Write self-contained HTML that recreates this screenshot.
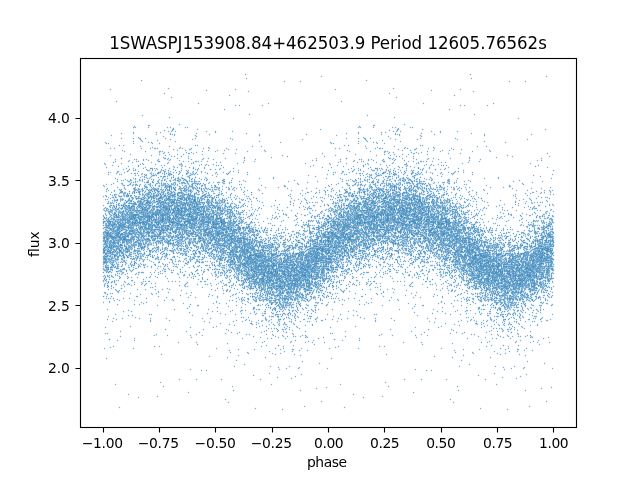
<!DOCTYPE html>
<html lang="en"><head><meta charset="utf-8"><title>1SWASPJ153908.84+462503.9 phase-folded light curve</title>
<style>
html,body{margin:0;padding:0;background:#fff;overflow:hidden}
svg{display:block}
text{font-family:"DejaVu Sans","Liberation Sans",sans-serif;font-size:13.889px;fill:#000}
.t{font-size:16.667px}
</style></head>
<body>
<svg width="640" height="480" viewBox="0 0 640 480">
<rect width="640" height="480" fill="#fff"/>
<defs>
<path id="L1" d="M328 185h.01m0 11h-.01m0 9h.01m0 4h-.01m0 6h.01m0 1h-.01m0 3h.01m0 2h-.01m0 1h.01m0 1h-.01m0 2h.01m0 3h-.01m0 4h.01m0 1h-.01m0 1h.01m0 2h-.01m0 1h.01m0 1h-.01m0 2h.01m0 1h-.01m0 3h.01m0 2h-.01m0 2h.01m0 1h-.01m0 1h.01m0 1h-.01m0 1h.01m0 1h-.01m0 3h.01m0 1h-.01m0 1h.01m0 1h-.01m0 2h.01m0 1h-.01m0 1h.01m0 1h-.01m0 2h.01m0 2h-.01m0 1h.01m0 3h-.01m0 4h.01m0 4h-.01m0 1h.01m0 15h-.01m0 6h.01M329 163h.01m0 23h-.01m0 22h.01m0 2h-.01m0 7h.01m0 1h-.01m0 3h.01m0 6h-.01m0 4h.01m0 1h-.01m0 2h.01m0 1h-.01m0 1h.01m0 1h-.01m0 1h.01m0 1h-.01m0 1h.01m0 1h-.01m0 2h.01m0 1h-.01m0 3h.01m0 1h-.01m0 2h.01m0 1h-.01m0 1h.01m0 3h-.01m0 1h.01m0 1h-.01m0 1h.01m0 1h-.01m0 2h.01m0 1h-.01m0 1h.01m0 6h-.01m0 1h.01m0 5h-.01m0 3h.01m0 1h-.01m0 5h.01m0 1h-.01m0 1h.01m0 6h-.01m0 56h.01M330 142h.01m0 22h-.01m0 31h.01m0 4h-.01m0 8h.01m0 4h-.01m0 2h.01m0 1h-.01m0 4h.01m0 3h-.01m0 2h.01m0 1h-.01m0 1h.01m0 2h-.01m0 2h.01m0 2h-.01m0 1h.01m0 1h-.01m0 2h.01m0 1h-.01m0 1h.01m0 3h-.01m0 1h.01m0 1h-.01m0 1h.01m0 1h-.01m0 2h.01m0 1h-.01m0 2h.01m0 1h-.01m0 3h.01m0 1h-.01m0 2h.01m0 2h-.01m0 1h.01m0 1h-.01m0 1h.01m0 1h-.01m0 3h.01m0 1h-.01m0 1h.01m0 3h-.01m0 6h.01m0 1h-.01m0 3h.01m0 3h-.01m0 9h.01m0 1h-.01m0 34h.01m0 6h-.01M331 143h.01m0 24h-.01m0 17h.01m0 5h-.01m0 2h.01m0 5h-.01m0 12h.01m0 1h-.01m0 1h.01m0 5h-.01m0 2h.01m0 1h-.01m0 2h.01m0 3h-.01m0 1h.01m0 1h-.01m0 1h.01m0 1h-.01m0 2h.01m0 1h-.01m0 2h.01m0 1h-.01m0 1h.01m0 1h-.01m0 1h.01m0 1h-.01m0 1h.01m0 1h-.01m0 1h.01m0 1h-.01m0 2h.01m0 1h-.01m0 1h.01m0 1h-.01m0 1h.01m0 2h-.01m0 3h.01m0 1h-.01m0 1h.01m0 2h-.01m0 1h.01m0 2h-.01m0 1h.01m0 2h-.01m0 1h.01m0 1h-.01m0 2h.01m0 1h-.01m0 1h.01m0 1h-.01m0 2h.01m0 1h-.01m0 7h.01m0 2h-.01m0 15h.01m0 2h-.01m0 60h.01M332 188h.01m0 11h-.01m0 4h.01m0 5h-.01m0 2h.01m0 9h-.01m0 2h.01m0 1h-.01m0 3h.01m0 2h-.01m0 3h.01m0 2h-.01m0 1h.01m0 1h-.01m0 1h.01m0 1h-.01m0 2h.01m0 1h-.01m0 1h.01m0 1h-.01m0 1h.01m0 1h-.01m0 2h.01m0 1h-.01m0 2h.01m0 2h-.01m0 1h.01m0 2h-.01m0 2h.01m0 1h-.01m0 2h.01m0 3h-.01m0 1h.01m0 3h-.01m0 2h.01m0 1h-.01m0 1h.01m0 1h-.01m0 1h.01m0 4h-.01m0 1h.01m0 7h-.01m0 2h.01m0 2h-.01m0 7h.01m0 15h-.01m0 10h.01m0 14h-.01M333 143h.01m0 29h-.01m0 2h.01m0 16h-.01m0 7h.01m0 4h-.01m0 1h.01m0 1h-.01m0 6h.01m0 2h-.01m0 1h.01m0 6h-.01m0 1h.01m0 1h-.01m0 1h.01m0 1h-.01m0 1h.01m0 1h-.01m0 1h.01m0 1h-.01m0 2h.01m0 3h-.01m0 1h.01m0 1h-.01m0 1h.01m0 1h-.01m0 1h.01m0 1h-.01m0 1h.01m0 1h-.01m0 1h.01m0 3h-.01m0 4h.01m0 2h-.01m0 2h.01m0 2h-.01m0 2h.01m0 3h-.01m0 1h.01m0 2h-.01m0 4h.01m0 2h-.01m0 1h.01m0 1h-.01m0 3h.01m0 4h-.01m0 5h.01m0 1h-.01m0 4h.01m0 3h-.01m0 9h.01m0 18h-.01M334 206h.01m0 5h-.01m0 1h.01m0 1h-.01m0 1h.01m0 3h-.01m0 3h.01m0 1h-.01m0 1h.01m0 1h-.01m0 1h.01m0 1h-.01m0 2h.01m0 1h-.01m0 2h.01m0 3h-.01m0 1h.01m0 1h-.01m0 1h.01m0 2h-.01m0 3h.01m0 1h-.01m0 2h.01m0 1h-.01m0 1h.01m0 1h-.01m0 3h.01m0 1h-.01m0 1h.01m0 1h-.01m0 3h.01m0 2h-.01m0 1h.01m0 1h-.01m0 2h.01m0 9h-.01m0 4h.01m0 2h-.01m0 2h.01m0 22h-.01m0 1h.01m0 37h-.01M335 89h.01m0 59h-.01m0 7h.01m0 17h-.01m0 22h.01m0 4h-.01m0 4h.01m0 1h-.01m0 2h.01m0 2h-.01m0 2h.01m0 1h-.01m0 1h.01m0 3h-.01m0 2h.01m0 3h-.01m0 2h.01m0 1h-.01m0 1h.01m0 1h-.01m0 2h.01m0 2h-.01m0 1h.01m0 3h-.01m0 1h.01m0 1h-.01m0 1h.01m0 1h-.01m0 1h.01m0 3h-.01m0 1h.01m0 1h-.01m0 1h.01m0 1h-.01m0 1h.01m0 1h-.01m0 1h.01m0 1h-.01m0 1h.01m0 1h-.01m0 1h.01m0 1h-.01m0 1h.01m0 2h-.01m0 1h.01m0 3h-.01m0 2h.01m0 2h-.01m0 4h.01m0 2h-.01m0 2h.01m0 22h-.01m0 5h.01m0 49h-.01M336 135h.01m0 49h-.01m0 8h.01m0 11h-.01m0 2h.01m0 5h-.01m0 2h.01m0 3h-.01m0 2h.01m0 1h-.01m0 1h.01m0 2h-.01m0 3h.01m0 1h-.01m0 3h.01m0 1h-.01m0 1h.01m0 2h-.01m0 2h.01m0 1h-.01m0 1h.01m0 1h-.01m0 1h.01m0 2h-.01m0 1h.01m0 1h-.01m0 2h.01m0 1h-.01m0 1h.01m0 1h-.01m0 1h.01m0 1h-.01m0 1h.01m0 2h-.01m0 2h.01m0 3h-.01m0 1h.01m0 1h-.01m0 1h.01m0 2h-.01m0 2h.01m0 2h-.01m0 1h.01m0 2h-.01m0 3h.01m0 3h-.01m0 1h.01m0 6h-.01m0 3h.01m0 1h-.01m0 2h.01m0 8h-.01M337 165h.01m0 30h-.01m0 2h.01m0 3h-.01m0 2h.01m0 5h-.01m0 1h.01m0 2h-.01m0 1h.01m0 2h-.01m0 5h.01m0 3h-.01m0 1h.01m0 1h-.01m0 1h.01m0 1h-.01m0 1h.01m0 1h-.01m0 2h.01m0 2h-.01m0 2h.01m0 2h-.01m0 1h.01m0 1h-.01m0 1h.01m0 1h-.01m0 3h.01m0 1h-.01m0 2h.01m0 2h-.01m0 1h.01m0 3h-.01m0 1h.01m0 1h-.01m0 1h.01m0 2h-.01m0 1h.01m0 1h-.01m0 2h.01m0 2h-.01m0 1h.01m0 1h-.01m0 1h.01m0 2h-.01m0 2h.01m0 1h-.01m0 6h.01m0 5h-.01m0 12h.01m0 28h-.01M338 162h.01m0 21h-.01m0 14h.01m0 6h-.01m0 2h.01m0 1h-.01m0 3h.01m0 5h-.01m0 1h.01m0 1h-.01m0 2h.01m0 1h-.01m0 1h.01m0 2h-.01m0 1h.01m0 1h-.01m0 1h.01m0 1h-.01m0 2h.01m0 1h-.01m0 1h.01m0 1h-.01m0 1h.01m0 1h-.01m0 3h.01m0 1h-.01m0 1h.01m0 1h-.01m0 1h.01m0 1h-.01m0 1h.01m0 1h-.01m0 1h.01m0 1h-.01m0 1h.01m0 1h-.01m0 2h.01m0 2h-.01m0 1h.01m0 2h-.01m0 4h.01m0 2h-.01m0 1h.01m0 1h-.01m0 3h.01m0 1h-.01m0 11h.01m0 10h-.01m0 11h.01m0 20h-.01m0 28h.01M339 148h.01m0 42h-.01m0 1h.01m0 3h-.01m0 1h.01m0 4h-.01m0 1h.01m0 1h-.01m0 5h.01m0 1h-.01m0 2h.01m0 3h-.01m0 1h.01m0 1h-.01m0 2h.01m0 1h-.01m0 2h.01m0 3h-.01m0 1h.01m0 1h-.01m0 1h.01m0 2h-.01m0 1h.01m0 2h-.01m0 1h.01m0 1h-.01m0 2h.01m0 2h-.01m0 1h.01m0 1h-.01m0 2h.01m0 1h-.01m0 1h.01m0 1h-.01m0 2h.01m0 1h-.01m0 3h.01m0 1h-.01m0 2h.01m0 2h-.01m0 1h.01m0 1h-.01m0 1h.01m0 3h-.01m0 4h.01m0 3h-.01m0 13h.01m0 1h-.01m0 1h.01m0 18h-.01M340 159h.01m0 2h-.01m0 17h.01m0 16h-.01m0 2h.01m0 1h-.01m0 3h.01m0 8h-.01m0 2h.01m0 2h-.01m0 1h.01m0 2h-.01m0 2h.01m0 3h-.01m0 1h.01m0 2h-.01m0 1h.01m0 1h-.01m0 1h.01m0 1h-.01m0 3h.01m0 1h-.01m0 2h.01m0 2h-.01m0 2h.01m0 1h-.01m0 1h.01m0 1h-.01m0 2h.01m0 1h-.01m0 1h.01m0 2h-.01m0 1h.01m0 3h-.01m0 1h.01m0 3h-.01m0 1h.01m0 1h-.01m0 2h.01m0 1h-.01m0 2h.01m0 5h-.01m0 1h.01m0 7h-.01m0 1h.01m0 9h-.01m0 5h.01m0 25h-.01m0 70h.01M341 101h.01m0 72h-.01m0 21h.01m0 3h-.01m0 3h.01m0 2h-.01m0 2h.01m0 1h-.01m0 1h.01m0 1h-.01m0 2h.01m0 2h-.01m0 3h.01m0 1h-.01m0 1h.01m0 1h-.01m0 2h.01m0 2h-.01m0 3h.01m0 1h-.01m0 1h.01m0 3h-.01m0 1h.01m0 1h-.01m0 1h.01m0 1h-.01m0 1h.01m0 1h-.01m0 1h.01m0 1h-.01m0 1h.01m0 2h-.01m0 2h.01m0 3h-.01m0 1h.01m0 2h-.01m0 1h.01m0 1h-.01m0 2h.01m0 1h-.01m0 2h.01m0 4h-.01m0 3h.01m0 1h-.01m0 5h.01m0 3h-.01m0 9h.01m0 4h-.01m0 6h.01m0 29h-.01M342 171h.01m0 1h-.01m0 7h.01m0 2h-.01m0 6h.01m0 12h-.01m0 1h.01m0 9h-.01m0 7h.01m0 1h-.01m0 2h.01m0 2h-.01m0 1h.01m0 1h-.01m0 3h.01m0 1h-.01m0 1h.01m0 1h-.01m0 1h.01m0 1h-.01m0 1h.01m0 2h-.01m0 1h.01m0 1h-.01m0 1h.01m0 2h-.01m0 1h.01m0 1h-.01m0 1h.01m0 1h-.01m0 3h.01m0 1h-.01m0 1h.01m0 3h-.01m0 1h.01m0 1h-.01m0 1h.01m0 2h-.01m0 1h.01m0 1h-.01m0 1h.01m0 1h-.01m0 4h.01m0 1h-.01m0 1h.01m0 1h-.01m0 1h.01m0 3h-.01m0 2h.01m0 2h-.01m0 16h.01m0 8h-.01m0 5h.01m0 36h-.01M343 166h.01m0 5h-.01m0 24h.01m0 8h-.01m0 1h.01m0 1h-.01m0 3h.01m0 1h-.01m0 2h.01m0 1h-.01m0 1h.01m0 1h-.01m0 1h.01m0 1h-.01m0 1h.01m0 2h-.01m0 1h.01m0 2h-.01m0 1h.01m0 1h-.01m0 1h.01m0 1h-.01m0 1h.01m0 1h-.01m0 1h.01m0 1h-.01m0 2h.01m0 1h-.01m0 1h.01m0 1h-.01m0 1h.01m0 1h-.01m0 2h.01m0 1h-.01m0 1h.01m0 1h-.01m0 1h.01m0 1h-.01m0 1h.01m0 1h-.01m0 1h.01m0 1h-.01m0 1h.01m0 3h-.01m0 4h.01m0 1h-.01m0 2h.01m0 3h-.01m0 2h.01m0 2h-.01m0 2h.01m0 3h-.01m0 9h.01m0 11h-.01m0 1h.01M344 145h.01m0 29h-.01m0 15h.01m0 4h-.01m0 3h.01m0 7h-.01m0 2h.01m0 2h-.01m0 3h.01m0 2h-.01m0 3h.01m0 2h-.01m0 2h.01m0 2h-.01m0 1h.01m0 2h-.01m0 1h.01m0 1h-.01m0 1h.01m0 1h-.01m0 1h.01m0 1h-.01m0 1h.01m0 1h-.01m0 1h.01m0 3h-.01m0 1h.01m0 1h-.01m0 1h.01m0 1h-.01m0 1h.01m0 4h-.01m0 1h.01m0 2h-.01m0 1h.01m0 1h-.01m0 1h.01m0 1h-.01m0 1h.01m0 1h-.01m0 1h.01m0 15h-.01m0 3h.01m0 3h-.01m0 2h.01m0 12h-.01m0 10h.01m0 107h-.01M345 190h.01m0 2h-.01m0 4h.01m0 2h-.01m0 1h.01m0 1h-.01m0 1h.01m0 7h-.01m0 3h.01m0 1h-.01m0 1h.01m0 3h-.01m0 2h.01m0 1h-.01m0 1h.01m0 1h-.01m0 1h.01m0 1h-.01m0 1h.01m0 1h-.01m0 1h.01m0 1h-.01m0 2h.01m0 2h-.01m0 3h.01m0 1h-.01m0 1h.01m0 1h-.01m0 1h.01m0 1h-.01m0 1h.01m0 2h-.01m0 2h.01m0 1h-.01m0 1h.01m0 1h-.01m0 3h.01m0 1h-.01m0 4h.01m0 7h-.01m0 7h.01m0 2h-.01m0 6h.01m0 54h-.01m0 5h.01M346 133h.01m0 5h-.01m0 20h.01m0 5h-.01m0 11h.01m0 6h-.01m0 3h.01m0 6h-.01m0 2h.01m0 1h-.01m0 4h.01m0 3h-.01m0 6h.01m0 3h-.01m0 1h.01m0 3h-.01m0 2h.01m0 1h-.01m0 1h.01m0 3h-.01m0 1h.01m0 3h-.01m0 1h.01m0 1h-.01m0 1h.01m0 1h-.01m0 1h.01m0 2h-.01m0 3h.01m0 1h-.01m0 3h.01m0 1h-.01m0 1h.01m0 5h-.01m0 1h.01m0 2h-.01m0 1h.01m0 1h-.01m0 1h.01m0 1h-.01m0 1h.01m0 1h-.01m0 3h.01m0 2h-.01m0 1h.01m0 2h-.01m0 5h.01m0 4h-.01m0 1h.01m0 3h-.01m0 11h.01m0 3h-.01M347 150h.01m0 33h-.01m0 1h.01m0 7h-.01m0 1h.01m0 6h-.01m0 1h.01m0 1h-.01m0 5h.01m0 2h-.01m0 1h.01m0 3h-.01m0 1h.01m0 1h-.01m0 1h.01m0 1h-.01m0 1h.01m0 1h-.01m0 1h.01m0 2h-.01m0 1h.01m0 1h-.01m0 2h.01m0 1h-.01m0 1h.01m0 1h-.01m0 1h.01m0 1h-.01m0 1h.01m0 3h-.01m0 1h.01m0 1h-.01m0 1h.01m0 1h-.01m0 2h.01m0 1h-.01m0 1h.01m0 1h-.01m0 1h.01m0 2h-.01m0 2h.01m0 1h-.01m0 4h.01m0 1h-.01m0 2h.01m0 3h-.01m0 1h.01m0 3h-.01m0 2h.01m0 1h-.01m0 4h.01m0 3h-.01m0 1h.01m0 45h-.01M348 145h.01m0 24h-.01m0 11h.01m0 5h-.01m0 8h.01m0 1h-.01m0 1h.01m0 4h-.01m0 5h.01m0 1h-.01m0 1h.01m0 4h-.01m0 1h.01m0 1h-.01m0 1h.01m0 2h-.01m0 1h.01m0 1h-.01m0 1h.01m0 1h-.01m0 1h.01m0 2h-.01m0 1h.01m0 1h-.01m0 1h.01m0 1h-.01m0 2h.01m0 1h-.01m0 3h.01m0 2h-.01m0 2h.01m0 1h-.01m0 1h.01m0 1h-.01m0 1h.01m0 1h-.01m0 1h.01m0 7h-.01m0 1h.01m0 1h-.01m0 2h.01m0 1h-.01m0 1h.01m0 1h-.01m0 1h.01m0 3h-.01m0 1h.01m0 7h-.01m0 1h.01m0 3h-.01m0 12h.01m0 14h-.01m0 13h.01M349 151h.01m0 21h-.01m0 13h.01m0 2h-.01m0 1h.01m0 4h-.01m0 1h.01m0 2h-.01m0 1h.01m0 6h-.01m0 1h.01m0 1h-.01m0 2h.01m0 1h-.01m0 1h.01m0 5h-.01m0 1h.01m0 2h-.01m0 1h.01m0 2h-.01m0 1h.01m0 3h-.01m0 1h.01m0 1h-.01m0 1h.01m0 1h-.01m0 2h.01m0 3h-.01m0 2h.01m0 2h-.01m0 1h.01m0 1h-.01m0 1h.01m0 2h-.01m0 1h.01m0 2h-.01m0 1h.01m0 1h-.01m0 4h.01m0 6h-.01m0 1h.01m0 1h-.01m0 2h.01m0 1h-.01m0 7h.01m0 1h-.01m0 12h.01m0 5h-.01m0 5h.01M350 179h.01m0 10h-.01m0 3h.01m0 1h-.01m0 7h.01m0 3h-.01m0 2h.01m0 2h-.01m0 1h.01m0 1h-.01m0 1h.01m0 1h-.01m0 3h.01m0 1h-.01m0 1h.01m0 1h-.01m0 1h.01m0 1h-.01m0 1h.01m0 1h-.01m0 1h.01m0 1h-.01m0 1h.01m0 2h-.01m0 1h.01m0 2h-.01m0 2h.01m0 1h-.01m0 1h.01m0 2h-.01m0 1h.01m0 1h-.01m0 1h.01m0 1h-.01m0 1h.01m0 6h-.01m0 2h.01m0 1h-.01m0 1h.01m0 1h-.01m0 1h.01m0 2h-.01m0 8h.01m0 2h-.01m0 10h.01m0 8h-.01M351 168h.01m0 27h-.01m0 1h.01m0 5h-.01m0 1h.01m0 3h-.01m0 1h.01m0 2h-.01m0 1h.01m0 2h-.01m0 1h.01m0 1h-.01m0 2h.01m0 2h-.01m0 2h.01m0 3h-.01m0 3h.01m0 2h-.01m0 2h.01m0 1h-.01m0 1h.01m0 1h-.01m0 1h.01m0 1h-.01m0 2h.01m0 3h-.01m0 1h.01m0 1h-.01m0 1h.01m0 1h-.01m0 1h.01m0 2h-.01m0 1h.01m0 1h-.01m0 1h.01m0 2h-.01m0 1h.01m0 3h-.01m0 5h.01m0 3h-.01m0 7h.01m0 1h-.01M352 171h.01m0 9h-.01m0 5h.01m0 8h-.01m0 1h.01m0 2h-.01m0 5h.01m0 5h-.01m0 1h.01m0 2h-.01m0 3h.01m0 1h-.01m0 1h.01m0 2h-.01m0 2h.01m0 1h-.01m0 1h.01m0 1h-.01m0 1h.01m0 1h-.01m0 3h.01m0 1h-.01m0 3h.01m0 3h-.01m0 1h.01m0 1h-.01m0 1h.01m0 3h-.01m0 1h.01m0 1h-.01m0 1h.01m0 1h-.01m0 1h.01m0 4h-.01m0 1h.01m0 1h-.01m0 1h.01m0 1h-.01m0 4h.01m0 1h-.01m0 16h.01m0 3h-.01m0 2h.01m0 6h-.01M353 161h.01m0 5h-.01m0 4h.01m0 11h-.01m0 4h.01m0 10h-.01m0 1h.01m0 3h-.01m0 1h.01m0 3h-.01m0 2h.01m0 1h-.01m0 1h.01m0 1h-.01m0 2h.01m0 1h-.01m0 3h.01m0 1h-.01m0 2h.01m0 2h-.01m0 1h.01m0 1h-.01m0 1h.01m0 1h-.01m0 2h.01m0 1h-.01m0 1h.01m0 1h-.01m0 1h.01m0 3h-.01m0 1h.01m0 1h-.01m0 1h.01m0 1h-.01m0 1h.01m0 2h-.01m0 1h.01m0 1h-.01m0 2h.01m0 2h-.01m0 1h.01m0 1h-.01m0 1h.01m0 1h-.01m0 1h.01m0 1h-.01m0 4h.01m0 2h-.01m0 8h.01m0 2h-.01m0 10h.01m0 6h-.01m0 27h.01m0 5h-.01m0 79h.01M354 160h.01m0 9h-.01m0 12h.01m0 3h-.01m0 7h.01m0 2h-.01m0 5h.01m0 1h-.01m0 1h.01m0 2h-.01m0 1h.01m0 2h-.01m0 1h.01m0 1h-.01m0 1h.01m0 1h-.01m0 1h.01m0 2h-.01m0 1h.01m0 1h-.01m0 1h.01m0 1h-.01m0 1h.01m0 1h-.01m0 1h.01m0 1h-.01m0 1h.01m0 1h-.01m0 2h.01m0 1h-.01m0 2h.01m0 3h-.01m0 1h.01m0 1h-.01m0 1h.01m0 1h-.01m0 5h.01m0 1h-.01m0 2h.01m0 3h-.01m0 1h.01m0 1h-.01m0 2h.01m0 1h-.01m0 1h.01m0 2h-.01m0 1h.01m0 1h-.01m0 12h.01m0 2h-.01m0 15h.01m0 14h-.01M355 154h.01m0 25h-.01m0 1h.01m0 3h-.01m0 1h.01m0 11h-.01m0 1h.01m0 4h-.01m0 1h.01m0 2h-.01m0 4h.01m0 1h-.01m0 1h.01m0 1h-.01m0 2h.01m0 1h-.01m0 1h.01m0 1h-.01m0 1h.01m0 1h-.01m0 1h.01m0 1h-.01m0 2h.01m0 2h-.01m0 1h.01m0 1h-.01m0 1h.01m0 1h-.01m0 1h.01m0 2h-.01m0 1h.01m0 2h-.01m0 1h.01m0 3h-.01m0 1h.01m0 1h-.01m0 1h.01m0 1h-.01m0 2h.01m0 3h-.01m0 2h.01m0 4h-.01m0 2h.01m0 2h-.01m0 2h.01m0 5h-.01m0 1h.01m0 6h-.01m0 23h.01m0 33h-.01M356 173h.01m0 7h-.01m0 2h.01m0 13h-.01m0 2h.01m0 3h-.01m0 1h.01m0 2h-.01m0 3h.01m0 1h-.01m0 1h.01m0 3h-.01m0 1h.01m0 1h-.01m0 1h.01m0 1h-.01m0 1h.01m0 1h-.01m0 1h.01m0 1h-.01m0 3h.01m0 1h-.01m0 2h.01m0 1h-.01m0 1h.01m0 1h-.01m0 1h.01m0 1h-.01m0 1h.01m0 2h-.01m0 1h.01m0 2h-.01m0 1h.01m0 1h-.01m0 1h.01m0 1h-.01m0 1h.01m0 1h-.01m0 2h.01m0 1h-.01m0 2h.01m0 2h-.01m0 3h.01m0 2h-.01m0 2h.01m0 2h-.01m0 3h.01m0 1h-.01m0 3h.01m0 1h-.01m0 5h.01m0 6h-.01m0 3h.01m0 5h-.01m0 26h.01M357 162h.01m0 23h-.01m0 7h.01m0 1h-.01m0 4h.01m0 1h-.01m0 1h.01m0 4h-.01m0 2h.01m0 1h-.01m0 1h.01m0 2h-.01m0 1h.01m0 2h-.01m0 1h.01m0 1h-.01m0 1h.01m0 1h-.01m0 1h.01m0 1h-.01m0 1h.01m0 2h-.01m0 1h.01m0 1h-.01m0 1h.01m0 1h-.01m0 2h.01m0 1h-.01m0 1h.01m0 1h-.01m0 1h.01m0 1h-.01m0 1h.01m0 2h-.01m0 1h.01m0 1h-.01m0 1h.01m0 1h-.01m0 6h.01m0 1h-.01m0 2h.01m0 11h-.01m0 5h.01m0 6h-.01m0 10h.01m0 35h-.01M358 127h.01m0 5h-.01m0 1h.01m0 5h-.01m0 3h.01m0 2h-.01m0 25h.01m0 2h-.01m0 8h.01m0 4h-.01m0 2h.01m0 4h-.01m0 3h.01m0 7h-.01m0 3h.01m0 2h-.01m0 1h.01m0 1h-.01m0 1h.01m0 2h-.01m0 1h.01m0 1h-.01m0 2h.01m0 2h-.01m0 1h.01m0 1h-.01m0 1h.01m0 1h-.01m0 2h.01m0 2h-.01m0 2h.01m0 1h-.01m0 1h.01m0 1h-.01m0 1h.01m0 2h-.01m0 1h.01m0 1h-.01m0 1h.01m0 3h-.01m0 1h.01m0 2h-.01m0 1h.01m0 1h-.01m0 2h.01m0 1h-.01m0 1h.01m0 6h-.01m0 2h.01m0 3h-.01m0 2h.01m0 7h-.01m0 2h.01m0 2h-.01m0 79h.01M359 126h.01m0 33h-.01m0 14h.01m0 15h-.01m0 1h.01m0 1h-.01m0 1h.01m0 1h-.01m0 1h.01m0 2h-.01m0 7h.01m0 1h-.01m0 1h.01m0 2h-.01m0 1h.01m0 1h-.01m0 1h.01m0 2h-.01m0 3h.01m0 1h-.01m0 2h.01m0 1h-.01m0 1h.01m0 1h-.01m0 2h.01m0 1h-.01m0 1h.01m0 1h-.01m0 4h.01m0 2h-.01m0 1h.01m0 1h-.01m0 1h.01m0 2h-.01m0 2h.01m0 1h-.01m0 3h.01m0 1h-.01m0 1h.01m0 1h-.01m0 1h.01m0 1h-.01m0 2h.01m0 1h-.01m0 1h.01m0 2h-.01m0 5h.01m0 1h-.01m0 2h.01m0 1h-.01m0 1h.01m0 1h-.01m0 1h.01m0 17h-.01m0 2h.01m0 16h-.01m0 4h.01m0 34h-.01m0 2h.01M360 127h.01m0 42h-.01m0 1h.01m0 3h-.01m0 2h.01m0 3h-.01m0 1h.01m0 2h-.01m0 1h.01m0 2h-.01m0 1h.01m0 2h-.01m0 2h.01m0 1h-.01m0 6h.01m0 1h-.01m0 5h.01m0 1h-.01m0 1h.01m0 6h-.01m0 1h.01m0 3h-.01m0 1h.01m0 1h-.01m0 1h.01m0 1h-.01m0 2h.01m0 1h-.01m0 1h.01m0 1h-.01m0 1h.01m0 1h-.01m0 4h.01m0 1h-.01m0 2h.01m0 2h-.01m0 1h.01m0 1h-.01m0 5h.01m0 1h-.01m0 2h.01m0 1h-.01m0 5h.01m0 1h-.01m0 2h.01m0 2h-.01m0 2h.01m0 5h-.01m0 6h.01m0 6h-.01m0 43h.01M361 159h.01m0 2h-.01m0 23h.01m0 5h-.01m0 3h.01m0 4h-.01m0 2h.01m0 1h-.01m0 5h.01m0 3h-.01m0 1h.01m0 2h-.01m0 1h.01m0 1h-.01m0 2h.01m0 1h-.01m0 2h.01m0 2h-.01m0 1h.01m0 1h-.01m0 2h.01m0 2h-.01m0 1h.01m0 2h-.01m0 2h.01m0 2h-.01m0 1h.01m0 3h-.01m0 1h.01m0 2h-.01m0 2h.01m0 1h-.01m0 2h.01m0 1h-.01m0 5h.01m0 5h-.01m0 3h.01m0 1h-.01m0 1h.01m0 3h-.01m0 5h.01m0 5h-.01m0 23h.01M362 173h.01m0 8h-.01m0 4h.01m0 5h-.01m0 8h.01m0 3h-.01m0 1h.01m0 4h-.01m0 2h.01m0 1h-.01m0 1h.01m0 2h-.01m0 1h.01m0 1h-.01m0 1h.01m0 2h-.01m0 3h.01m0 1h-.01m0 1h.01m0 1h-.01m0 1h.01m0 1h-.01m0 4h.01m0 1h-.01m0 1h.01m0 1h-.01m0 2h.01m0 3h-.01m0 3h.01m0 1h-.01m0 1h.01m0 6h-.01m0 2h.01m0 1h-.01m0 1h.01m0 1h-.01m0 3h.01m0 1h-.01m0 1h.01m0 19h-.01m0 12h.01m0 7h-.01M363 137h.01m0 24h-.01m0 4h.01m0 1h-.01m0 5h.01m0 4h-.01m0 13h.01m0 1h-.01m0 2h.01m0 1h-.01m0 4h.01m0 1h-.01m0 1h.01m0 2h-.01m0 1h.01m0 1h-.01m0 2h.01m0 1h-.01m0 2h.01m0 3h-.01m0 1h.01m0 3h-.01m0 1h.01m0 1h-.01m0 1h.01m0 1h-.01m0 4h.01m0 2h-.01m0 1h.01m0 2h-.01m0 4h.01m0 1h-.01m0 2h.01m0 1h-.01m0 1h.01m0 1h-.01m0 1h.01m0 1h-.01m0 1h.01m0 2h-.01m0 1h.01m0 1h-.01m0 1h.01m0 1h-.01m0 2h.01m0 2h-.01m0 1h.01m0 3h-.01m0 2h.01m0 8h-.01m0 2h.01m0 1h-.01m0 5h.01m0 2h-.01m0 123h.01M364 138h.01m0 41h-.01m0 1h.01m0 5h-.01m0 1h.01m0 3h-.01m0 2h.01m0 1h-.01m0 1h.01m0 1h-.01m0 2h.01m0 2h-.01m0 3h.01m0 2h-.01m0 1h.01m0 1h-.01m0 1h.01m0 1h-.01m0 3h.01m0 2h-.01m0 1h.01m0 2h-.01m0 1h.01m0 2h-.01m0 1h.01m0 1h-.01m0 1h.01m0 1h-.01m0 1h.01m0 3h-.01m0 2h.01m0 1h-.01m0 3h.01m0 1h-.01m0 2h.01m0 1h-.01m0 3h.01m0 1h-.01m0 3h.01m0 1h-.01m0 1h.01m0 3h-.01m0 2h.01m0 1h-.01m0 2h.01m0 5h-.01m0 2h.01m0 5h-.01m0 7h.01m0 32h-.01m0 14h.01M365 138h.01m0 1h-.01m0 7h.01m0 18h-.01m0 13h.01m0 3h-.01m0 4h.01m0 7h-.01m0 3h.01m0 4h-.01m0 2h.01m0 1h-.01m0 1h.01m0 1h-.01m0 1h.01m0 1h-.01m0 1h.01m0 2h-.01m0 2h.01m0 2h-.01m0 1h.01m0 3h-.01m0 1h.01m0 1h-.01m0 1h.01m0 1h-.01m0 2h.01m0 1h-.01m0 1h.01m0 1h-.01m0 1h.01m0 1h-.01m0 1h.01m0 1h-.01m0 1h.01m0 1h-.01m0 1h.01m0 1h-.01m0 1h.01m0 3h-.01m0 2h.01m0 2h-.01m0 1h.01m0 1h-.01m0 1h.01m0 1h-.01m0 1h.01m0 1h-.01m0 4h.01m0 2h-.01m0 2h.01m0 1h-.01m0 1h.01m0 1h-.01m0 5h.01m0 3h-.01m0 28h.01M366 80h.01m0 60h-.01m0 8h.01m0 26h-.01m0 15h.01m0 9h-.01m0 1h.01m0 2h-.01m0 1h.01m0 1h-.01m0 1h.01m0 2h-.01m0 1h.01m0 1h-.01m0 2h.01m0 1h-.01m0 1h.01m0 1h-.01m0 1h.01m0 2h-.01m0 1h.01m0 1h-.01m0 1h.01m0 1h-.01m0 2h.01m0 4h-.01m0 1h.01m0 2h-.01m0 1h.01m0 2h-.01m0 1h.01m0 1h-.01m0 1h.01m0 1h-.01m0 1h.01m0 1h-.01m0 2h.01m0 3h-.01m0 1h.01m0 1h-.01m0 2h.01m0 1h-.01m0 1h.01m0 4h-.01m0 3h.01m0 2h-.01m0 6h.01m0 8h-.01m0 10h.01m0 2h-.01m0 18h.01M367 115h.01m0 26h-.01m0 22h.01m0 10h-.01m0 3h.01m0 3h-.01m0 1h.01m0 1h-.01m0 7h.01m0 1h-.01m0 1h.01m0 1h-.01m0 2h.01m0 1h-.01m0 1h.01m0 2h-.01m0 2h.01m0 3h-.01m0 1h.01m0 1h-.01m0 1h.01m0 2h-.01m0 1h.01m0 1h-.01m0 1h.01m0 1h-.01m0 1h.01m0 2h-.01m0 2h.01m0 1h-.01m0 2h.01m0 2h-.01m0 1h.01m0 1h-.01m0 1h.01m0 2h-.01m0 1h.01m0 1h-.01m0 5h.01m0 1h-.01m0 1h.01m0 1h-.01m0 3h.01m0 1h-.01m0 1h.01m0 5h-.01m0 1h.01m0 1h-.01m0 6h.01m0 1h-.01m0 4h.01m0 13h-.01m0 11h.01M368 159h.01m0 1h-.01m0 4h.01m0 4h-.01m0 22h.01m0 4h-.01m0 3h.01m0 2h-.01m0 2h.01m0 1h-.01m0 2h.01m0 2h-.01m0 2h.01m0 1h-.01m0 2h.01m0 1h-.01m0 1h.01m0 1h-.01m0 1h.01m0 1h-.01m0 1h.01m0 1h-.01m0 1h.01m0 1h-.01m0 1h.01m0 1h-.01m0 1h.01m0 1h-.01m0 1h.01m0 1h-.01m0 3h.01m0 1h-.01m0 1h.01m0 1h-.01m0 1h.01m0 2h-.01m0 1h.01m0 1h-.01m0 1h.01m0 2h-.01m0 2h.01m0 1h-.01m0 1h.01m0 3h-.01m0 1h.01m0 2h-.01m0 4h.01m0 2h-.01m0 4h.01m0 1h-.01m0 3h.01m0 1h-.01m0 7h.01m0 7h-.01m0 2h.01m0 22h-.01M369 174h.01m0 2h-.01m0 1h.01m0 2h-.01m0 3h.01m0 3h-.01m0 1h.01m0 2h-.01m0 4h.01m0 3h-.01m0 1h.01m0 2h-.01m0 2h.01m0 1h-.01m0 3h.01m0 3h-.01m0 1h.01m0 1h-.01m0 1h.01m0 1h-.01m0 1h.01m0 2h-.01m0 1h.01m0 1h-.01m0 2h.01m0 1h-.01m0 2h.01m0 2h-.01m0 1h.01m0 2h-.01m0 1h.01m0 1h-.01m0 2h.01m0 1h-.01m0 2h.01m0 3h-.01m0 2h.01m0 1h-.01m0 5h.01m0 2h-.01m0 1h.01m0 2h-.01m0 3h.01m0 1h-.01m0 1h.01m0 5h-.01m0 6h.01m0 2h-.01m0 18h.01M370 138h.01m0 13h-.01m0 16h.01m0 8h-.01m0 9h.01m0 2h-.01m0 1h.01m0 4h-.01m0 3h.01m0 3h-.01m0 3h.01m0 3h-.01m0 1h.01m0 1h-.01m0 2h.01m0 1h-.01m0 1h.01m0 1h-.01m0 2h.01m0 1h-.01m0 1h.01m0 1h-.01m0 1h.01m0 1h-.01m0 2h.01m0 2h-.01m0 1h.01m0 2h-.01m0 1h.01m0 1h-.01m0 1h.01m0 1h-.01m0 1h.01m0 3h-.01m0 3h.01m0 4h-.01m0 1h.01m0 2h-.01m0 1h.01m0 2h-.01m0 1h.01m0 11h-.01m0 7h.01m0 17h-.01m0 3h.01m0 5h-.01M371 159h.01m0 10h-.01m0 5h.01m0 1h-.01m0 2h.01m0 5h-.01m0 4h.01m0 1h-.01m0 2h.01m0 4h-.01m0 2h.01m0 3h-.01m0 2h.01m0 2h-.01m0 1h.01m0 2h-.01m0 1h.01m0 1h-.01m0 2h.01m0 1h-.01m0 1h.01m0 1h-.01m0 1h.01m0 2h-.01m0 1h.01m0 1h-.01m0 3h.01m0 1h-.01m0 1h.01m0 1h-.01m0 1h.01m0 1h-.01m0 2h.01m0 1h-.01m0 1h.01m0 1h-.01m0 2h.01m0 2h-.01m0 2h.01m0 2h-.01m0 1h.01m0 1h-.01m0 1h.01m0 1h-.01m0 1h.01m0 8h-.01m0 4h.01m0 22h-.01m0 6h.01m0 15h-.01m0 4h.01M372 170h.01m0 8h-.01m0 3h.01m0 1h-.01m0 5h.01m0 2h-.01m0 4h.01m0 1h-.01m0 1h.01m0 1h-.01m0 3h.01m0 1h-.01m0 1h.01m0 1h-.01m0 1h.01m0 2h-.01m0 3h.01m0 1h-.01m0 1h.01m0 1h-.01m0 2h.01m0 1h-.01m0 1h.01m0 1h-.01m0 1h.01m0 1h-.01m0 1h.01m0 1h-.01m0 1h.01m0 1h-.01m0 1h.01m0 5h-.01m0 1h.01m0 2h-.01m0 1h.01m0 1h-.01m0 5h.01m0 1h-.01m0 2h.01m0 3h-.01m0 1h.01m0 1h-.01m0 1h.01m0 2h-.01m0 6h.01m0 2h-.01m0 2h.01m0 7h-.01M373 125h.01m0 2h-.01m0 15h.01m0 18h-.01m0 10h.01m0 10h-.01m0 1h.01m0 1h-.01m0 2h.01m0 6h-.01m0 2h.01m0 1h-.01m0 1h.01m0 2h-.01m0 1h.01m0 1h-.01m0 2h.01m0 1h-.01m0 1h.01m0 2h-.01m0 1h.01m0 2h-.01m0 1h.01m0 1h-.01m0 3h.01m0 1h-.01m0 2h.01m0 1h-.01m0 1h.01m0 1h-.01m0 1h.01m0 2h-.01m0 2h.01m0 1h-.01m0 1h.01m0 1h-.01m0 1h.01m0 1h-.01m0 1h.01m0 2h-.01m0 1h.01m0 1h-.01m0 1h.01m0 1h-.01m0 1h.01m0 2h-.01m0 1h.01m0 1h-.01m0 3h.01m0 1h-.01m0 1h.01m0 3h-.01m0 7h.01m0 26h-.01M374 125h.01m0 45h-.01m0 8h.01m0 6h-.01m0 5h.01m0 2h-.01m0 1h.01m0 2h-.01m0 3h.01m0 4h-.01m0 1h.01m0 1h-.01m0 2h.01m0 1h-.01m0 1h.01m0 1h-.01m0 3h.01m0 1h-.01m0 2h.01m0 1h-.01m0 1h.01m0 1h-.01m0 1h.01m0 1h-.01m0 1h.01m0 1h-.01m0 2h.01m0 1h-.01m0 1h.01m0 1h-.01m0 2h.01m0 1h-.01m0 3h.01m0 1h-.01m0 2h.01m0 1h-.01m0 3h.01m0 1h-.01m0 1h.01m0 1h-.01m0 2h.01m0 6h-.01m0 1h.01m0 2h-.01m0 1h.01m0 6h-.01m0 17h.01m0 4h-.01m0 33h.01M375 148h.01m0 20h-.01m0 5h.01m0 4h-.01m0 6h.01m0 1h-.01m0 1h.01m0 1h-.01m0 4h.01m0 2h-.01m0 3h.01m0 1h-.01m0 4h.01m0 1h-.01m0 1h.01m0 1h-.01m0 2h.01m0 2h-.01m0 3h.01m0 1h-.01m0 1h.01m0 1h-.01m0 3h.01m0 1h-.01m0 1h.01m0 3h-.01m0 3h.01m0 1h-.01m0 1h.01m0 1h-.01m0 2h.01m0 1h-.01m0 1h.01m0 5h-.01m0 4h.01m0 2h-.01m0 2h.01m0 6h-.01m0 1h.01m0 1h-.01m0 2h.01m0 2h-.01m0 16h.01m0 4h-.01m0 11h.01m0 31h-.01m0 2h.01m0 1h-.01M376 142h.01m0 13h-.01m0 7h.01m0 6h-.01m0 4h.01m0 2h-.01m0 2h.01m0 3h-.01m0 8h.01m0 2h-.01m0 1h.01m0 3h-.01m0 1h.01m0 2h-.01m0 1h.01m0 1h-.01m0 1h.01m0 3h-.01m0 3h.01m0 4h-.01m0 1h.01m0 2h-.01m0 2h.01m0 1h-.01m0 1h.01m0 1h-.01m0 1h.01m0 1h-.01m0 1h.01m0 2h-.01m0 1h.01m0 1h-.01m0 1h.01m0 1h-.01m0 1h.01m0 1h-.01m0 1h.01m0 1h-.01m0 2h.01m0 1h-.01m0 2h.01m0 1h-.01m0 1h.01m0 1h-.01m0 5h.01m0 1h-.01m0 6h.01m0 11h-.01m0 5h.01m0 1h-.01m0 7h.01m0 9h-.01m0 10h.01m0 21h-.01M377 143h.01m0 4h-.01m0 21h.01m0 1h-.01m0 1h.01m0 5h-.01m0 6h.01m0 1h-.01m0 3h.01m0 3h-.01m0 3h.01m0 5h-.01m0 1h.01m0 4h-.01m0 2h.01m0 1h-.01m0 2h.01m0 1h-.01m0 1h.01m0 2h-.01m0 1h.01m0 1h-.01m0 1h.01m0 1h-.01m0 1h.01m0 1h-.01m0 1h.01m0 3h-.01m0 1h.01m0 1h-.01m0 1h.01m0 2h-.01m0 1h.01m0 1h-.01m0 1h.01m0 1h-.01m0 1h.01m0 1h-.01m0 1h.01m0 1h-.01m0 2h.01m0 1h-.01m0 1h.01m0 2h-.01m0 1h.01m0 8h-.01m0 1h.01m0 2h-.01m0 1h.01m0 3h-.01m0 1h.01m0 1h-.01m0 30h.01m0 7h-.01M378 173h.01m0 2h-.01m0 4h.01m0 1h-.01m0 2h.01m0 5h-.01m0 2h.01m0 4h-.01m0 1h.01m0 1h-.01m0 1h.01m0 1h-.01m0 1h.01m0 2h-.01m0 2h.01m0 4h-.01m0 1h.01m0 1h-.01m0 1h.01m0 1h-.01m0 2h.01m0 1h-.01m0 1h.01m0 2h-.01m0 1h.01m0 2h-.01m0 1h.01m0 4h-.01m0 1h.01m0 4h-.01m0 1h.01m0 2h-.01m0 1h.01m0 2h-.01m0 1h.01m0 2h-.01m0 1h.01m0 1h-.01m0 2h.01m0 1h-.01m0 2h.01m0 3h-.01m0 3h.01m0 6h-.01m0 5h.01M379 148h.01m0 20h-.01m0 7h.01m0 13h-.01m0 1h.01m0 1h-.01m0 1h.01m0 2h-.01m0 2h.01m0 1h-.01m0 2h.01m0 2h-.01m0 1h.01m0 1h-.01m0 3h.01m0 1h-.01m0 2h.01m0 1h-.01m0 3h.01m0 1h-.01m0 1h.01m0 3h-.01m0 1h.01m0 1h-.01m0 2h.01m0 1h-.01m0 2h.01m0 1h-.01m0 1h.01m0 3h-.01m0 1h.01m0 1h-.01m0 2h.01m0 1h-.01m0 1h.01m0 1h-.01m0 2h.01m0 1h-.01m0 1h.01m0 7h-.01m0 3h.01m0 5h-.01m0 9h.01m0 8h-.01m0 63h.01m0 11h-.01M380 148h.01m0 16h-.01m0 6h.01m0 4h-.01m0 10h.01m0 1h-.01m0 3h.01m0 1h-.01m0 3h.01m0 3h-.01m0 2h.01m0 5h-.01m0 4h.01m0 5h-.01m0 1h.01m0 1h-.01m0 1h.01m0 1h-.01m0 4h.01m0 1h-.01m0 1h.01m0 1h-.01m0 3h.01m0 1h-.01m0 1h.01m0 2h-.01m0 2h.01m0 3h-.01m0 1h.01m0 1h-.01m0 2h.01m0 1h-.01m0 3h.01m0 6h-.01m0 3h.01m0 7h-.01m0 1h.01m0 5h-.01m0 1h.01m0 5h-.01m0 6h.01m0 7h-.01m0 3h.01m0 3h-.01M381 132h.01m0 2h-.01m0 34h.01m0 7h-.01m0 8h.01m0 6h-.01m0 1h.01m0 4h-.01m0 1h.01m0 1h-.01m0 2h.01m0 1h-.01m0 2h.01m0 3h-.01m0 2h.01m0 1h-.01m0 2h.01m0 1h-.01m0 1h.01m0 1h-.01m0 1h.01m0 1h-.01m0 1h.01m0 1h-.01m0 1h.01m0 1h-.01m0 1h.01m0 1h-.01m0 2h.01m0 1h-.01m0 1h.01m0 2h-.01m0 1h.01m0 2h-.01m0 3h.01m0 3h-.01m0 1h.01m0 5h-.01m0 2h.01m0 1h-.01m0 1h.01m0 2h-.01m0 3h.01m0 2h-.01m0 6h.01m0 35h-.01m0 41h.01M382 140h.01m0 8h-.01m0 12h.01m0 9h-.01m0 4h.01m0 8h-.01m0 2h.01m0 5h-.01m0 2h.01m0 1h-.01m0 2h.01m0 2h-.01m0 1h.01m0 3h-.01m0 2h.01m0 2h-.01m0 1h.01m0 2h-.01m0 1h.01m0 2h-.01m0 1h.01m0 1h-.01m0 1h.01m0 1h-.01m0 1h.01m0 5h-.01m0 2h.01m0 1h-.01m0 2h.01m0 1h-.01m0 1h.01m0 1h-.01m0 2h.01m0 4h-.01m0 1h.01m0 2h-.01m0 1h.01m0 1h-.01m0 2h.01m0 1h-.01m0 6h.01m0 2h-.01m0 5h.01m0 2h-.01m0 1h.01m0 1h-.01m0 10h.01m0 9h-.01m0 28h.01m0 91h-.01M383 159h.01m0 2h-.01m0 11h.01m0 1h-.01m0 4h.01m0 3h-.01m0 1h.01m0 1h-.01m0 4h.01m0 2h-.01m0 1h.01m0 2h-.01m0 1h.01m0 2h-.01m0 1h.01m0 3h-.01m0 1h.01m0 1h-.01m0 2h.01m0 1h-.01m0 1h.01m0 2h-.01m0 3h.01m0 1h-.01m0 2h.01m0 1h-.01m0 1h.01m0 1h-.01m0 2h.01m0 1h-.01m0 1h.01m0 1h-.01m0 1h.01m0 1h-.01m0 1h.01m0 1h-.01m0 1h.01m0 2h-.01m0 2h.01m0 2h-.01m0 3h.01m0 1h-.01m0 1h.01m0 4h-.01m0 1h.01m0 1h-.01m0 1h.01m0 3h-.01m0 1h.01m0 1h-.01m0 1h.01m0 2h-.01m0 6h.01m0 2h-.01m0 3h.01m0 4h-.01m0 6h.01m0 2h-.01m0 17h.01m0 1h-.01m0 4h.01M384 143h.01m0 8h-.01m0 1h.01m0 2h-.01m0 7h.01m0 11h-.01m0 7h.01m0 4h-.01m0 2h.01m0 1h-.01m0 5h.01m0 2h-.01m0 4h.01m0 1h-.01m0 2h.01m0 1h-.01m0 1h.01m0 3h-.01m0 2h.01m0 3h-.01m0 1h.01m0 1h-.01m0 1h.01m0 3h-.01m0 2h.01m0 2h-.01m0 1h.01m0 1h-.01m0 1h.01m0 3h-.01m0 1h.01m0 1h-.01m0 1h.01m0 1h-.01m0 2h.01m0 1h-.01m0 1h.01m0 1h-.01m0 1h.01m0 2h-.01m0 3h.01m0 20h-.01m0 1h.01m0 84h-.01M385 132h.01m0 19h-.01m0 20h.01m0 1h-.01m0 4h.01m0 13h-.01m0 4h.01m0 1h-.01m0 2h.01m0 1h-.01m0 1h.01m0 2h-.01m0 2h.01m0 1h-.01m0 1h.01m0 1h-.01m0 1h.01m0 1h-.01m0 1h.01m0 1h-.01m0 1h.01m0 1h-.01m0 1h.01m0 1h-.01m0 1h.01m0 1h-.01m0 2h.01m0 1h-.01m0 1h.01m0 1h-.01m0 1h.01m0 2h-.01m0 1h.01m0 3h-.01m0 3h.01m0 1h-.01m0 1h.01m0 1h-.01m0 1h.01m0 2h-.01m0 1h.01m0 1h-.01m0 2h.01m0 2h-.01m0 1h.01m0 6h-.01m0 1h.01m0 3h-.01m0 6h.01m0 7h-.01m0 5h.01m0 2h-.01m0 109h.01M386 165h.01m0 4h-.01m0 1h.01m0 6h-.01m0 4h.01m0 2h-.01m0 1h.01m0 1h-.01m0 1h.01m0 2h-.01m0 2h.01m0 2h-.01m0 1h.01m0 3h-.01m0 1h.01m0 1h-.01m0 1h.01m0 3h-.01m0 1h.01m0 2h-.01m0 1h.01m0 1h-.01m0 2h.01m0 1h-.01m0 2h.01m0 1h-.01m0 2h.01m0 1h-.01m0 1h.01m0 2h-.01m0 1h.01m0 1h-.01m0 1h.01m0 1h-.01m0 3h.01m0 1h-.01m0 1h.01m0 1h-.01m0 1h.01m0 1h-.01m0 1h.01m0 2h-.01m0 3h.01m0 2h-.01m0 2h.01m0 1h-.01m0 11h.01m0 5h-.01m0 1h.01m0 96h-.01M387 151h.01m0 16h-.01m0 6h.01m0 5h-.01m0 2h.01m0 5h-.01m0 5h.01m0 2h-.01m0 2h.01m0 3h-.01m0 1h.01m0 1h-.01m0 2h.01m0 1h-.01m0 2h.01m0 3h-.01m0 2h.01m0 2h-.01m0 1h.01m0 1h-.01m0 1h.01m0 1h-.01m0 1h.01m0 1h-.01m0 1h.01m0 1h-.01m0 1h.01m0 1h-.01m0 1h.01m0 3h-.01m0 1h.01m0 1h-.01m0 1h.01m0 1h-.01m0 1h.01m0 2h-.01m0 4h.01m0 1h-.01m0 1h.01m0 1h-.01m0 1h.01m0 2h-.01m0 1h.01m0 2h-.01m0 2h.01m0 1h-.01m0 1h.01m0 2h-.01m0 3h.01m0 2h-.01m0 7h.01m0 7h-.01m0 3h.01m0 16h-.01M388 136h.01m0 17h-.01m0 4h.01m0 13h-.01m0 6h.01m0 1h-.01m0 6h.01m0 1h-.01m0 1h.01m0 4h-.01m0 2h.01m0 1h-.01m0 1h.01m0 1h-.01m0 2h.01m0 1h-.01m0 4h.01m0 1h-.01m0 1h.01m0 1h-.01m0 1h.01m0 1h-.01m0 1h.01m0 1h-.01m0 1h.01m0 1h-.01m0 3h.01m0 1h-.01m0 1h.01m0 1h-.01m0 1h.01m0 1h-.01m0 1h.01m0 1h-.01m0 1h.01m0 2h-.01m0 1h.01m0 1h-.01m0 1h.01m0 2h-.01m0 1h.01m0 1h-.01m0 1h.01m0 1h-.01m0 1h.01m0 2h-.01m0 2h.01m0 1h-.01m0 1h.01m0 5h-.01m0 7h.01m0 2h-.01m0 11h.01m0 4h-.01m0 118h.01M389 93h.01m0 37h-.01m0 22h.01m0 6h-.01m0 7h.01m0 6h-.01m0 1h.01m0 1h-.01m0 1h.01m0 2h-.01m0 3h.01m0 1h-.01m0 3h.01m0 1h-.01m0 3h.01m0 4h-.01m0 4h.01m0 1h-.01m0 3h.01m0 1h-.01m0 2h.01m0 1h-.01m0 2h.01m0 1h-.01m0 1h.01m0 1h-.01m0 2h.01m0 1h-.01m0 1h.01m0 1h-.01m0 1h.01m0 1h-.01m0 3h.01m0 2h-.01m0 1h.01m0 1h-.01m0 1h.01m0 2h-.01m0 2h.01m0 2h-.01m0 1h.01m0 2h-.01m0 4h.01m0 2h-.01m0 1h.01m0 2h-.01m0 7h.01m0 2h-.01m0 3h.01m0 3h-.01m0 3h.01m0 7h-.01m0 3h.01m0 2h-.01m0 29h.01M390 138h.01m0 17h-.01m0 3h.01m0 11h-.01m0 2h.01m0 5h-.01m0 3h.01m0 4h-.01m0 1h.01m0 1h-.01m0 1h.01m0 1h-.01m0 2h.01m0 1h-.01m0 3h.01m0 1h-.01m0 1h.01m0 1h-.01m0 2h.01m0 2h-.01m0 1h.01m0 1h-.01m0 1h.01m0 2h-.01m0 1h.01m0 1h-.01m0 1h.01m0 1h-.01m0 1h.01m0 1h-.01m0 1h.01m0 2h-.01m0 1h.01m0 1h-.01m0 1h.01m0 1h-.01m0 1h.01m0 1h-.01m0 1h.01m0 1h-.01m0 1h.01m0 2h-.01m0 1h.01m0 1h-.01m0 1h.01m0 2h-.01m0 2h.01m0 4h-.01m0 4h.01m0 2h-.01m0 5h.01m0 1h-.01m0 1h.01m0 6h-.01m0 2h.01m0 7h-.01m0 1h.01m0 4h-.01m0 2h.01m0 5h-.01m0 53h.01M391 173h.01m0 8h-.01m0 4h.01m0 1h-.01m0 2h.01m0 8h-.01m0 1h.01m0 1h-.01m0 1h.01m0 1h-.01m0 3h.01m0 2h-.01m0 1h.01m0 1h-.01m0 1h.01m0 1h-.01m0 1h.01m0 2h-.01m0 1h.01m0 1h-.01m0 1h.01m0 2h-.01m0 1h.01m0 1h-.01m0 1h.01m0 2h-.01m0 1h.01m0 2h-.01m0 1h.01m0 2h-.01m0 1h.01m0 1h-.01m0 3h.01m0 1h-.01m0 1h.01m0 3h-.01m0 1h.01m0 2h-.01m0 1h.01m0 5h-.01m0 2h.01m0 4h-.01m0 1h.01m0 1h-.01m0 1h.01m0 41h-.01m0 21h.01M392 127h.01m0 32h-.01m0 4h.01m0 13h-.01m0 2h.01m0 5h-.01m0 2h.01m0 1h-.01m0 1h.01m0 2h-.01m0 1h.01m0 2h-.01m0 1h.01m0 2h-.01m0 3h.01m0 1h-.01m0 3h.01m0 2h-.01m0 2h.01m0 1h-.01m0 1h.01m0 1h-.01m0 1h.01m0 1h-.01m0 1h.01m0 1h-.01m0 1h.01m0 1h-.01m0 1h.01m0 1h-.01m0 1h.01m0 1h-.01m0 1h.01m0 1h-.01m0 4h.01m0 1h-.01m0 1h.01m0 1h-.01m0 1h.01m0 1h-.01m0 1h.01m0 3h-.01m0 2h.01m0 3h-.01m0 1h.01m0 2h-.01m0 1h.01m0 5h-.01m0 2h.01m0 4h-.01m0 4h.01m0 6h-.01m0 2h.01m0 12h-.01m0 10h.01m0 47h-.01M393 88h.01m0 43h-.01m0 21h.01m0 6h-.01m0 4h.01m0 8h-.01m0 2h.01m0 2h-.01m0 10h.01m0 2h-.01m0 4h.01m0 2h-.01m0 2h.01m0 2h-.01m0 1h.01m0 1h-.01m0 1h.01m0 1h-.01m0 2h.01m0 1h-.01m0 1h.01m0 1h-.01m0 1h.01m0 1h-.01m0 1h.01m0 1h-.01m0 1h.01m0 1h-.01m0 1h.01m0 1h-.01m0 1h.01m0 2h-.01m0 1h.01m0 2h-.01m0 1h.01m0 1h-.01m0 1h.01m0 3h-.01m0 1h.01m0 2h-.01m0 1h.01m0 3h-.01m0 3h.01m0 1h-.01m0 1h.01m0 3h-.01m0 1h.01m0 1h-.01m0 1h.01m0 1h-.01m0 1h.01m0 1h-.01m0 22h.01m0 13h-.01m0 11h.01M394 117h.01m0 29h-.01m0 8h.01m0 6h-.01m0 8h.01m0 5h-.01m0 1h.01m0 1h-.01m0 5h.01m0 5h-.01m0 1h.01m0 1h-.01m0 1h.01m0 1h-.01m0 1h.01m0 3h-.01m0 1h.01m0 2h-.01m0 1h.01m0 1h-.01m0 1h.01m0 1h-.01m0 1h.01m0 2h-.01m0 2h.01m0 1h-.01m0 1h.01m0 1h-.01m0 1h.01m0 1h-.01m0 2h.01m0 1h-.01m0 1h.01m0 1h-.01m0 1h.01m0 1h-.01m0 1h.01m0 1h-.01m0 1h.01m0 1h-.01m0 1h.01m0 1h-.01m0 1h.01m0 2h-.01m0 3h.01m0 3h-.01m0 1h.01m0 1h-.01m0 1h.01m0 2h-.01m0 3h.01m0 1h-.01m0 2h.01m0 7h-.01m0 4h.01m0 8h-.01m0 7h.01m0 20h-.01m0 31h.01M395 127h.01m0 6h-.01m0 1h.01m0 5h-.01m0 20h.01m0 12h-.01m0 2h.01m0 1h-.01m0 6h.01m0 1h-.01m0 4h.01m0 1h-.01m0 5h.01m0 2h-.01m0 1h.01m0 1h-.01m0 1h.01m0 1h-.01m0 2h.01m0 1h-.01m0 1h.01m0 1h-.01m0 3h.01m0 1h-.01m0 4h.01m0 1h-.01m0 1h.01m0 3h-.01m0 2h.01m0 1h-.01m0 2h.01m0 1h-.01m0 1h.01m0 2h-.01m0 3h.01m0 1h-.01m0 1h.01m0 1h-.01m0 2h.01m0 1h-.01m0 2h.01m0 1h-.01m0 3h.01m0 1h-.01m0 2h.01m0 1h-.01m0 1h.01m0 6h-.01m0 9h.01M396 97h.01m0 34h-.01m0 25h.01m0 18h-.01m0 3h.01m0 1h-.01m0 5h.01m0 1h-.01m0 2h.01m0 1h-.01m0 1h.01m0 1h-.01m0 2h.01m0 1h-.01m0 1h.01m0 2h-.01m0 4h.01m0 2h-.01m0 1h.01m0 1h-.01m0 2h.01m0 1h-.01m0 1h.01m0 1h-.01m0 1h.01m0 4h-.01m0 1h.01m0 5h-.01m0 1h.01m0 1h-.01m0 1h.01m0 3h-.01m0 1h.01m0 1h-.01m0 1h.01m0 1h-.01m0 4h.01m0 3h-.01m0 1h.01m0 1h-.01m0 5h.01m0 7h-.01m0 1h.01m0 8h-.01m0 11h.01m0 2h-.01M397 129h.01m0 1h-.01m0 4h.01m0 50h-.01m0 8h.01m0 2h-.01m0 1h.01m0 1h-.01m0 1h.01m0 2h-.01m0 1h.01m0 1h-.01m0 1h.01m0 2h-.01m0 1h.01m0 4h-.01m0 1h.01m0 2h-.01m0 1h.01m0 2h-.01m0 3h.01m0 1h-.01m0 2h.01m0 1h-.01m0 1h.01m0 1h-.01m0 1h.01m0 2h-.01m0 1h.01m0 1h-.01m0 1h.01m0 1h-.01m0 5h.01m0 1h-.01m0 1h.01m0 2h-.01m0 3h.01m0 1h-.01m0 1h.01m0 3h-.01m0 2h.01m0 1h-.01m0 6h.01m0 3h-.01m0 1h.01m0 1h-.01m0 10h.01m0 9h-.01m0 18h.01M398 128h.01m0 1h-.01m0 20h.01m0 17h-.01m0 3h.01m0 3h-.01m0 3h.01m0 1h-.01m0 1h.01m0 3h-.01m0 3h.01m0 1h-.01m0 3h.01m0 1h-.01m0 3h.01m0 3h-.01m0 1h.01m0 1h-.01m0 3h.01m0 2h-.01m0 1h.01m0 1h-.01m0 1h.01m0 4h-.01m0 1h.01m0 1h-.01m0 1h.01m0 1h-.01m0 3h.01m0 1h-.01m0 1h.01m0 1h-.01m0 1h.01m0 1h-.01m0 1h.01m0 1h-.01m0 1h.01m0 1h-.01m0 2h.01m0 1h-.01m0 4h.01m0 1h-.01m0 3h.01m0 1h-.01m0 4h.01m0 2h-.01m0 1h.01m0 1h-.01m0 2h.01m0 1h-.01m0 3h.01m0 1h-.01m0 1h.01m0 1h-.01m0 3h.01m0 7h-.01m0 3h.01m0 4h-.01m0 30h.01M399 134h.01m0 1h-.01m0 21h.01m0 11h-.01m0 12h.01m0 3h-.01m0 3h.01m0 3h-.01m0 1h.01m0 3h-.01m0 2h.01m0 1h-.01m0 1h.01m0 1h-.01m0 1h.01m0 1h-.01m0 1h.01m0 1h-.01m0 1h.01m0 1h-.01m0 2h.01m0 1h-.01m0 1h.01m0 1h-.01m0 2h.01m0 1h-.01m0 1h.01m0 1h-.01m0 1h.01m0 3h-.01m0 1h.01m0 3h-.01m0 1h.01m0 1h-.01m0 2h.01m0 2h-.01m0 4h.01m0 1h-.01m0 5h.01m0 2h-.01m0 5h.01m0 1h-.01m0 4h.01m0 7h-.01m0 1h.01m0 7h-.01m0 45h.01M400 131h.01m0 10h-.01m0 29h.01m0 8h-.01m0 1h.01m0 1h-.01m0 2h.01m0 1h-.01m0 1h.01m0 3h-.01m0 2h.01m0 1h-.01m0 3h.01m0 1h-.01m0 2h.01m0 3h-.01m0 4h.01m0 2h-.01m0 2h.01m0 1h-.01m0 1h.01m0 1h-.01m0 2h.01m0 1h-.01m0 1h.01m0 1h-.01m0 1h.01m0 2h-.01m0 1h.01m0 1h-.01m0 2h.01m0 2h-.01m0 1h.01m0 1h-.01m0 3h.01m0 1h-.01m0 1h.01m0 1h-.01m0 1h.01m0 2h-.01m0 1h.01m0 1h-.01m0 2h.01m0 3h-.01m0 3h.01m0 5h-.01m0 9h.01m0 2h-.01m0 5h.01m0 15h-.01M401 172h.01m0 28h-.01m0 1h.01m0 1h-.01m0 1h.01m0 1h-.01m0 1h.01m0 1h-.01m0 1h.01m0 3h-.01m0 1h.01m0 1h-.01m0 1h.01m0 1h-.01m0 1h.01m0 1h-.01m0 1h.01m0 1h-.01m0 2h.01m0 2h-.01m0 1h.01m0 1h-.01m0 1h.01m0 2h-.01m0 1h.01m0 1h-.01m0 1h.01m0 1h-.01m0 1h.01m0 3h-.01m0 1h.01m0 3h-.01m0 2h.01m0 3h-.01m0 4h.01m0 4h-.01m0 12h.01m0 2h-.01M402 150h.01m0 4h-.01m0 4h.01m0 9h-.01m0 11h.01m0 2h-.01m0 4h.01m0 1h-.01m0 8h.01m0 1h-.01m0 1h.01m0 2h-.01m0 1h.01m0 1h-.01m0 1h.01m0 2h-.01m0 1h.01m0 1h-.01m0 1h.01m0 1h-.01m0 1h.01m0 1h-.01m0 1h.01m0 1h-.01m0 2h.01m0 1h-.01m0 1h.01m0 2h-.01m0 1h.01m0 2h-.01m0 2h.01m0 2h-.01m0 1h.01m0 1h-.01m0 1h.01m0 1h-.01m0 1h.01m0 1h-.01m0 5h.01m0 2h-.01m0 1h.01m0 1h-.01m0 2h.01m0 1h-.01m0 1h.01m0 1h-.01m0 2h.01m0 2h-.01m0 1h.01m0 1h-.01m0 4h.01m0 3h-.01m0 11h.01m0 6h-.01M403 174h.01m0 3h-.01m0 1h.01m0 2h-.01m0 1h.01m0 8h-.01m0 3h.01m0 1h-.01m0 2h.01m0 2h-.01m0 1h.01m0 2h-.01m0 2h.01m0 3h-.01m0 1h.01m0 2h-.01m0 1h.01m0 1h-.01m0 1h.01m0 1h-.01m0 1h.01m0 1h-.01m0 1h.01m0 1h-.01m0 2h.01m0 1h-.01m0 1h.01m0 1h-.01m0 1h.01m0 1h-.01m0 1h.01m0 1h-.01m0 2h.01m0 1h-.01m0 1h.01m0 2h-.01m0 1h.01m0 3h-.01m0 2h.01m0 1h-.01m0 2h.01m0 2h-.01m0 1h.01m0 1h-.01m0 2h.01m0 4h-.01m0 2h.01m0 9h-.01m0 3h.01m0 10h-.01m0 68h.01M404 124h.01m0 24h-.01m0 12h.01m0 4h-.01m0 7h.01m0 2h-.01m0 6h.01m0 2h-.01m0 2h.01m0 3h-.01m0 2h.01m0 4h-.01m0 1h.01m0 3h-.01m0 2h.01m0 2h-.01m0 2h.01m0 1h-.01m0 2h.01m0 1h-.01m0 3h.01m0 1h-.01m0 1h.01m0 1h-.01m0 1h.01m0 1h-.01m0 3h.01m0 1h-.01m0 1h.01m0 1h-.01m0 1h.01m0 1h-.01m0 1h.01m0 1h-.01m0 3h.01m0 1h-.01m0 1h.01m0 1h-.01m0 1h.01m0 2h-.01m0 1h.01m0 3h-.01m0 2h.01m0 1h-.01m0 1h.01m0 2h-.01m0 2h.01m0 3h-.01m0 4h.01m0 5h-.01m0 3h.01m0 17h-.01m0 4h.01m0 4h-.01m0 94h.01M405 147h.01m0 17h-.01m0 8h.01m0 7h-.01m0 1h.01m0 7h-.01m0 1h.01m0 1h-.01m0 1h.01m0 2h-.01m0 3h.01m0 1h-.01m0 2h.01m0 1h-.01m0 2h.01m0 1h-.01m0 1h.01m0 1h-.01m0 1h.01m0 1h-.01m0 1h.01m0 1h-.01m0 2h.01m0 2h-.01m0 1h.01m0 1h-.01m0 1h.01m0 2h-.01m0 1h.01m0 3h-.01m0 1h.01m0 2h-.01m0 1h.01m0 1h-.01m0 1h.01m0 1h-.01m0 4h.01m0 1h-.01m0 1h.01m0 2h-.01m0 1h.01m0 2h-.01m0 2h.01m0 2h-.01m0 2h.01m0 3h-.01m0 1h.01m0 1h-.01m0 3h.01m0 1h-.01m0 7h.01m0 8h-.01m0 2h.01m0 1h-.01m0 23h.01M406 156h.01m0 7h-.01m0 1h.01m0 2h-.01m0 2h.01m0 2h-.01m0 7h.01m0 5h-.01m0 1h.01m0 5h-.01m0 2h.01m0 1h-.01m0 1h.01m0 1h-.01m0 2h.01m0 2h-.01m0 1h.01m0 1h-.01m0 2h.01m0 1h-.01m0 1h.01m0 1h-.01m0 3h.01m0 1h-.01m0 1h.01m0 1h-.01m0 1h.01m0 1h-.01m0 1h.01m0 1h-.01m0 1h.01m0 1h-.01m0 1h.01m0 1h-.01m0 2h.01m0 1h-.01m0 3h.01m0 1h-.01m0 1h.01m0 1h-.01m0 1h.01m0 1h-.01m0 1h.01m0 4h-.01m0 1h.01m0 1h-.01m0 1h.01m0 2h-.01m0 1h.01m0 2h-.01m0 1h.01m0 1h-.01m0 2h.01m0 2h-.01m0 1h.01m0 1h-.01m0 3h.01m0 37h-.01M407 148h.01m0 17h-.01m0 10h.01m0 3h-.01m0 4h.01m0 1h-.01m0 2h.01m0 3h-.01m0 4h.01m0 2h-.01m0 1h.01m0 1h-.01m0 1h.01m0 1h-.01m0 1h.01m0 3h-.01m0 2h.01m0 1h-.01m0 1h.01m0 1h-.01m0 1h.01m0 2h-.01m0 1h.01m0 1h-.01m0 2h.01m0 1h-.01m0 1h.01m0 1h-.01m0 1h.01m0 1h-.01m0 4h.01m0 1h-.01m0 1h.01m0 1h-.01m0 2h.01m0 1h-.01m0 2h.01m0 1h-.01m0 1h.01m0 1h-.01m0 1h.01m0 1h-.01m0 1h.01m0 1h-.01m0 1h.01m0 1h-.01m0 1h.01m0 4h-.01m0 8h.01m0 2h-.01m0 12h.01m0 5h-.01M408 154h.01m0 7h-.01m0 17h.01m0 2h-.01m0 2h.01m0 5h-.01m0 3h.01m0 3h-.01m0 2h.01m0 1h-.01m0 1h.01m0 3h-.01m0 2h.01m0 1h-.01m0 1h.01m0 1h-.01m0 2h.01m0 1h-.01m0 3h.01m0 2h-.01m0 2h.01m0 2h-.01m0 1h.01m0 1h-.01m0 2h.01m0 3h-.01m0 1h.01m0 2h-.01m0 1h.01m0 1h-.01m0 1h.01m0 4h-.01m0 3h.01m0 4h-.01m0 2h.01m0 3h-.01m0 2h.01m0 2h-.01m0 1h.01m0 3h-.01m0 7h.01m0 14h-.01m0 28h.01M409 179h.01m0 3h-.01m0 1h.01m0 3h-.01m0 2h.01m0 1h-.01m0 1h.01m0 1h-.01m0 3h.01m0 1h-.01m0 2h.01m0 1h-.01m0 1h.01m0 1h-.01m0 2h.01m0 1h-.01m0 1h.01m0 1h-.01m0 2h.01m0 1h-.01m0 1h.01m0 1h-.01m0 1h.01m0 1h-.01m0 1h.01m0 1h-.01m0 1h.01m0 3h-.01m0 1h.01m0 2h-.01m0 1h.01m0 1h-.01m0 2h.01m0 1h-.01m0 1h.01m0 1h-.01m0 1h.01m0 1h-.01m0 1h.01m0 1h-.01m0 1h.01m0 3h-.01m0 1h.01m0 3h-.01m0 9h.01m0 2h-.01m0 2h.01m0 6h-.01m0 6h.01m0 9h-.01m0 1h.01m0 10h-.01M410 127h.01m0 23h-.01m0 16h.01m0 13h-.01m0 1h.01m0 3h-.01m0 2h.01m0 3h-.01m0 2h.01m0 1h-.01m0 3h.01m0 4h-.01m0 1h.01m0 4h-.01m0 1h.01m0 1h-.01m0 1h.01m0 1h-.01m0 1h.01m0 1h-.01m0 1h.01m0 1h-.01m0 1h.01m0 2h-.01m0 2h.01m0 2h-.01m0 1h.01m0 1h-.01m0 1h.01m0 1h-.01m0 2h.01m0 1h-.01m0 2h.01m0 2h-.01m0 1h.01m0 1h-.01m0 1h.01m0 6h-.01m0 1h.01m0 2h-.01m0 1h.01m0 1h-.01m0 2h.01m0 1h-.01m0 3h.01m0 2h-.01m0 1h.01m0 2h-.01m0 1h.01m0 3h-.01m0 5h.01m0 8h-.01m0 13h.01m0 2h-.01M411 152h.01m0 18h-.01m0 3h.01m0 1h-.01m0 6h.01m0 1h-.01m0 4h.01m0 1h-.01m0 1h.01m0 2h-.01m0 1h.01m0 2h-.01m0 2h.01m0 3h-.01m0 1h.01m0 1h-.01m0 1h.01m0 1h-.01m0 1h.01m0 1h-.01m0 4h.01m0 1h-.01m0 1h.01m0 2h-.01m0 3h.01m0 1h-.01m0 3h.01m0 2h-.01m0 1h.01m0 3h-.01m0 1h.01m0 1h-.01m0 1h.01m0 1h-.01m0 2h.01m0 1h-.01m0 1h.01m0 1h-.01m0 1h.01m0 3h-.01m0 2h.01m0 5h-.01m0 1h.01m0 2h-.01m0 1h.01m0 3h-.01m0 2h.01m0 1h-.01m0 1h.01m0 3h-.01m0 2h.01m0 3h-.01m0 20h.01m0 10h-.01m0 38h.01M412 127h.01m0 44h-.01m0 1h.01m0 1h-.01m0 3h.01m0 5h-.01m0 1h.01m0 1h-.01m0 6h.01m0 5h-.01m0 2h.01m0 1h-.01m0 3h.01m0 2h-.01m0 1h.01m0 1h-.01m0 1h.01m0 4h-.01m0 1h.01m0 3h-.01m0 1h.01m0 1h-.01m0 1h.01m0 2h-.01m0 1h.01m0 1h-.01m0 1h.01m0 2h-.01m0 1h.01m0 2h-.01m0 2h.01m0 2h-.01m0 2h.01m0 2h-.01m0 1h.01m0 2h-.01m0 1h.01m0 7h-.01m0 1h.01m0 2h-.01m0 2h.01m0 12h-.01m0 2h.01m0 13h-.01m0 5h.01m0 4h-.01m0 22h.01M413 153h.01m0 3h-.01m0 2h.01m0 3h-.01m0 9h.01m0 2h-.01m0 4h.01m0 7h-.01m0 1h.01m0 3h-.01m0 1h.01m0 2h-.01m0 1h.01m0 2h-.01m0 1h.01m0 1h-.01m0 1h.01m0 1h-.01m0 1h.01m0 1h-.01m0 3h.01m0 1h-.01m0 1h.01m0 2h-.01m0 2h.01m0 1h-.01m0 1h.01m0 1h-.01m0 2h.01m0 1h-.01m0 2h.01m0 1h-.01m0 1h.01m0 1h-.01m0 1h.01m0 1h-.01m0 1h.01m0 1h-.01m0 3h.01m0 4h-.01m0 2h.01m0 1h-.01m0 2h.01m0 1h-.01m0 2h.01m0 3h-.01m0 1h.01m0 1h-.01m0 4h.01m0 4h-.01m0 1h.01m0 4h-.01m0 5h.01m0 1h-.01m0 35h.01m0 95h-.01M414 149h.01m0 4h-.01m0 14h.01m0 8h-.01m0 2h.01m0 1h-.01m0 2h.01m0 1h-.01m0 4h.01m0 1h-.01m0 4h.01m0 5h-.01m0 1h.01m0 1h-.01m0 1h.01m0 1h-.01m0 1h.01m0 1h-.01m0 1h.01m0 2h-.01m0 1h.01m0 1h-.01m0 1h.01m0 1h-.01m0 2h.01m0 2h-.01m0 1h.01m0 1h-.01m0 1h.01m0 1h-.01m0 1h.01m0 2h-.01m0 1h.01m0 1h-.01m0 1h.01m0 1h-.01m0 1h.01m0 1h-.01m0 1h.01m0 1h-.01m0 4h.01m0 2h-.01m0 2h.01m0 1h-.01m0 3h.01m0 1h-.01m0 1h.01m0 1h-.01m0 1h.01m0 1h-.01m0 1h.01m0 4h-.01m0 10h.01m0 8h-.01m0 7h.01m0 1h-.01m0 31h.01m0 6h-.01M415 149h.01m0 24h-.01m0 2h.01m0 11h-.01m0 3h.01m0 1h-.01m0 1h.01m0 2h-.01m0 1h.01m0 1h-.01m0 1h.01m0 2h-.01m0 2h.01m0 1h-.01m0 1h.01m0 1h-.01m0 1h.01m0 3h-.01m0 1h.01m0 1h-.01m0 1h.01m0 1h-.01m0 1h.01m0 1h-.01m0 1h.01m0 2h-.01m0 1h.01m0 2h-.01m0 1h.01m0 1h-.01m0 1h.01m0 1h-.01m0 2h.01m0 2h-.01m0 1h.01m0 2h-.01m0 1h.01m0 2h-.01m0 1h.01m0 4h-.01m0 2h.01m0 2h-.01m0 1h.01m0 4h-.01m0 3h.01m0 6h-.01m0 1h.01m0 1h-.01m0 2h.01m0 1h-.01m0 34h.01m0 9h-.01m0 23h.01m0 8h-.01m0 34h.01M416 148h.01m0 4h-.01m0 7h.01m0 4h-.01m0 11h.01m0 5h-.01m0 2h.01m0 3h-.01m0 2h.01m0 4h-.01m0 2h.01m0 3h-.01m0 1h.01m0 3h-.01m0 2h.01m0 1h-.01m0 2h.01m0 1h-.01m0 1h.01m0 2h-.01m0 1h.01m0 3h-.01m0 2h.01m0 1h-.01m0 1h.01m0 1h-.01m0 1h.01m0 1h-.01m0 1h.01m0 3h-.01m0 1h.01m0 1h-.01m0 1h.01m0 1h-.01m0 1h.01m0 4h-.01m0 1h.01m0 1h-.01m0 1h.01m0 3h-.01m0 1h.01m0 2h-.01m0 6h.01m0 1h-.01m0 6h.01m0 5h-.01m0 13h.01m0 5h-.01m0 15h.01m0 45h-.01M417 139h.01m0 33h-.01m0 2h.01m0 4h-.01m0 3h.01m0 2h-.01m0 1h.01m0 1h-.01m0 1h.01m0 1h-.01m0 1h.01m0 3h-.01m0 4h.01m0 1h-.01m0 1h.01m0 1h-.01m0 1h.01m0 3h-.01m0 1h.01m0 1h-.01m0 1h.01m0 2h-.01m0 2h.01m0 2h-.01m0 2h.01m0 2h-.01m0 1h.01m0 1h-.01m0 2h.01m0 1h-.01m0 2h.01m0 1h-.01m0 1h.01m0 1h-.01m0 1h.01m0 1h-.01m0 1h.01m0 1h-.01m0 1h.01m0 2h-.01m0 1h.01m0 1h-.01m0 2h.01m0 5h-.01m0 1h.01m0 1h-.01m0 8h.01m0 6h-.01m0 2h.01m0 14h-.01m0 1h.01m0 41h-.01M418 153h.01m0 9h-.01m0 1h.01m0 4h-.01m0 1h.01m0 3h-.01m0 2h.01m0 10h-.01m0 4h.01m0 1h-.01m0 1h.01m0 7h-.01m0 3h.01m0 1h-.01m0 1h.01m0 1h-.01m0 1h.01m0 3h-.01m0 1h.01m0 1h-.01m0 1h.01m0 1h-.01m0 2h.01m0 1h-.01m0 1h.01m0 2h-.01m0 1h.01m0 1h-.01m0 1h.01m0 1h-.01m0 1h.01m0 2h-.01m0 1h.01m0 2h-.01m0 1h.01m0 1h-.01m0 2h.01m0 1h-.01m0 1h.01m0 1h-.01m0 3h.01m0 2h-.01m0 1h.01m0 1h-.01m0 2h.01m0 2h-.01m0 1h.01m0 5h-.01m0 3h.01m0 1h-.01m0 3h.01m0 1h-.01m0 7h.01m0 1h-.01m0 10h.01m0 2h-.01M419 174h.01m0 5h-.01m0 1h.01m0 1h-.01m0 1h.01m0 1h-.01m0 4h.01m0 6h-.01m0 1h.01m0 1h-.01m0 1h.01m0 1h-.01m0 1h.01m0 1h-.01m0 1h.01m0 1h-.01m0 2h.01m0 1h-.01m0 1h.01m0 1h-.01m0 1h.01m0 1h-.01m0 2h.01m0 1h-.01m0 1h.01m0 1h-.01m0 3h.01m0 2h-.01m0 1h.01m0 1h-.01m0 1h.01m0 1h-.01m0 1h.01m0 1h-.01m0 1h.01m0 1h-.01m0 1h.01m0 1h-.01m0 3h.01m0 3h-.01m0 4h.01m0 1h-.01m0 1h.01m0 1h-.01m0 4h.01m0 1h-.01m0 4h.01m0 4h-.01m0 1h.01m0 1h-.01m0 2h.01m0 9h-.01m0 7h.01M420 135h.01m0 3h-.01m0 7h.01m0 16h-.01m0 8h.01m0 4h-.01m0 4h.01m0 4h-.01m0 2h.01m0 2h-.01m0 3h.01m0 5h-.01m0 3h.01m0 1h-.01m0 1h.01m0 1h-.01m0 1h.01m0 1h-.01m0 1h.01m0 1h-.01m0 3h.01m0 1h-.01m0 2h.01m0 1h-.01m0 1h.01m0 1h-.01m0 1h.01m0 1h-.01m0 2h.01m0 1h-.01m0 1h.01m0 1h-.01m0 1h.01m0 2h-.01m0 1h.01m0 2h-.01m0 3h.01m0 1h-.01m0 3h.01m0 1h-.01m0 1h.01m0 2h-.01m0 2h.01m0 1h-.01m0 2h.01m0 1h-.01m0 3h.01m0 6h-.01m0 1h.01m0 1h-.01m0 3h.01m0 6h-.01m0 1h.01m0 8h-.01m0 5h.01m0 21h-.01M421 133h.01m0 3h-.01m0 16h.01m0 9h-.01m0 11h.01m0 9h-.01m0 2h.01m0 3h-.01m0 3h.01m0 3h-.01m0 1h.01m0 9h-.01m0 1h.01m0 1h-.01m0 1h.01m0 1h-.01m0 2h.01m0 2h-.01m0 1h.01m0 1h-.01m0 1h.01m0 1h-.01m0 1h.01m0 2h-.01m0 1h.01m0 1h-.01m0 2h.01m0 1h-.01m0 1h.01m0 2h-.01m0 2h.01m0 3h-.01m0 2h.01m0 2h-.01m0 1h.01m0 1h-.01m0 7h.01m0 3h-.01m0 1h.01m0 3h-.01m0 3h.01m0 6h-.01m0 2h.01m0 9h-.01m0 64h.01m0 8h-.01m0 37h.01M422 129h.01m0 16h-.01m0 24h.01m0 1h-.01m0 4h.01m0 9h-.01m0 1h.01m0 3h-.01m0 1h.01m0 2h-.01m0 4h.01m0 3h-.01m0 1h.01m0 1h-.01m0 1h.01m0 1h-.01m0 2h.01m0 1h-.01m0 1h.01m0 1h-.01m0 1h.01m0 1h-.01m0 1h.01m0 3h-.01m0 1h.01m0 1h-.01m0 1h.01m0 1h-.01m0 1h.01m0 3h-.01m0 4h.01m0 2h-.01m0 3h.01m0 1h-.01m0 2h.01m0 2h-.01m0 1h.01m0 6h-.01m0 1h.01m0 1h-.01m0 3h.01m0 3h-.01m0 7h.01m0 3h-.01m0 1h.01m0 1h-.01m0 5h.01m0 3h-.01m0 1h.01m0 3h-.01m0 11h.01m0 21h-.01m0 39h.01M423 103h.01m0 58h-.01m0 7h.01m0 13h-.01m0 2h.01m0 7h-.01m0 1h.01m0 1h-.01m0 2h.01m0 3h-.01m0 1h.01m0 3h-.01m0 1h.01m0 2h-.01m0 2h.01m0 1h-.01m0 1h.01m0 2h-.01m0 2h.01m0 2h-.01m0 1h.01m0 4h-.01m0 1h.01m0 2h-.01m0 1h.01m0 3h-.01m0 1h.01m0 2h-.01m0 1h.01m0 1h-.01m0 2h.01m0 2h-.01m0 1h.01m0 1h-.01m0 1h.01m0 2h-.01m0 1h.01m0 5h-.01m0 1h.01m0 1h-.01m0 3h.01m0 5h-.01m0 1h.01m0 4h-.01m0 5h.01m0 7h-.01m0 6h.01m0 26h-.01M424 165h.01m0 13h-.01m0 3h.01m0 3h-.01m0 3h.01m0 1h-.01m0 3h.01m0 3h-.01m0 5h.01m0 1h-.01m0 1h.01m0 1h-.01m0 1h.01m0 1h-.01m0 2h.01m0 1h-.01m0 1h.01m0 1h-.01m0 1h.01m0 2h-.01m0 2h.01m0 1h-.01m0 2h.01m0 1h-.01m0 1h.01m0 2h-.01m0 1h.01m0 2h-.01m0 1h.01m0 1h-.01m0 1h.01m0 1h-.01m0 1h.01m0 3h-.01m0 1h.01m0 3h-.01m0 1h.01m0 1h-.01m0 1h.01m0 2h-.01m0 1h.01m0 9h-.01m0 1h.01m0 1h-.01m0 3h.01m0 3h-.01m0 2h.01m0 1h-.01m0 3h.01m0 10h-.01m0 57h.01M425 183h.01m0 14h-.01m0 1h.01m0 4h-.01m0 2h.01m0 2h-.01m0 1h.01m0 3h-.01m0 1h.01m0 2h-.01m0 1h.01m0 2h-.01m0 1h.01m0 3h-.01m0 1h.01m0 2h-.01m0 1h.01m0 1h-.01m0 1h.01m0 1h-.01m0 2h.01m0 1h-.01m0 1h.01m0 1h-.01m0 1h.01m0 1h-.01m0 1h.01m0 2h-.01m0 1h.01m0 2h-.01m0 1h.01m0 6h-.01m0 1h.01m0 4h-.01m0 1h.01m0 1h-.01m0 27h.01M426 161h.01m0 3h-.01m0 7h.01m0 1h-.01m0 7h.01m0 6h-.01m0 1h.01m0 2h-.01m0 1h.01m0 1h-.01m0 6h.01m0 1h-.01m0 1h.01m0 1h-.01m0 1h.01m0 2h-.01m0 4h.01m0 1h-.01m0 1h.01m0 1h-.01m0 2h.01m0 2h-.01m0 1h.01m0 1h-.01m0 2h.01m0 1h-.01m0 1h.01m0 1h-.01m0 1h.01m0 2h-.01m0 1h.01m0 1h-.01m0 2h.01m0 2h-.01m0 2h.01m0 2h-.01m0 1h.01m0 1h-.01m0 1h.01m0 2h-.01m0 2h.01m0 3h-.01m0 1h.01m0 1h-.01m0 1h.01m0 4h-.01m0 9h.01m0 3h-.01m0 5h.01m0 3h-.01m0 11h.01m0 89h-.01M427 151h.01m0 3h-.01m0 5h.01m0 26h-.01m0 6h.01m0 2h-.01m0 2h.01m0 1h-.01m0 2h.01m0 1h-.01m0 3h.01m0 1h-.01m0 3h.01m0 1h-.01m0 3h.01m0 3h-.01m0 1h.01m0 2h-.01m0 1h.01m0 2h-.01m0 2h.01m0 1h-.01m0 1h.01m0 1h-.01m0 2h.01m0 3h-.01m0 8h.01m0 1h-.01m0 1h.01m0 1h-.01m0 4h.01m0 1h-.01m0 1h.01m0 1h-.01m0 1h.01m0 3h-.01m0 3h.01m0 3h-.01m0 2h.01m0 2h-.01m0 1h.01m0 12h-.01m0 3h.01m0 1h-.01m0 1h.01m0 8h-.01m0 31h.01m0 17h-.01M428 148h.01m0 10h-.01m0 25h.01m0 5h-.01m0 4h.01m0 3h-.01m0 3h.01m0 4h-.01m0 2h.01m0 1h-.01m0 1h.01m0 2h-.01m0 1h.01m0 1h-.01m0 1h.01m0 1h-.01m0 1h.01m0 1h-.01m0 1h.01m0 1h-.01m0 1h.01m0 1h-.01m0 1h.01m0 1h-.01m0 1h.01m0 1h-.01m0 1h.01m0 1h-.01m0 1h.01m0 1h-.01m0 1h.01m0 1h-.01m0 1h.01m0 1h-.01m0 1h.01m0 2h-.01m0 1h.01m0 1h-.01m0 3h.01m0 1h-.01m0 1h.01m0 1h-.01m0 1h.01m0 4h-.01m0 1h.01m0 1h-.01m0 1h.01m0 1h-.01m0 8h.01m0 4h-.01m0 9h.01m0 1h-.01m0 57h.01M429 167h.01m0 1h-.01m0 11h.01m0 5h-.01m0 1h.01m0 4h-.01m0 1h.01m0 4h-.01m0 1h.01m0 2h-.01m0 2h.01m0 3h-.01m0 1h.01m0 3h-.01m0 1h.01m0 1h-.01m0 1h.01m0 1h-.01m0 1h.01m0 5h-.01m0 1h.01m0 1h-.01m0 1h.01m0 1h-.01m0 2h.01m0 1h-.01m0 1h.01m0 3h-.01m0 1h.01m0 1h-.01m0 1h.01m0 1h-.01m0 1h.01m0 1h-.01m0 2h.01m0 1h-.01m0 3h.01m0 1h-.01m0 1h.01m0 1h-.01m0 1h.01m0 1h-.01m0 1h.01m0 5h-.01m0 5h.01m0 1h-.01m0 1h.01m0 12h-.01m0 2h.01m0 10h-.01m0 40h.01M430 165h.01m0 7h-.01m0 5h.01m0 7h-.01m0 2h.01m0 1h-.01m0 1h.01m0 3h-.01m0 3h.01m0 2h-.01m0 1h.01m0 8h-.01m0 1h.01m0 5h-.01m0 1h.01m0 1h-.01m0 1h.01m0 1h-.01m0 2h.01m0 1h-.01m0 3h.01m0 1h-.01m0 2h.01m0 2h-.01m0 3h.01m0 1h-.01m0 1h.01m0 1h-.01m0 2h.01m0 1h-.01m0 2h.01m0 2h-.01m0 1h.01m0 2h-.01m0 3h.01m0 2h-.01m0 1h.01m0 1h-.01m0 1h.01m0 1h-.01m0 2h.01m0 8h-.01m0 4h.01m0 16h-.01m0 3h.01M431 90h.01m0 41h-.01m0 33h.01m0 14h-.01m0 2h.01m0 8h-.01m0 3h.01m0 2h-.01m0 3h.01m0 5h-.01m0 1h.01m0 4h-.01m0 1h.01m0 1h-.01m0 1h.01m0 1h-.01m0 3h.01m0 1h-.01m0 1h.01m0 1h-.01m0 1h.01m0 2h-.01m0 2h.01m0 1h-.01m0 2h.01m0 2h-.01m0 2h.01m0 1h-.01m0 1h.01m0 2h-.01m0 2h.01m0 4h-.01m0 1h.01m0 4h-.01m0 1h.01m0 2h-.01m0 2h.01m0 2h-.01m0 1h.01m0 6h-.01m0 8h.01m0 105h-.01M432 161h.01m0 12h-.01m0 6h.01m0 10h-.01m0 6h.01m0 2h-.01m0 2h.01m0 1h-.01m0 1h.01m0 2h-.01m0 2h.01m0 2h-.01m0 1h.01m0 1h-.01m0 1h.01m0 1h-.01m0 2h.01m0 1h-.01m0 2h.01m0 1h-.01m0 1h.01m0 2h-.01m0 1h.01m0 1h-.01m0 2h.01m0 1h-.01m0 1h.01m0 1h-.01m0 1h.01m0 1h-.01m0 3h.01m0 1h-.01m0 1h.01m0 1h-.01m0 1h.01m0 4h-.01m0 1h.01m0 1h-.01m0 2h.01m0 1h-.01m0 2h.01m0 1h-.01m0 4h.01m0 1h-.01m0 8h.01m0 4h-.01m0 4h.01m0 10h-.01m0 5h.01m0 29h-.01M433 147h.01m0 3h-.01m0 8h.01m0 7h-.01m0 18h.01m0 5h-.01m0 4h.01m0 1h-.01m0 2h.01m0 4h-.01m0 2h.01m0 1h-.01m0 1h.01m0 1h-.01m0 1h.01m0 1h-.01m0 2h.01m0 1h-.01m0 2h.01m0 3h-.01m0 1h.01m0 1h-.01m0 1h.01m0 1h-.01m0 1h.01m0 1h-.01m0 1h.01m0 1h-.01m0 1h.01m0 1h-.01m0 1h.01m0 2h-.01m0 1h.01m0 1h-.01m0 2h.01m0 1h-.01m0 1h.01m0 1h-.01m0 1h.01m0 1h-.01m0 2h.01m0 2h-.01m0 1h.01m0 2h-.01m0 2h.01m0 1h-.01m0 3h.01m0 1h-.01m0 2h.01m0 3h-.01m0 14h.01m0 1h-.01m0 26h.01m0 13h-.01M434 134h.01m0 14h-.01m0 34h.01m0 7h-.01m0 5h.01m0 1h-.01m0 2h.01m0 3h-.01m0 1h.01m0 2h-.01m0 2h.01m0 1h-.01m0 1h.01m0 2h-.01m0 3h.01m0 1h-.01m0 1h.01m0 1h-.01m0 2h.01m0 1h-.01m0 1h.01m0 2h-.01m0 1h.01m0 4h-.01m0 2h.01m0 1h-.01m0 1h.01m0 1h-.01m0 1h.01m0 1h-.01m0 2h.01m0 1h-.01m0 1h.01m0 2h-.01m0 3h.01m0 1h-.01m0 5h.01m0 1h-.01m0 4h.01m0 1h-.01m0 2h.01m0 9h-.01m0 2h.01m0 27h-.01m0 28h.01m0 34h-.01M435 169h.01m0 20h-.01m0 7h.01m0 6h-.01m0 3h.01m0 2h-.01m0 4h.01m0 2h-.01m0 3h.01m0 1h-.01m0 1h.01m0 1h-.01m0 1h.01m0 1h-.01m0 1h.01m0 1h-.01m0 5h.01m0 2h-.01m0 1h.01m0 1h-.01m0 1h.01m0 1h-.01m0 1h.01m0 2h-.01m0 1h.01m0 1h-.01m0 1h.01m0 2h-.01m0 1h.01m0 5h-.01m0 4h.01m0 3h-.01m0 3h.01m0 3h-.01m0 6h.01m0 16h-.01m0 35h.01M436 185h.01m0 2h-.01m0 4h.01m0 4h-.01m0 2h.01m0 2h-.01m0 1h.01m0 1h-.01m0 1h.01m0 1h-.01m0 1h.01m0 1h-.01m0 3h.01m0 1h-.01m0 1h.01m0 3h-.01m0 1h.01m0 1h-.01m0 1h.01m0 1h-.01m0 2h.01m0 1h-.01m0 4h.01m0 2h-.01m0 1h.01m0 1h-.01m0 3h.01m0 1h-.01m0 1h.01m0 1h-.01m0 2h.01m0 3h-.01m0 1h.01m0 1h-.01m0 4h.01m0 2h-.01m0 1h.01m0 3h-.01m0 1h.01m0 1h-.01m0 1h.01m0 2h-.01m0 7h.01m0 10h-.01m0 12h.01m0 4h-.01M437 175h.01m0 12h-.01m0 2h.01m0 1h-.01m0 7h.01m0 1h-.01m0 1h.01m0 1h-.01m0 1h.01m0 3h-.01m0 1h.01m0 2h-.01m0 3h.01m0 1h-.01m0 1h.01m0 1h-.01m0 3h.01m0 1h-.01m0 1h.01m0 1h-.01m0 2h.01m0 1h-.01m0 1h.01m0 1h-.01m0 1h.01m0 1h-.01m0 1h.01m0 2h-.01m0 1h.01m0 1h-.01m0 1h.01m0 2h-.01m0 1h.01m0 1h-.01m0 2h.01m0 1h-.01m0 1h.01m0 3h-.01m0 1h.01m0 1h-.01m0 5h.01m0 1h-.01m0 2h.01m0 4h-.01m0 5h.01m0 2h-.01m0 1h.01m0 4h-.01m0 6h.01m0 20h-.01m0 16h.01M438 159h.01m0 5h-.01m0 18h.01m0 9h-.01m0 2h.01m0 5h-.01m0 4h.01m0 3h-.01m0 1h.01m0 2h-.01m0 2h.01m0 1h-.01m0 1h.01m0 1h-.01m0 2h.01m0 1h-.01m0 1h.01m0 1h-.01m0 1h.01m0 1h-.01m0 1h.01m0 1h-.01m0 1h.01m0 1h-.01m0 1h.01m0 1h-.01m0 1h.01m0 4h-.01m0 2h.01m0 1h-.01m0 1h.01m0 1h-.01m0 1h.01m0 1h-.01m0 1h.01m0 5h-.01m0 1h.01m0 1h-.01m0 1h.01m0 2h-.01m0 5h.01m0 1h-.01m0 1h.01m0 2h-.01m0 45h.01m0 24h-.01M439 185h.01m0 2h-.01m0 2h.01m0 4h-.01m0 3h.01m0 1h-.01m0 8h.01m0 1h-.01m0 1h.01m0 5h-.01m0 2h.01m0 6h-.01m0 1h.01m0 1h-.01m0 1h.01m0 1h-.01m0 2h.01m0 1h-.01m0 1h.01m0 2h-.01m0 3h.01m0 3h-.01m0 1h.01m0 1h-.01m0 1h.01m0 3h-.01m0 2h.01m0 2h-.01m0 3h.01m0 1h-.01m0 4h.01m0 2h-.01m0 2h.01m0 1h-.01m0 3h.01m0 2h-.01m0 1h.01m0 4h-.01m0 3h.01M440 131h.01m0 1h-.01m0 19h.01m0 18h-.01m0 4h.01m0 12h-.01m0 1h.01m0 3h-.01m0 10h.01m0 1h-.01m0 2h.01m0 1h-.01m0 3h.01m0 1h-.01m0 1h.01m0 2h-.01m0 1h.01m0 3h-.01m0 4h.01m0 1h-.01m0 1h.01m0 1h-.01m0 1h.01m0 1h-.01m0 1h.01m0 1h-.01m0 1h.01m0 1h-.01m0 1h.01m0 2h-.01m0 1h.01m0 1h-.01m0 1h.01m0 1h-.01m0 1h.01m0 1h-.01m0 1h.01m0 2h-.01m0 1h.01m0 1h-.01m0 1h.01m0 2h-.01m0 3h.01m0 1h-.01m0 1h.01m0 1h-.01m0 7h.01m0 1h-.01m0 8h.01m0 2h-.01m0 3h.01m0 1h-.01m0 2h.01m0 2h-.01m0 3h.01m0 11h-.01M441 162h.01m0 3h-.01m0 7h.01m0 4h-.01m0 11h.01m0 2h-.01m0 6h.01m0 2h-.01m0 4h.01m0 1h-.01m0 1h.01m0 2h-.01m0 1h.01m0 5h-.01m0 2h.01m0 1h-.01m0 1h.01m0 1h-.01m0 1h.01m0 1h-.01m0 1h.01m0 1h-.01m0 1h.01m0 1h-.01m0 1h.01m0 1h-.01m0 1h.01m0 1h-.01m0 1h.01m0 1h-.01m0 1h.01m0 1h-.01m0 1h.01m0 1h-.01m0 1h.01m0 1h-.01m0 1h.01m0 2h-.01m0 1h.01m0 1h-.01m0 1h.01m0 1h-.01m0 2h.01m0 1h-.01m0 1h.01m0 2h-.01m0 3h.01m0 1h-.01m0 1h.01m0 2h-.01m0 1h.01m0 1h-.01m0 4h.01m0 1h-.01m0 8h.01m0 5h-.01m0 1h.01m0 9h-.01m0 17h.01m0 1h-.01m0 24h.01m0 22h-.01M442 150h.01m0 24h-.01m0 8h.01m0 5h-.01m0 8h.01m0 7h-.01m0 1h.01m0 1h-.01m0 1h.01m0 1h-.01m0 1h.01m0 1h-.01m0 1h.01m0 1h-.01m0 2h.01m0 1h-.01m0 2h.01m0 1h-.01m0 1h.01m0 1h-.01m0 1h.01m0 2h-.01m0 1h.01m0 1h-.01m0 1h.01m0 3h-.01m0 1h.01m0 1h-.01m0 2h.01m0 1h-.01m0 1h.01m0 1h-.01m0 1h.01m0 1h-.01m0 2h.01m0 3h-.01m0 1h.01m0 2h-.01m0 2h.01m0 2h-.01m0 1h.01m0 1h-.01m0 4h.01m0 2h-.01m0 3h.01m0 2h-.01m0 4h.01m0 4h-.01m0 8h.01m0 11h-.01m0 8h.01m0 1h-.01m0 10h.01m0 4h-.01M443 165h.01m0 17h-.01m0 2h.01m0 4h-.01m0 1h.01m0 5h-.01m0 1h.01m0 2h-.01m0 3h.01m0 3h-.01m0 3h.01m0 1h-.01m0 1h.01m0 1h-.01m0 3h.01m0 1h-.01m0 1h.01m0 4h-.01m0 1h.01m0 2h-.01m0 2h.01m0 1h-.01m0 2h.01m0 1h-.01m0 1h.01m0 2h-.01m0 1h.01m0 1h-.01m0 1h.01m0 1h-.01m0 1h.01m0 3h-.01m0 1h.01m0 1h-.01m0 1h.01m0 1h-.01m0 1h.01m0 2h-.01m0 2h.01m0 4h-.01m0 1h.01m0 1h-.01m0 3h.01m0 1h-.01m0 1h.01m0 7h-.01m0 6h.01m0 1h-.01m0 1h.01m0 3h-.01m0 7h.01M444 169h.01m0 13h-.01m0 5h.01m0 1h-.01m0 2h.01m0 2h-.01m0 2h.01m0 5h-.01m0 2h.01m0 1h-.01m0 1h.01m0 2h-.01m0 2h.01m0 1h-.01m0 1h.01m0 1h-.01m0 3h.01m0 2h-.01m0 1h.01m0 1h-.01m0 1h.01m0 3h-.01m0 2h.01m0 2h-.01m0 1h.01m0 1h-.01m0 1h.01m0 2h-.01m0 1h.01m0 1h-.01m0 1h.01m0 1h-.01m0 2h.01m0 1h-.01m0 1h.01m0 1h-.01m0 1h.01m0 1h-.01m0 2h.01m0 1h-.01m0 1h.01m0 3h-.01m0 3h.01m0 4h-.01m0 3h.01m0 1h-.01m0 2h.01m0 1h-.01m0 1h.01m0 1h-.01m0 2h.01m0 3h-.01m0 34h.01M445 162h.01m0 6h-.01m0 32h.01m0 3h-.01m0 3h.01m0 1h-.01m0 1h.01m0 1h-.01m0 1h.01m0 1h-.01m0 1h.01m0 2h-.01m0 3h.01m0 1h-.01m0 1h.01m0 1h-.01m0 1h.01m0 1h-.01m0 4h.01m0 1h-.01m0 1h.01m0 2h-.01m0 2h.01m0 1h-.01m0 1h.01m0 4h-.01m0 1h.01m0 1h-.01m0 3h.01m0 1h-.01m0 1h.01m0 1h-.01m0 1h.01m0 2h-.01m0 1h.01m0 1h-.01m0 1h.01m0 4h-.01m0 1h.01m0 1h-.01m0 1h.01m0 1h-.01m0 3h.01m0 2h-.01m0 7h.01m0 1h-.01m0 2h.01m0 6h-.01m0 32h.01m0 10h-.01M446 165h.01m0 26h-.01m0 2h.01m0 1h-.01m0 6h.01m0 1h-.01m0 1h.01m0 3h-.01m0 5h.01m0 1h-.01m0 2h.01m0 1h-.01m0 3h.01m0 1h-.01m0 1h.01m0 1h-.01m0 1h.01m0 1h-.01m0 1h.01m0 1h-.01m0 1h.01m0 1h-.01m0 2h.01m0 1h-.01m0 2h.01m0 1h-.01m0 1h.01m0 1h-.01m0 1h.01m0 1h-.01m0 1h.01m0 1h-.01m0 2h.01m0 3h-.01m0 2h.01m0 2h-.01m0 2h.01m0 1h-.01m0 2h.01m0 2h-.01m0 1h.01m0 1h-.01m0 2h.01m0 1h-.01m0 1h.01m0 3h-.01m0 4h.01m0 5h-.01m0 3h.01m0 7h-.01m0 97h.01M447 180h.01m0 2h-.01m0 4h.01m0 3h-.01m0 4h.01m0 5h-.01m0 1h.01m0 1h-.01m0 1h.01m0 1h-.01m0 2h.01m0 3h-.01m0 1h.01m0 2h-.01m0 1h.01m0 2h-.01m0 1h.01m0 2h-.01m0 3h.01m0 1h-.01m0 1h.01m0 1h-.01m0 1h.01m0 1h-.01m0 3h.01m0 1h-.01m0 1h.01m0 1h-.01m0 2h.01m0 1h-.01m0 2h.01m0 1h-.01m0 2h.01m0 1h-.01m0 1h.01m0 1h-.01m0 3h.01m0 1h-.01m0 3h.01m0 1h-.01m0 2h.01m0 2h-.01m0 1h.01m0 3h-.01m0 1h.01m0 2h-.01m0 5h.01m0 2h-.01m0 2h.01m0 3h-.01m0 1h.01m0 7h-.01m0 6h.01m0 2h-.01M448 153h.01m0 14h-.01m0 5h.01m0 7h-.01m0 1h.01m0 1h-.01m0 2h.01m0 12h-.01m0 4h.01m0 3h-.01m0 7h.01m0 4h-.01m0 6h.01m0 1h-.01m0 1h.01m0 1h-.01m0 1h.01m0 1h-.01m0 1h.01m0 1h-.01m0 2h.01m0 1h-.01m0 1h.01m0 2h-.01m0 1h.01m0 1h-.01m0 1h.01m0 3h-.01m0 2h.01m0 3h-.01m0 1h.01m0 1h-.01m0 1h.01m0 2h-.01m0 1h.01m0 1h-.01m0 1h.01m0 1h-.01m0 1h.01m0 2h-.01m0 2h.01m0 8h-.01m0 2h.01m0 3h-.01m0 13h.01m0 7h-.01m0 3h.01M449 109h.01m0 41h-.01m0 29h.01m0 2h-.01m0 2h.01m0 16h-.01m0 1h.01m0 1h-.01m0 1h.01m0 3h-.01m0 2h.01m0 1h-.01m0 2h.01m0 2h-.01m0 6h.01m0 1h-.01m0 1h.01m0 1h-.01m0 1h.01m0 1h-.01m0 1h.01m0 1h-.01m0 1h.01m0 2h-.01m0 1h.01m0 1h-.01m0 4h.01m0 1h-.01m0 2h.01m0 1h-.01m0 1h.01m0 1h-.01m0 1h.01m0 1h-.01m0 1h.01m0 2h-.01m0 1h.01m0 2h-.01m0 2h.01m0 1h-.01m0 1h.01m0 3h-.01m0 4h.01m0 1h-.01m0 2h.01m0 3h-.01m0 2h.01m0 1h-.01m0 3h.01m0 1h-.01m0 2h.01m0 1h-.01m0 10h.01M450 158h.01m0 42h-.01m0 3h.01m0 1h-.01m0 1h.01m0 1h-.01m0 2h.01m0 2h-.01m0 1h.01m0 3h-.01m0 1h.01m0 7h-.01m0 1h.01m0 2h-.01m0 1h.01m0 2h-.01m0 1h.01m0 2h-.01m0 1h.01m0 2h-.01m0 1h.01m0 1h-.01m0 1h.01m0 3h-.01m0 1h.01m0 1h-.01m0 1h.01m0 1h-.01m0 2h.01m0 4h-.01m0 1h.01m0 1h-.01m0 1h.01m0 4h-.01m0 1h.01m0 1h-.01m0 14h.01m0 4h-.01m0 7h.01m0 30h-.01m0 19h.01m0 66h-.01M451 148h.01m0 25h-.01m0 14h.01m0 5h-.01m0 6h.01m0 8h-.01m0 4h.01m0 4h-.01m0 4h.01m0 4h-.01m0 4h.01m0 1h-.01m0 1h.01m0 1h-.01m0 1h.01m0 1h-.01m0 1h.01m0 1h-.01m0 1h.01m0 1h-.01m0 1h.01m0 1h-.01m0 2h.01m0 2h-.01m0 1h.01m0 3h-.01m0 1h.01m0 1h-.01m0 3h.01m0 4h-.01m0 3h.01m0 4h-.01m0 3h.01m0 2h-.01m0 2h.01m0 2h-.01m0 2h.01m0 3h-.01m0 3h.01m0 6h-.01m0 1h.01m0 5h-.01m0 1h.01m0 12h-.01m0 26h.01M452 174h.01m0 26h-.01m0 2h.01m0 1h-.01m0 4h.01m0 2h-.01m0 2h.01m0 1h-.01m0 1h.01m0 1h-.01m0 2h.01m0 2h-.01m0 4h.01m0 1h-.01m0 1h.01m0 1h-.01m0 2h.01m0 1h-.01m0 3h.01m0 1h-.01m0 2h.01m0 1h-.01m0 1h.01m0 1h-.01m0 1h.01m0 2h-.01m0 1h.01m0 1h-.01m0 1h.01m0 1h-.01m0 1h.01m0 3h-.01m0 4h.01m0 2h-.01m0 6h.01m0 1h-.01m0 1h.01m0 8h-.01m0 1h.01m0 4h-.01m0 1h.01m0 1h-.01m0 12h.01m0 1h-.01m0 53h.01m0 14h-.01M453 149h.01m0 24h-.01m0 14h.01m0 2h-.01m0 8h.01m0 6h-.01m0 3h.01m0 3h-.01m0 2h.01m0 2h-.01m0 4h.01m0 3h-.01m0 1h.01m0 1h-.01m0 1h.01m0 2h-.01m0 1h.01m0 1h-.01m0 1h.01m0 1h-.01m0 4h.01m0 1h-.01m0 1h.01m0 1h-.01m0 3h.01m0 1h-.01m0 3h.01m0 1h-.01m0 2h.01m0 1h-.01m0 2h.01m0 3h-.01m0 3h.01m0 1h-.01m0 1h.01m0 2h-.01m0 1h.01m0 1h-.01m0 3h.01m0 1h-.01m0 4h.01m0 13h-.01m0 24h.01m0 24h-.01m0 72h.01M454 95h.01m0 77h-.01m0 10h.01m0 1h-.01m0 5h.01m0 1h-.01m0 17h.01m0 1h-.01m0 2h.01m0 3h-.01m0 1h.01m0 2h-.01m0 1h.01m0 1h-.01m0 1h.01m0 3h-.01m0 1h.01m0 1h-.01m0 1h.01m0 2h-.01m0 1h.01m0 2h-.01m0 1h.01m0 1h-.01m0 2h.01m0 1h-.01m0 1h.01m0 1h-.01m0 1h.01m0 1h-.01m0 1h.01m0 1h-.01m0 1h.01m0 2h-.01m0 1h.01m0 1h-.01m0 1h.01m0 1h-.01m0 1h.01m0 1h-.01m0 3h.01m0 1h-.01m0 1h.01m0 2h-.01m0 1h.01m0 2h-.01m0 3h.01m0 2h-.01m0 2h.01m0 1h-.01m0 3h.01m0 2h-.01m0 4h.01m0 3h-.01m0 3h.01m0 4h-.01m0 5h.01m0 9h-.01m0 24h.01m0 26h-.01M455 138h.01m0 33h-.01m0 23h.01m0 1h-.01m0 2h.01m0 7h-.01m0 1h.01m0 1h-.01m0 3h.01m0 1h-.01m0 1h.01m0 1h-.01m0 1h.01m0 1h-.01m0 1h.01m0 1h-.01m0 2h.01m0 1h-.01m0 1h.01m0 1h-.01m0 1h.01m0 1h-.01m0 1h.01m0 1h-.01m0 1h.01m0 2h-.01m0 1h.01m0 1h-.01m0 1h.01m0 2h-.01m0 3h.01m0 1h-.01m0 1h.01m0 1h-.01m0 2h.01m0 1h-.01m0 1h.01m0 2h-.01m0 5h.01m0 1h-.01m0 1h.01m0 1h-.01m0 1h.01m0 1h-.01m0 2h.01m0 1h-.01m0 1h.01m0 2h-.01m0 1h.01m0 1h-.01m0 1h.01m0 1h-.01m0 2h.01m0 2h-.01m0 3h.01m0 3h-.01m0 5h.01m0 1h-.01m0 9h.01m0 6h-.01m0 15h.01m0 41h-.01M456 180h.01m0 2h-.01m0 4h.01m0 7h-.01m0 6h.01m0 4h-.01m0 3h.01m0 1h-.01m0 2h.01m0 1h-.01m0 2h.01m0 4h-.01m0 1h.01m0 3h-.01m0 2h.01m0 1h-.01m0 2h.01m0 2h-.01m0 2h.01m0 1h-.01m0 3h.01m0 2h-.01m0 1h.01m0 1h-.01m0 1h.01m0 1h-.01m0 1h.01m0 1h-.01m0 1h.01m0 1h-.01m0 1h.01m0 1h-.01m0 1h.01m0 2h-.01m0 2h.01m0 1h-.01m0 1h.01m0 2h-.01m0 2h.01m0 1h-.01m0 1h.01m0 2h-.01m0 1h.01m0 1h-.01m0 2h.01m0 3h-.01m0 3h.01m0 1h-.01m0 7h.01m0 7h-.01m0 2h.01m0 45h-.01M457 131h.01m0 8h-.01m0 39h.01m0 11h-.01m0 12h.01m0 2h-.01m0 5h.01m0 3h-.01m0 1h.01m0 1h-.01m0 1h.01m0 1h-.01m0 7h.01m0 1h-.01m0 1h.01m0 1h-.01m0 2h.01m0 3h-.01m0 1h.01m0 1h-.01m0 1h.01m0 1h-.01m0 1h.01m0 1h-.01m0 2h.01m0 1h-.01m0 2h.01m0 1h-.01m0 5h.01m0 2h-.01m0 1h.01m0 1h-.01m0 1h.01m0 1h-.01m0 1h.01m0 1h-.01m0 1h.01m0 4h-.01m0 1h.01m0 1h-.01m0 1h.01m0 1h-.01m0 2h.01m0 1h-.01m0 1h.01m0 17h-.01m0 10h.01m0 5h-.01m0 10h.01m0 76h-.01M458 168h.01m0 3h-.01m0 17h.01m0 19h-.01m0 6h.01m0 3h-.01m0 3h.01m0 1h-.01m0 1h.01m0 2h-.01m0 1h.01m0 1h-.01m0 1h.01m0 2h-.01m0 1h.01m0 1h-.01m0 1h.01m0 1h-.01m0 1h.01m0 2h-.01m0 3h.01m0 1h-.01m0 1h.01m0 1h-.01m0 1h.01m0 1h-.01m0 3h.01m0 1h-.01m0 1h.01m0 2h-.01m0 1h.01m0 1h-.01m0 1h.01m0 1h-.01m0 1h.01m0 1h-.01m0 1h.01m0 1h-.01m0 1h.01m0 1h-.01m0 1h.01m0 1h-.01m0 2h.01m0 4h-.01m0 1h.01m0 6h-.01m0 8h.01m0 1h-.01m0 10h.01m0 27h-.01m0 69h.01M459 187h.01m0 3h-.01m0 7h.01m0 6h-.01m0 3h.01m0 2h-.01m0 2h.01m0 4h-.01m0 1h.01m0 1h-.01m0 2h.01m0 3h-.01m0 1h.01m0 1h-.01m0 3h.01m0 3h-.01m0 1h.01m0 1h-.01m0 1h.01m0 1h-.01m0 1h.01m0 1h-.01m0 1h.01m0 1h-.01m0 1h.01m0 1h-.01m0 1h.01m0 1h-.01m0 1h.01m0 1h-.01m0 2h.01m0 1h-.01m0 1h.01m0 1h-.01m0 1h.01m0 1h-.01m0 1h.01m0 2h-.01m0 1h.01m0 2h-.01m0 2h.01m0 1h-.01m0 1h.01m0 2h-.01m0 1h.01m0 1h-.01m0 2h.01m0 3h-.01m0 1h.01m0 1h-.01m0 3h.01m0 2h-.01m0 1h.01m0 11h-.01m0 37h.01m0 41h-.01M460 89h.01m0 16h-.01m0 48h.01m0 42h-.01m0 4h.01m0 5h-.01m0 2h.01m0 10h-.01m0 2h.01m0 3h-.01m0 1h.01m0 3h-.01m0 2h.01m0 2h-.01m0 1h.01m0 1h-.01m0 1h.01m0 4h-.01m0 2h.01m0 1h-.01m0 2h.01m0 2h-.01m0 1h.01m0 1h-.01m0 1h.01m0 1h-.01m0 1h.01m0 2h-.01m0 1h.01m0 1h-.01m0 2h.01m0 1h-.01m0 1h.01m0 5h-.01m0 1h.01m0 2h-.01m0 1h.01m0 1h-.01m0 2h.01m0 4h-.01m0 4h.01m0 9h-.01m0 9h.01m0 20h-.01M461 149h.01m0 39h-.01m0 10h.01m0 7h-.01m0 2h.01m0 3h-.01m0 1h.01m0 2h-.01m0 4h.01m0 3h-.01m0 1h.01m0 3h-.01m0 1h.01m0 4h-.01m0 1h.01m0 2h-.01m0 1h.01m0 2h-.01m0 2h.01m0 3h-.01m0 1h.01m0 3h-.01m0 1h.01m0 1h-.01m0 1h.01m0 1h-.01m0 1h.01m0 1h-.01m0 1h.01m0 1h-.01m0 2h.01m0 1h-.01m0 1h.01m0 1h-.01m0 1h.01m0 6h-.01m0 3h.01m0 2h-.01m0 2h.01m0 2h-.01m0 1h.01m0 3h-.01m0 1h.01m0 3h-.01m0 1h.01m0 11h-.01m0 5h.01m0 3h-.01m0 4h.01m0 15h-.01m0 40h.01M462 163h.01m0 33h-.01m0 12h.01m0 6h-.01m0 5h.01m0 5h-.01m0 1h.01m0 2h-.01m0 1h.01m0 1h-.01m0 3h.01m0 1h-.01m0 3h.01m0 2h-.01m0 1h.01m0 1h-.01m0 1h.01m0 1h-.01m0 2h.01m0 2h-.01m0 1h.01m0 1h-.01m0 1h.01m0 2h-.01m0 1h.01m0 3h-.01m0 1h.01m0 1h-.01m0 1h.01m0 1h-.01m0 1h.01m0 2h-.01m0 3h.01m0 2h-.01m0 1h.01m0 1h-.01m0 1h.01m0 5h-.01m0 2h.01m0 2h-.01m0 10h.01m0 44h-.01M463 170h.01m0 2h-.01m0 33h.01m0 2h-.01m0 4h.01m0 1h-.01m0 1h.01m0 4h-.01m0 4h.01m0 2h-.01m0 2h.01m0 1h-.01m0 1h.01m0 1h-.01m0 1h.01m0 1h-.01m0 1h.01m0 4h-.01m0 1h.01m0 1h-.01m0 1h.01m0 1h-.01m0 1h.01m0 2h-.01m0 1h.01m0 3h-.01m0 1h.01m0 5h-.01m0 4h.01m0 1h-.01m0 1h.01m0 1h-.01m0 2h.01m0 1h-.01m0 2h.01m0 1h-.01m0 1h.01m0 1h-.01m0 1h.01m0 2h-.01m0 1h.01m0 2h-.01m0 1h.01m0 2h-.01m0 1h.01m0 1h-.01m0 1h.01m0 1h-.01m0 17h.01m0 52h-.01m0 6h.01M464 105h.01m0 76h-.01m0 3h.01m0 14h-.01m0 3h.01m0 1h-.01m0 11h.01m0 1h-.01m0 2h.01m0 2h-.01m0 2h.01m0 1h-.01m0 2h.01m0 3h-.01m0 1h.01m0 1h-.01m0 1h.01m0 2h-.01m0 1h.01m0 1h-.01m0 5h.01m0 2h-.01m0 1h.01m0 1h-.01m0 2h.01m0 1h-.01m0 1h.01m0 1h-.01m0 3h.01m0 1h-.01m0 3h.01m0 1h-.01m0 1h.01m0 1h-.01m0 1h.01m0 1h-.01m0 1h.01m0 1h-.01m0 1h.01m0 2h-.01m0 1h.01m0 1h-.01m0 2h.01m0 1h-.01m0 1h.01m0 2h-.01m0 2h.01m0 6h-.01m0 4h.01m0 8h-.01m0 7h.01m0 33h-.01M465 187h.01m0 15h-.01m0 5h.01m0 5h-.01m0 2h.01m0 3h-.01m0 1h.01m0 1h-.01m0 3h.01m0 5h-.01m0 1h.01m0 1h-.01m0 1h.01m0 3h-.01m0 1h.01m0 1h-.01m0 2h.01m0 1h-.01m0 1h.01m0 1h-.01m0 1h.01m0 1h-.01m0 2h.01m0 2h-.01m0 2h.01m0 2h-.01m0 2h.01m0 1h-.01m0 1h.01m0 1h-.01m0 1h.01m0 1h-.01m0 2h.01m0 1h-.01m0 1h.01m0 1h-.01m0 1h.01m0 1h-.01m0 1h.01m0 1h-.01m0 1h.01m0 3h-.01m0 2h.01m0 13h-.01m0 26h.01M466 184h.01m0 5h-.01m0 10h.01m0 7h-.01m0 6h.01m0 5h-.01m0 2h.01m0 1h-.01m0 1h.01m0 1h-.01m0 1h.01m0 2h-.01m0 7h.01m0 1h-.01m0 2h.01m0 2h-.01m0 1h.01m0 2h-.01m0 1h.01m0 1h-.01m0 1h.01m0 1h-.01m0 3h.01m0 1h-.01m0 1h.01m0 2h-.01m0 1h.01m0 3h-.01m0 1h.01m0 1h-.01m0 1h.01m0 4h-.01m0 1h.01m0 1h-.01m0 5h.01m0 1h-.01m0 1h.01m0 2h-.01m0 1h.01m0 2h-.01m0 2h.01m0 2h-.01m0 1h.01m0 3h-.01m0 6h.01m0 8h-.01m0 1h.01m0 2h-.01m0 6h.01m0 3h-.01m0 3h.01m0 4h-.01M467 200h.01m0 5h-.01m0 5h.01m0 2h-.01m0 8h.01m0 1h-.01m0 1h.01m0 5h-.01m0 1h.01m0 4h-.01m0 1h.01m0 3h-.01m0 1h.01m0 1h-.01m0 4h.01m0 3h-.01m0 1h.01m0 1h-.01m0 1h.01m0 1h-.01m0 1h.01m0 1h-.01m0 1h.01m0 1h-.01m0 1h.01m0 1h-.01m0 5h.01m0 1h-.01m0 2h.01m0 1h-.01m0 1h.01m0 1h-.01m0 2h.01m0 3h-.01m0 1h.01m0 1h-.01m0 4h.01m0 3h-.01m0 3h.01m0 1h-.01m0 1h.01m0 2h-.01m0 4h.01m0 2h-.01m0 4h.01m0 3h-.01m0 3h.01m0 7h-.01m0 11h.01m0 17h-.01M468 162h.01m0 18h-.01m0 12h.01m0 7h-.01m0 5h.01m0 2h-.01m0 5h.01m0 3h-.01m0 3h.01m0 2h-.01m0 2h.01m0 6h-.01m0 1h.01m0 1h-.01m0 2h.01m0 1h-.01m0 1h.01m0 1h-.01m0 1h.01m0 1h-.01m0 1h.01m0 1h-.01m0 1h.01m0 1h-.01m0 1h.01m0 1h-.01m0 1h.01m0 1h-.01m0 1h.01m0 4h-.01m0 1h.01m0 1h-.01m0 1h.01m0 1h-.01m0 2h.01m0 1h-.01m0 3h.01m0 4h-.01m0 1h.01m0 1h-.01m0 2h.01m0 3h-.01m0 4h.01m0 1h-.01m0 5h.01m0 1h-.01m0 1h.01m0 1h-.01m0 1h.01m0 4h-.01m0 11h.01m0 18h-.01M469 157h.01m0 1h-.01m0 2h.01m0 27h-.01m0 4h.01m0 3h-.01m0 9h.01m0 7h-.01m0 13h.01m0 4h-.01m0 3h.01m0 3h-.01m0 1h.01m0 2h-.01m0 1h.01m0 1h-.01m0 1h.01m0 1h-.01m0 1h.01m0 1h-.01m0 2h.01m0 1h-.01m0 1h.01m0 1h-.01m0 1h.01m0 1h-.01m0 1h.01m0 1h-.01m0 1h.01m0 1h-.01m0 1h.01m0 2h-.01m0 1h.01m0 1h-.01m0 1h.01m0 1h-.01m0 2h.01m0 1h-.01m0 1h.01m0 1h-.01m0 1h.01m0 1h-.01m0 1h.01m0 1h-.01m0 1h.01m0 1h-.01m0 2h.01m0 2h-.01m0 3h.01m0 1h-.01m0 3h.01m0 4h-.01m0 1h.01m0 1h-.01m0 9h.01m0 3h-.01m0 64h.01M470 74h.01m0 107h-.01m0 19h.01m0 5h-.01m0 13h.01m0 4h-.01m0 6h.01m0 1h-.01m0 1h.01m0 2h-.01m0 2h.01m0 2h-.01m0 2h.01m0 1h-.01m0 2h.01m0 1h-.01m0 1h.01m0 1h-.01m0 1h.01m0 1h-.01m0 1h.01m0 2h-.01m0 1h.01m0 2h-.01m0 1h.01m0 1h-.01m0 1h.01m0 1h-.01m0 1h.01m0 1h-.01m0 1h.01m0 1h-.01m0 1h.01m0 2h-.01m0 1h.01m0 1h-.01m0 1h.01m0 2h-.01m0 1h.01m0 2h-.01m0 2h.01m0 2h-.01m0 4h.01m0 1h-.01m0 1h.01m0 23h-.01m0 6h.01m0 10h-.01M471 78h.01m0 55h-.01m0 63h.01m0 16h-.01m0 2h.01m0 8h-.01m0 2h.01m0 2h-.01m0 1h.01m0 1h-.01m0 4h.01m0 1h-.01m0 5h.01m0 1h-.01m0 4h.01m0 1h-.01m0 1h.01m0 1h-.01m0 2h.01m0 1h-.01m0 1h.01m0 1h-.01m0 1h.01m0 1h-.01m0 1h.01m0 3h-.01m0 2h.01m0 1h-.01m0 1h.01m0 1h-.01m0 1h.01m0 3h-.01m0 1h.01m0 2h-.01m0 1h.01m0 1h-.01m0 1h.01m0 2h-.01m0 1h.01m0 1h-.01m0 2h.01m0 1h-.01m0 3h.01m0 4h-.01m0 7h.01m0 26h-.01m0 15h.01M472 151h.01m0 21h-.01m0 2h.01m0 16h-.01m0 8h.01m0 8h-.01m0 11h.01m0 7h-.01m0 3h.01m0 1h-.01m0 5h.01m0 2h-.01m0 2h.01m0 1h-.01m0 1h.01m0 1h-.01m0 1h.01m0 2h-.01m0 1h.01m0 1h-.01m0 1h.01m0 1h-.01m0 2h.01m0 1h-.01m0 1h.01m0 1h-.01m0 1h.01m0 2h-.01m0 1h.01m0 1h-.01m0 1h.01m0 2h-.01m0 1h.01m0 1h-.01m0 1h.01m0 1h-.01m0 1h.01m0 2h-.01m0 4h.01m0 1h-.01m0 1h.01m0 1h-.01m0 1h.01m0 1h-.01m0 1h.01m0 2h-.01m0 1h.01m0 6h-.01m0 3h.01m0 5h-.01m0 4h.01m0 3h-.01m0 51h.01M473 91h.01m0 105h-.01m0 5h.01m0 15h-.01m0 8h.01m0 1h-.01m0 1h.01m0 1h-.01m0 3h.01m0 1h-.01m0 3h.01m0 5h-.01m0 3h.01m0 1h-.01m0 1h.01m0 1h-.01m0 1h.01m0 1h-.01m0 1h.01m0 1h-.01m0 1h.01m0 1h-.01m0 1h.01m0 4h-.01m0 1h.01m0 1h-.01m0 1h.01m0 1h-.01m0 1h.01m0 1h-.01m0 1h.01m0 1h-.01m0 1h.01m0 2h-.01m0 1h.01m0 1h-.01m0 1h.01m0 1h-.01m0 2h.01m0 1h-.01m0 1h.01m0 2h-.01m0 1h.01m0 1h-.01m0 3h.01m0 3h-.01m0 2h.01m0 7h-.01m0 4h.01m0 1h-.01m0 3h.01m0 15h-.01m0 36h.01M474 114h.01m0 84h-.01m0 12h.01m0 6h-.01m0 2h.01m0 6h-.01m0 2h.01m0 1h-.01m0 1h.01m0 1h-.01m0 2h.01m0 2h-.01m0 3h.01m0 1h-.01m0 2h.01m0 1h-.01m0 1h.01m0 1h-.01m0 1h.01m0 1h-.01m0 1h.01m0 1h-.01m0 1h.01m0 1h-.01m0 3h.01m0 1h-.01m0 2h.01m0 1h-.01m0 1h.01m0 1h-.01m0 1h.01m0 1h-.01m0 2h.01m0 2h-.01m0 1h.01m0 2h-.01m0 3h.01m0 2h-.01m0 1h.01m0 2h-.01m0 1h.01m0 1h-.01m0 1h.01m0 1h-.01m0 2h.01m0 1h-.01m0 1h.01m0 1h-.01m0 1h.01m0 1h-.01m0 3h.01m0 32h-.01m0 14h.01M475 199h.01m0 16h-.01m0 7h.01m0 1h-.01m0 5h.01m0 2h-.01m0 2h.01m0 5h-.01m0 2h.01m0 1h-.01m0 2h.01m0 2h-.01m0 2h.01m0 1h-.01m0 1h.01m0 2h-.01m0 2h.01m0 1h-.01m0 1h.01m0 1h-.01m0 1h.01m0 1h-.01m0 1h.01m0 1h-.01m0 1h.01m0 1h-.01m0 1h.01m0 1h-.01m0 1h.01m0 2h-.01m0 1h.01m0 1h-.01m0 2h.01m0 3h-.01m0 2h.01m0 2h-.01m0 1h.01m0 3h-.01m0 2h.01m0 3h-.01m0 1h.01m0 1h-.01m0 1h.01m0 4h-.01m0 3h.01m0 7h-.01m0 10h.01m0 10h-.01M476 192h.01m0 2h-.01m0 7h.01m0 3h-.01m0 3h.01m0 6h-.01m0 1h.01m0 7h-.01m0 1h.01m0 4h-.01m0 2h.01m0 2h-.01m0 1h.01m0 4h-.01m0 6h.01m0 1h-.01m0 1h.01m0 2h-.01m0 2h.01m0 1h-.01m0 1h.01m0 1h-.01m0 2h.01m0 2h-.01m0 1h.01m0 1h-.01m0 1h.01m0 1h-.01m0 1h.01m0 1h-.01m0 1h.01m0 1h-.01m0 1h.01m0 2h-.01m0 1h.01m0 1h-.01m0 1h.01m0 1h-.01m0 1h.01m0 1h-.01m0 3h.01m0 1h-.01m0 2h.01m0 1h-.01m0 2h.01m0 1h-.01m0 2h.01m0 1h-.01m0 1h.01m0 1h-.01m0 1h.01m0 1h-.01m0 33h.01m0 2h-.01M477 146h.01m0 63h-.01m0 6h.01m0 4h-.01m0 3h.01m0 6h-.01m0 1h.01m0 2h-.01m0 1h.01m0 2h-.01m0 4h.01m0 1h-.01m0 1h.01m0 1h-.01m0 1h.01m0 1h-.01m0 2h.01m0 1h-.01m0 1h.01m0 1h-.01m0 1h.01m0 1h-.01m0 4h.01m0 1h-.01m0 3h.01m0 1h-.01m0 1h.01m0 1h-.01m0 1h.01m0 1h-.01m0 1h.01m0 3h-.01m0 2h.01m0 1h-.01m0 2h.01m0 1h-.01m0 2h.01m0 1h-.01m0 1h.01m0 2h-.01m0 2h.01m0 2h-.01m0 5h.01m0 5h-.01m0 1h.01m0 2h-.01m0 1h.01m0 27h-.01M478 197h.01m0 16h-.01m0 14h.01m0 2h-.01m0 1h.01m0 1h-.01m0 1h.01m0 2h-.01m0 1h.01m0 5h-.01m0 3h.01m0 1h-.01m0 2h.01m0 1h-.01m0 1h.01m0 1h-.01m0 2h.01m0 1h-.01m0 2h.01m0 1h-.01m0 2h.01m0 2h-.01m0 1h.01m0 2h-.01m0 1h.01m0 1h-.01m0 2h.01m0 2h-.01m0 1h.01m0 1h-.01m0 1h.01m0 2h-.01m0 1h.01m0 1h-.01m0 1h.01m0 1h-.01m0 1h.01m0 1h-.01m0 2h.01m0 1h-.01m0 1h.01m0 3h-.01m0 2h.01m0 8h-.01m0 3h.01m0 8h-.01m0 1h.01m0 1h-.01m0 27h.01m0 39h-.01M479 161h.01m0 50h-.01m0 11h.01m0 3h-.01m0 7h.01m0 2h-.01m0 1h.01m0 1h-.01m0 3h.01m0 2h-.01m0 1h.01m0 4h-.01m0 2h.01m0 1h-.01m0 1h.01m0 1h-.01m0 1h.01m0 1h-.01m0 1h.01m0 2h-.01m0 1h.01m0 1h-.01m0 1h.01m0 2h-.01m0 1h.01m0 3h-.01m0 1h.01m0 1h-.01m0 1h.01m0 2h-.01m0 1h.01m0 1h-.01m0 1h.01m0 1h-.01m0 1h.01m0 1h-.01m0 1h.01m0 2h-.01m0 1h.01m0 1h-.01m0 1h.01m0 1h-.01m0 1h.01m0 2h-.01m0 7h.01m0 3h-.01m0 4h.01m0 7h-.01m0 1h.01m0 3h-.01m0 1h.01m0 37h-.01M480 159h.01m0 50h-.01m0 9h.01m0 6h-.01m0 3h.01m0 2h-.01m0 2h.01m0 6h-.01m0 1h.01m0 2h-.01m0 4h.01m0 1h-.01m0 1h.01m0 3h-.01m0 2h.01m0 2h-.01m0 1h.01m0 1h-.01m0 1h.01m0 1h-.01m0 1h.01m0 2h-.01m0 1h.01m0 1h-.01m0 1h.01m0 1h-.01m0 1h.01m0 1h-.01m0 1h.01m0 1h-.01m0 1h.01m0 2h-.01m0 2h.01m0 3h-.01m0 3h.01m0 1h-.01m0 1h.01m0 1h-.01m0 1h.01m0 2h-.01m0 1h.01m0 1h-.01m0 5h.01m0 2h-.01m0 3h.01m0 1h-.01m0 2h.01m0 1h-.01m0 13h.01m0 94h-.01M481 198h.01m0 17h-.01m0 15h.01m0 4h-.01m0 1h.01m0 2h-.01m0 1h.01m0 2h-.01m0 1h.01m0 1h-.01m0 1h.01m0 1h-.01m0 1h.01m0 4h-.01m0 1h.01m0 3h-.01m0 1h.01m0 1h-.01m0 1h.01m0 2h-.01m0 1h.01m0 1h-.01m0 2h.01m0 1h-.01m0 1h.01m0 1h-.01m0 1h.01m0 1h-.01m0 1h.01m0 1h-.01m0 1h.01m0 1h-.01m0 1h.01m0 1h-.01m0 1h.01m0 1h-.01m0 1h.01m0 2h-.01m0 1h.01m0 1h-.01m0 2h.01m0 2h-.01m0 4h.01m0 2h-.01m0 2h.01m0 5h-.01m0 2h.01m0 1h-.01m0 1h.01m0 8h-.01m0 4h.01m0 9h-.01m0 2h.01m0 3h-.01m0 15h.01M482 200h.01m0 10h-.01m0 9h.01m0 11h-.01m0 1h.01m0 2h-.01m0 2h.01m0 5h-.01m0 2h.01m0 3h-.01m0 1h.01m0 4h-.01m0 1h.01m0 2h-.01m0 2h.01m0 1h-.01m0 1h.01m0 2h-.01m0 1h.01m0 1h-.01m0 1h.01m0 1h-.01m0 2h.01m0 1h-.01m0 1h.01m0 1h-.01m0 1h.01m0 1h-.01m0 2h.01m0 2h-.01m0 2h.01m0 1h-.01m0 1h.01m0 3h-.01m0 1h.01m0 1h-.01m0 6h.01m0 4h-.01m0 2h.01m0 1h-.01m0 9h.01M483 189h.01m0 19h-.01m0 14h.01m0 6h-.01m0 5h.01m0 1h-.01m0 7h.01m0 1h-.01m0 5h.01m0 1h-.01m0 1h.01m0 1h-.01m0 1h.01m0 2h-.01m0 1h.01m0 1h-.01m0 1h.01m0 1h-.01m0 1h.01m0 2h-.01m0 1h.01m0 3h-.01m0 1h.01m0 1h-.01m0 1h.01m0 1h-.01m0 1h.01m0 1h-.01m0 1h.01m0 1h-.01m0 2h.01m0 1h-.01m0 1h.01m0 1h-.01m0 1h.01m0 4h-.01m0 1h.01m0 1h-.01m0 1h.01m0 2h-.01m0 5h.01m0 6h-.01m0 6h.01m0 1h-.01m0 4h.01m0 11h-.01m0 3h.01M484 134h.01m0 1h-.01m0 6h.01m0 37h-.01m0 12h.01m0 11h-.01m0 6h.01m0 7h-.01m0 11h.01m0 5h-.01m0 1h.01m0 6h-.01m0 4h.01m0 1h-.01m0 1h.01m0 1h-.01m0 1h.01m0 1h-.01m0 4h.01m0 2h-.01m0 1h.01m0 1h-.01m0 1h.01m0 1h-.01m0 1h.01m0 2h-.01m0 1h.01m0 1h-.01m0 2h.01m0 1h-.01m0 1h.01m0 1h-.01m0 3h.01m0 1h-.01m0 1h.01m0 1h-.01m0 1h.01m0 1h-.01m0 1h.01m0 3h-.01m0 1h.01m0 1h-.01m0 1h.01m0 1h-.01m0 2h.01m0 2h-.01m0 1h.01m0 1h-.01m0 2h.01m0 5h-.01m0 2h.01m0 2h-.01m0 1h.01m0 9h-.01m0 17h.01M485 232h.01m0 4h-.01m0 3h.01m0 2h-.01m0 1h.01m0 2h-.01m0 1h.01m0 5h-.01m0 1h.01m0 1h-.01m0 1h.01m0 1h-.01m0 1h.01m0 1h-.01m0 1h.01m0 2h-.01m0 1h.01m0 1h-.01m0 2h.01m0 2h-.01m0 1h.01m0 1h-.01m0 2h.01m0 1h-.01m0 2h.01m0 1h-.01m0 1h.01m0 4h-.01m0 1h.01m0 1h-.01m0 2h.01m0 1h-.01m0 1h.01m0 1h-.01m0 1h.01m0 4h-.01m0 2h.01m0 1h-.01m0 1h.01m0 1h-.01m0 1h.01m0 2h-.01m0 2h.01m0 5h-.01m0 32h.01m0 42h-.01M486 146h.01m0 39h-.01m0 23h.01m0 19h-.01m0 1h.01m0 9h-.01m0 2h.01m0 2h-.01m0 1h.01m0 4h-.01m0 1h.01m0 2h-.01m0 3h.01m0 2h-.01m0 1h.01m0 1h-.01m0 1h.01m0 1h-.01m0 1h.01m0 1h-.01m0 1h.01m0 1h-.01m0 1h.01m0 1h-.01m0 1h.01m0 1h-.01m0 1h.01m0 1h-.01m0 1h.01m0 1h-.01m0 1h.01m0 1h-.01m0 1h.01m0 1h-.01m0 2h.01m0 2h-.01m0 1h.01m0 1h-.01m0 1h.01m0 1h-.01m0 1h.01m0 2h-.01m0 2h.01m0 1h-.01m0 1h.01m0 1h-.01m0 1h.01m0 5h-.01m0 4h.01m0 21h-.01m0 11h.01m0 14h-.01M487 105h.01m0 88h-.01m0 9h.01m0 28h-.01m0 10h.01m0 2h-.01m0 1h.01m0 2h-.01m0 2h.01m0 2h-.01m0 1h.01m0 2h-.01m0 1h.01m0 1h-.01m0 1h.01m0 1h-.01m0 1h.01m0 2h-.01m0 1h.01m0 2h-.01m0 1h.01m0 2h-.01m0 1h.01m0 2h-.01m0 1h.01m0 1h-.01m0 1h.01m0 1h-.01m0 1h.01m0 1h-.01m0 2h.01m0 1h-.01m0 1h.01m0 1h-.01m0 1h.01m0 1h-.01m0 1h.01m0 1h-.01m0 1h.01m0 4h-.01m0 1h.01m0 4h-.01m0 2h.01m0 2h-.01m0 2h.01m0 5h-.01m0 9h.01m0 2h-.01m0 5h.01m0 5h-.01m0 17h.01M488 205h.01m0 16h-.01m0 10h.01m0 1h-.01m0 7h.01m0 6h-.01m0 1h.01m0 1h-.01m0 1h.01m0 1h-.01m0 1h.01m0 1h-.01m0 3h.01m0 1h-.01m0 1h.01m0 2h-.01m0 2h.01m0 1h-.01m0 1h.01m0 1h-.01m0 1h.01m0 1h-.01m0 1h.01m0 1h-.01m0 2h.01m0 1h-.01m0 2h.01m0 1h-.01m0 1h.01m0 1h-.01m0 1h.01m0 1h-.01m0 1h.01m0 1h-.01m0 1h.01m0 1h-.01m0 1h.01m0 1h-.01m0 1h.01m0 1h-.01m0 1h.01m0 1h-.01m0 1h.01m0 1h-.01m0 5h.01m0 3h-.01m0 2h.01m0 1h-.01m0 1h.01m0 14h-.01M489 150h.01m0 79h-.01m0 1h.01m0 11h-.01m0 2h.01m0 2h-.01m0 1h.01m0 1h-.01m0 3h.01m0 2h-.01m0 1h.01m0 1h-.01m0 2h.01m0 2h-.01m0 1h.01m0 1h-.01m0 1h.01m0 3h-.01m0 1h.01m0 1h-.01m0 1h.01m0 1h-.01m0 1h.01m0 2h-.01m0 1h.01m0 1h-.01m0 1h.01m0 1h-.01m0 1h.01m0 3h-.01m0 2h.01m0 1h-.01m0 1h.01m0 2h-.01m0 2h.01m0 2h-.01m0 1h.01m0 2h-.01m0 7h.01m0 12h-.01m0 2h.01m0 18h-.01m0 10h.01M490 151h.01m0 36h-.01m0 40h.01m0 1h-.01m0 4h.01m0 6h-.01m0 2h.01m0 3h-.01m0 2h.01m0 2h-.01m0 1h.01m0 2h-.01m0 2h.01m0 2h-.01m0 1h.01m0 1h-.01m0 1h.01m0 1h-.01m0 1h.01m0 1h-.01m0 1h.01m0 1h-.01m0 1h.01m0 1h-.01m0 2h.01m0 1h-.01m0 1h.01m0 1h-.01m0 1h.01m0 1h-.01m0 1h.01m0 3h-.01m0 1h.01m0 2h-.01m0 2h.01m0 2h-.01m0 1h.01m0 1h-.01m0 1h.01m0 1h-.01m0 2h.01m0 1h-.01m0 2h.01m0 3h-.01m0 1h.01m0 2h-.01m0 2h.01m0 6h-.01m0 4h.01m0 2h-.01m0 2h.01m0 4h-.01m0 1h.01m0 1h-.01m0 38h.01M491 230h.01m0 2h-.01m0 2h.01m0 5h-.01m0 4h.01m0 2h-.01m0 1h.01m0 2h-.01m0 2h.01m0 6h-.01m0 1h.01m0 2h-.01m0 1h.01m0 1h-.01m0 1h.01m0 3h-.01m0 1h.01m0 2h-.01m0 1h.01m0 1h-.01m0 2h.01m0 1h-.01m0 2h.01m0 1h-.01m0 1h.01m0 3h-.01m0 1h.01m0 1h-.01m0 1h.01m0 8h-.01m0 1h.01m0 1h-.01m0 4h.01m0 1h-.01m0 1h.01m0 1h-.01m0 4h.01m0 3h-.01m0 12h.01m0 1h-.01m0 6h.01m0 4h-.01m0 4h.01m0 11h-.01M492 218h.01m0 10h-.01m0 2h.01m0 2h-.01m0 3h.01m0 10h-.01m0 2h.01m0 3h-.01m0 1h.01m0 2h-.01m0 1h.01m0 2h-.01m0 3h.01m0 1h-.01m0 1h.01m0 1h-.01m0 1h.01m0 1h-.01m0 1h.01m0 1h-.01m0 1h.01m0 4h-.01m0 1h.01m0 1h-.01m0 1h.01m0 1h-.01m0 1h.01m0 1h-.01m0 1h.01m0 1h-.01m0 1h.01m0 1h-.01m0 1h.01m0 2h-.01m0 1h.01m0 1h-.01m0 2h.01m0 1h-.01m0 1h.01m0 1h-.01m0 2h.01m0 1h-.01m0 1h.01m0 1h-.01m0 2h.01m0 2h-.01m0 3h.01m0 35h-.01M493 103h.01m0 120h-.01m0 14h.01m0 1h-.01m0 2h.01m0 1h-.01m0 1h.01m0 2h-.01m0 2h.01m0 2h-.01m0 2h.01m0 3h-.01m0 2h.01m0 1h-.01m0 1h.01m0 1h-.01m0 1h.01m0 1h-.01m0 1h.01m0 2h-.01m0 1h.01m0 1h-.01m0 1h.01m0 2h-.01m0 1h.01m0 1h-.01m0 1h.01m0 1h-.01m0 1h.01m0 1h-.01m0 1h.01m0 1h-.01m0 1h.01m0 2h-.01m0 1h.01m0 2h-.01m0 1h.01m0 3h-.01m0 1h.01m0 1h-.01m0 3h.01m0 1h-.01m0 1h.01m0 6h-.01m0 6h.01m0 2h-.01m0 14h.01m0 7h-.01M494 240h.01m0 4h-.01m0 1h.01m0 1h-.01m0 1h.01m0 2h-.01m0 2h.01m0 1h-.01m0 2h.01m0 2h-.01m0 2h.01m0 1h-.01m0 1h.01m0 1h-.01m0 2h.01m0 1h-.01m0 1h.01m0 1h-.01m0 1h.01m0 1h-.01m0 1h.01m0 1h-.01m0 1h.01m0 2h-.01m0 1h.01m0 2h-.01m0 1h.01m0 1h-.01m0 1h.01m0 1h-.01m0 1h.01m0 2h-.01m0 1h.01m0 1h-.01m0 2h.01m0 1h-.01m0 2h.01m0 3h-.01m0 1h.01m0 2h-.01m0 2h.01m0 2h-.01m0 1h.01m0 1h-.01m0 14h.01m0 4h-.01m0 4h.01m0 27h-.01m0 22h.01M495 223h.01m0 7h-.01m0 4h.01m0 3h-.01m0 1h.01m0 1h-.01m0 3h.01m0 2h-.01m0 1h.01m0 2h-.01m0 1h.01m0 3h-.01m0 2h.01m0 4h-.01m0 1h.01m0 2h-.01m0 1h.01m0 4h-.01m0 1h.01m0 2h-.01m0 3h.01m0 1h-.01m0 1h.01m0 2h-.01m0 2h.01m0 1h-.01m0 1h.01m0 1h-.01m0 1h.01m0 1h-.01m0 3h.01m0 2h-.01m0 1h.01m0 3h-.01m0 1h.01m0 1h-.01m0 4h.01m0 3h-.01m0 1h.01m0 1h-.01m0 5h.01m0 1h-.01m0 58h.01M496 157h.01m0 49h-.01m0 13h.01m0 9h-.01m0 2h.01m0 13h-.01m0 2h.01m0 1h-.01m0 1h.01m0 2h-.01m0 1h.01m0 1h-.01m0 1h.01m0 1h-.01m0 1h.01m0 1h-.01m0 1h.01m0 1h-.01m0 1h.01m0 1h-.01m0 1h.01m0 1h-.01m0 1h.01m0 2h-.01m0 1h.01m0 1h-.01m0 1h.01m0 2h-.01m0 1h.01m0 1h-.01m0 1h.01m0 1h-.01m0 1h.01m0 1h-.01m0 1h.01m0 1h-.01m0 1h.01m0 1h-.01m0 1h.01m0 3h-.01m0 1h.01m0 1h-.01m0 2h.01m0 1h-.01m0 1h.01m0 1h-.01m0 4h.01m0 1h-.01m0 2h.01m0 1h-.01m0 2h.01m0 2h-.01m0 1h.01m0 1h-.01m0 8h.01m0 4h-.01m0 3h.01m0 3h-.01m0 6h.01m0 10h-.01m0 46h.01M497 215h.01m0 2h-.01m0 8h.01m0 13h-.01m0 5h.01m0 1h-.01m0 1h.01m0 1h-.01m0 1h.01m0 7h-.01m0 1h.01m0 1h-.01m0 2h.01m0 3h-.01m0 2h.01m0 1h-.01m0 2h.01m0 1h-.01m0 1h.01m0 1h-.01m0 3h.01m0 1h-.01m0 1h.01m0 1h-.01m0 1h.01m0 1h-.01m0 1h.01m0 2h-.01m0 1h.01m0 2h-.01m0 1h.01m0 1h-.01m0 1h.01m0 2h-.01m0 1h.01m0 2h-.01m0 1h.01m0 2h-.01m0 1h.01m0 3h-.01m0 4h.01m0 1h-.01m0 6h.01m0 1h-.01m0 3h.01m0 3h-.01m0 15h.01m0 3h-.01m0 19h.01M498 177h.01m0 1h-.01m0 57h.01m0 2h-.01m0 3h.01m0 4h-.01m0 2h.01m0 1h-.01m0 3h.01m0 3h-.01m0 1h.01m0 1h-.01m0 2h.01m0 2h-.01m0 1h.01m0 2h-.01m0 1h.01m0 1h-.01m0 1h.01m0 1h-.01m0 1h.01m0 1h-.01m0 1h.01m0 1h-.01m0 1h.01m0 1h-.01m0 2h.01m0 1h-.01m0 1h.01m0 3h-.01m0 1h.01m0 1h-.01m0 1h.01m0 1h-.01m0 1h.01m0 2h-.01m0 1h.01m0 4h-.01m0 2h.01m0 1h-.01m0 6h.01m0 2h-.01m0 6h.01m0 5h-.01m0 3h.01m0 8h-.01m0 11h.01M499 205h.01m0 13h-.01m0 7h.01m0 10h-.01m0 3h.01m0 2h-.01m0 2h.01m0 2h-.01m0 5h.01m0 2h-.01m0 2h.01m0 1h-.01m0 1h.01m0 2h-.01m0 2h.01m0 1h-.01m0 3h.01m0 1h-.01m0 1h.01m0 1h-.01m0 3h.01m0 1h-.01m0 1h.01m0 2h-.01m0 1h.01m0 1h-.01m0 1h.01m0 1h-.01m0 1h.01m0 4h-.01m0 1h.01m0 2h-.01m0 1h.01m0 1h-.01m0 1h.01m0 4h-.01m0 3h.01m0 1h-.01m0 2h.01m0 2h-.01m0 1h.01m0 6h-.01m0 1h.01m0 1h-.01m0 16h.01m0 3h-.01M500 200h.01m0 12h-.01m0 5h.01m0 15h-.01m0 5h.01m0 3h-.01m0 2h.01m0 4h-.01m0 1h.01m0 1h-.01m0 2h.01m0 3h-.01m0 1h.01m0 2h-.01m0 1h.01m0 1h-.01m0 1h.01m0 1h-.01m0 1h.01m0 1h-.01m0 2h.01m0 1h-.01m0 4h.01m0 1h-.01m0 1h.01m0 1h-.01m0 1h.01m0 1h-.01m0 1h.01m0 1h-.01m0 3h.01m0 1h-.01m0 2h.01m0 1h-.01m0 2h.01m0 2h-.01m0 2h.01m0 3h-.01m0 3h.01m0 1h-.01m0 2h.01m0 1h-.01m0 1h.01m0 1h-.01m0 1h.01m0 2h-.01m0 4h.01m0 1h-.01m0 1h.01m0 4h-.01m0 1h.01m0 21h-.01m0 12h.01m0 6h-.01M501 216h.01m0 14h-.01m0 4h.01m0 1h-.01m0 3h.01m0 4h-.01m0 1h.01m0 5h-.01m0 1h.01m0 1h-.01m0 2h.01m0 1h-.01m0 1h.01m0 2h-.01m0 2h.01m0 2h-.01m0 1h.01m0 2h-.01m0 1h.01m0 1h-.01m0 1h.01m0 1h-.01m0 1h.01m0 1h-.01m0 1h.01m0 1h-.01m0 1h.01m0 1h-.01m0 1h.01m0 1h-.01m0 1h.01m0 1h-.01m0 1h.01m0 1h-.01m0 1h.01m0 1h-.01m0 1h.01m0 1h-.01m0 2h.01m0 1h-.01m0 2h.01m0 1h-.01m0 1h.01m0 1h-.01m0 1h.01m0 3h-.01m0 2h.01m0 2h-.01m0 3h.01m0 1h-.01m0 3h.01m0 6h-.01m0 2h.01m0 14h-.01M502 207h.01m0 2h-.01m0 9h.01m0 18h-.01m0 3h.01m0 5h-.01m0 3h.01m0 2h-.01m0 6h.01m0 1h-.01m0 1h.01m0 2h-.01m0 3h.01m0 1h-.01m0 5h.01m0 1h-.01m0 1h.01m0 1h-.01m0 1h.01m0 1h-.01m0 2h.01m0 1h-.01m0 2h.01m0 1h-.01m0 1h.01m0 1h-.01m0 1h.01m0 1h-.01m0 2h.01m0 1h-.01m0 2h.01m0 1h-.01m0 2h.01m0 3h-.01m0 1h.01m0 1h-.01m0 3h.01m0 3h-.01m0 3h.01m0 6h-.01m0 3h.01m0 2h-.01m0 6h.01m0 7h-.01m0 2h.01m0 46h-.01M503 187h.01m0 26h-.01m0 15h.01m0 1h-.01m0 1h.01m0 3h-.01m0 7h.01m0 3h-.01m0 2h.01m0 2h-.01m0 4h.01m0 2h-.01m0 2h.01m0 1h-.01m0 3h.01m0 2h-.01m0 1h.01m0 2h-.01m0 1h.01m0 1h-.01m0 1h.01m0 1h-.01m0 2h.01m0 4h-.01m0 1h.01m0 1h-.01m0 1h.01m0 1h-.01m0 1h.01m0 2h-.01m0 3h.01m0 1h-.01m0 1h.01m0 1h-.01m0 1h.01m0 2h-.01m0 3h.01m0 2h-.01m0 4h.01m0 1h-.01m0 4h.01m0 1h-.01m0 9h.01m0 2h-.01m0 1h.01m0 2h-.01m0 1h.01m0 4h-.01m0 6h.01m0 7h-.01m0 8h.01m0 22h-.01M504 204h.01m0 6h-.01m0 6h.01m0 17h-.01m0 3h.01m0 8h-.01m0 1h.01m0 1h-.01m0 5h.01m0 4h-.01m0 3h.01m0 2h-.01m0 1h.01m0 1h-.01m0 1h.01m0 1h-.01m0 1h.01m0 1h-.01m0 1h.01m0 1h-.01m0 1h.01m0 1h-.01m0 1h.01m0 2h-.01m0 1h.01m0 2h-.01m0 1h.01m0 1h-.01m0 1h.01m0 1h-.01m0 1h.01m0 2h-.01m0 1h.01m0 1h-.01m0 1h.01m0 1h-.01m0 2h.01m0 1h-.01m0 1h.01m0 1h-.01m0 1h.01m0 1h-.01m0 1h.01m0 1h-.01m0 1h.01m0 1h-.01m0 1h.01m0 1h-.01m0 1h.01m0 1h-.01m0 1h.01m0 3h-.01m0 1h.01m0 1h-.01m0 3h.01m0 8h-.01m0 2h.01m0 2h-.01m0 2h.01m0 44h-.01M505 142h.01m0 83h-.01m0 10h.01m0 3h-.01m0 4h.01m0 11h-.01m0 1h.01m0 1h-.01m0 2h.01m0 1h-.01m0 1h.01m0 3h-.01m0 2h.01m0 2h-.01m0 1h.01m0 1h-.01m0 2h.01m0 1h-.01m0 4h.01m0 1h-.01m0 2h.01m0 2h-.01m0 1h.01m0 1h-.01m0 1h.01m0 1h-.01m0 1h.01m0 1h-.01m0 1h.01m0 1h-.01m0 2h.01m0 1h-.01m0 1h.01m0 2h-.01m0 1h.01m0 2h-.01m0 1h.01m0 3h-.01m0 2h.01m0 1h-.01m0 3h.01m0 2h-.01m0 5h.01m0 5h-.01m0 30h.01m0 4h-.01M506 221h.01m0 11h-.01m0 1h.01m0 3h-.01m0 1h.01m0 1h-.01m0 13h.01m0 2h-.01m0 5h.01m0 1h-.01m0 1h.01m0 1h-.01m0 2h.01m0 1h-.01m0 2h.01m0 1h-.01m0 2h.01m0 1h-.01m0 1h.01m0 2h-.01m0 2h.01m0 1h-.01m0 1h.01m0 2h-.01m0 2h.01m0 1h-.01m0 2h.01m0 2h-.01m0 1h.01m0 1h-.01m0 1h.01m0 4h-.01m0 2h.01m0 3h-.01m0 6h.01m0 1h-.01m0 1h.01m0 3h-.01m0 7h.01M507 155h.01m0 55h-.01m0 19h.01m0 7h-.01m0 8h.01m0 6h-.01m0 3h.01m0 2h-.01m0 7h.01m0 1h-.01m0 1h.01m0 2h-.01m0 2h.01m0 2h-.01m0 1h.01m0 1h-.01m0 1h.01m0 1h-.01m0 2h.01m0 1h-.01m0 1h.01m0 1h-.01m0 1h.01m0 1h-.01m0 1h.01m0 1h-.01m0 2h.01m0 1h-.01m0 1h.01m0 1h-.01m0 1h.01m0 1h-.01m0 1h.01m0 1h-.01m0 1h.01m0 2h-.01m0 1h.01m0 1h-.01m0 1h.01m0 1h-.01m0 1h.01m0 2h-.01m0 3h.01m0 1h-.01m0 1h.01m0 1h-.01m0 3h.01m0 3h-.01m0 1h.01m0 14h-.01m0 6h.01m0 74h-.01M508 213h.01m0 1h-.01m0 6h.01m0 12h-.01m0 4h.01m0 4h-.01m0 2h.01m0 1h-.01m0 1h.01m0 2h-.01m0 5h.01m0 2h-.01m0 1h.01m0 4h-.01m0 2h.01m0 1h-.01m0 1h.01m0 2h-.01m0 1h.01m0 1h-.01m0 1h.01m0 1h-.01m0 3h.01m0 1h-.01m0 1h.01m0 1h-.01m0 2h.01m0 1h-.01m0 3h.01m0 1h-.01m0 1h.01m0 2h-.01m0 1h.01m0 1h-.01m0 2h.01m0 2h-.01m0 2h.01m0 1h-.01m0 5h.01m0 3h-.01m0 2h.01m0 1h-.01m0 1h.01m0 1h-.01m0 1h.01m0 3h-.01m0 3h.01m0 6h-.01m0 5h.01m0 5h-.01m0 2h.01m0 5h-.01m0 10h.01m0 2h-.01M509 81h.01m0 104h-.01m0 1h.01m0 46h-.01m0 8h.01m0 2h-.01m0 2h.01m0 1h-.01m0 2h.01m0 2h-.01m0 1h.01m0 1h-.01m0 2h.01m0 1h-.01m0 1h.01m0 2h-.01m0 1h.01m0 1h-.01m0 1h.01m0 1h-.01m0 1h.01m0 2h-.01m0 1h.01m0 1h-.01m0 2h.01m0 2h-.01m0 1h.01m0 1h-.01m0 1h.01m0 1h-.01m0 1h.01m0 2h-.01m0 2h.01m0 3h-.01m0 1h.01m0 1h-.01m0 1h.01m0 1h-.01m0 1h.01m0 3h-.01m0 1h.01m0 4h-.01m0 1h.01m0 1h-.01m0 1h.01m0 1h-.01m0 1h.01m0 1h-.01m0 1h.01m0 5h-.01m0 1h.01m0 5h-.01m0 5h.01m0 4h-.01m0 1h.01m0 4h-.01m0 24h.01M510 186h.01m0 28h-.01m0 13h.01m0 2h-.01m0 6h.01m0 3h-.01m0 1h.01m0 3h-.01m0 2h.01m0 3h-.01m0 3h.01m0 1h-.01m0 1h.01m0 1h-.01m0 2h.01m0 1h-.01m0 2h.01m0 1h-.01m0 1h.01m0 1h-.01m0 1h.01m0 2h-.01m0 2h.01m0 1h-.01m0 1h.01m0 1h-.01m0 2h.01m0 1h-.01m0 2h.01m0 1h-.01m0 1h.01m0 1h-.01m0 1h.01m0 1h-.01m0 2h.01m0 1h-.01m0 1h.01m0 1h-.01m0 1h.01m0 3h-.01m0 1h.01m0 1h-.01m0 5h.01m0 1h-.01m0 2h.01m0 1h-.01m0 1h.01m0 2h-.01m0 2h.01m0 1h-.01m0 1h.01m0 3h-.01m0 5h.01m0 10h-.01m0 5h.01m0 9h-.01M511 214h.01m0 1h-.01m0 31h.01m0 3h-.01m0 1h.01m0 4h-.01m0 1h.01m0 4h-.01m0 1h.01m0 1h-.01m0 1h.01m0 1h-.01m0 1h.01m0 1h-.01m0 1h.01m0 1h-.01m0 1h.01m0 1h-.01m0 2h.01m0 1h-.01m0 2h.01m0 2h-.01m0 2h.01m0 1h-.01m0 1h.01m0 1h-.01m0 3h.01m0 1h-.01m0 1h.01m0 3h-.01m0 1h.01m0 2h-.01m0 1h.01m0 3h-.01m0 1h.01m0 1h-.01m0 4h.01m0 1h-.01m0 1h.01m0 1h-.01m0 2h.01m0 10h-.01m0 7h.01m0 4h-.01m0 4h.01m0 36h-.01M512 156h.01m0 32h-.01m0 19h.01m0 22h-.01m0 10h.01m0 1h-.01m0 5h.01m0 3h-.01m0 1h.01m0 2h-.01m0 2h.01m0 1h-.01m0 1h.01m0 1h-.01m0 1h.01m0 1h-.01m0 1h.01m0 2h-.01m0 1h.01m0 2h-.01m0 2h.01m0 1h-.01m0 2h.01m0 1h-.01m0 1h.01m0 1h-.01m0 1h.01m0 2h-.01m0 1h.01m0 1h-.01m0 1h.01m0 2h-.01m0 1h.01m0 1h-.01m0 2h.01m0 1h-.01m0 1h.01m0 3h-.01m0 2h.01m0 1h-.01m0 1h.01m0 1h-.01m0 2h.01m0 2h-.01m0 1h.01m0 2h-.01m0 1h.01m0 1h-.01m0 2h.01m0 9h-.01m0 12h.01m0 10h-.01M513 181h.01m0 14h-.01m0 22h.01m0 16h-.01m0 8h.01m0 5h-.01m0 2h.01m0 2h-.01m0 4h.01m0 2h-.01m0 1h.01m0 1h-.01m0 1h.01m0 1h-.01m0 2h.01m0 3h-.01m0 2h.01m0 1h-.01m0 2h.01m0 1h-.01m0 1h.01m0 1h-.01m0 1h.01m0 1h-.01m0 1h.01m0 1h-.01m0 1h.01m0 1h-.01m0 2h.01m0 2h-.01m0 1h.01m0 2h-.01m0 1h.01m0 1h-.01m0 1h.01m0 2h-.01m0 1h.01m0 2h-.01m0 1h.01m0 1h-.01m0 1h.01m0 1h-.01m0 1h.01m0 1h-.01m0 3h.01m0 2h-.01m0 4h.01m0 4h-.01m0 2h.01m0 2h-.01M514 236h.01m0 4h-.01m0 5h.01m0 1h-.01m0 1h.01m0 1h-.01m0 2h.01m0 2h-.01m0 1h.01m0 3h-.01m0 2h.01m0 2h-.01m0 2h.01m0 1h-.01m0 1h.01m0 1h-.01m0 1h.01m0 1h-.01m0 1h.01m0 3h-.01m0 2h.01m0 2h-.01m0 1h.01m0 2h-.01m0 1h.01m0 1h-.01m0 3h.01m0 1h-.01m0 1h.01m0 1h-.01m0 1h.01m0 1h-.01m0 1h.01m0 3h-.01m0 1h.01m0 2h-.01m0 2h.01m0 5h-.01m0 2h.01m0 1h-.01m0 2h.01m0 3h-.01m0 2h.01m0 6h-.01m0 3h.01m0 6h-.01m0 2h.01m0 37h-.01M515 194h.01m0 2h-.01m0 5h.01m0 1h-.01m0 2h.01m0 32h-.01m0 2h.01m0 1h-.01m0 6h.01m0 2h-.01m0 6h.01m0 1h-.01m0 1h.01m0 1h-.01m0 1h.01m0 1h-.01m0 1h.01m0 1h-.01m0 1h.01m0 1h-.01m0 1h.01m0 1h-.01m0 1h.01m0 3h-.01m0 1h.01m0 2h-.01m0 1h.01m0 1h-.01m0 1h.01m0 1h-.01m0 1h.01m0 1h-.01m0 1h.01m0 1h-.01m0 1h.01m0 2h-.01m0 1h.01m0 2h-.01m0 1h.01m0 1h-.01m0 1h.01m0 1h-.01m0 1h.01m0 1h-.01m0 1h.01m0 2h-.01m0 2h.01m0 1h-.01m0 1h.01m0 1h-.01m0 3h.01m0 1h-.01m0 1h.01m0 9h-.01m0 1h.01m0 28h-.01M516 190h.01m0 8h-.01m0 12h.01m0 24h-.01m0 1h.01m0 7h-.01m0 3h.01m0 4h-.01m0 6h.01m0 2h-.01m0 3h.01m0 1h-.01m0 1h.01m0 2h-.01m0 1h.01m0 2h-.01m0 1h.01m0 1h-.01m0 1h.01m0 1h-.01m0 2h.01m0 1h-.01m0 1h.01m0 3h-.01m0 2h.01m0 1h-.01m0 1h.01m0 1h-.01m0 1h.01m0 1h-.01m0 1h.01m0 1h-.01m0 1h.01m0 2h-.01m0 1h.01m0 1h-.01m0 3h.01m0 1h-.01m0 2h.01m0 1h-.01m0 3h.01m0 3h-.01m0 1h.01m0 1h-.01m0 12h.01m0 2h-.01m0 1h.01m0 19h-.01m0 37h.01M517 231h.01m0 12h-.01m0 2h.01m0 1h-.01m0 1h.01m0 1h-.01m0 5h.01m0 2h-.01m0 1h.01m0 1h-.01m0 2h.01m0 2h-.01m0 1h.01m0 2h-.01m0 1h.01m0 1h-.01m0 1h.01m0 1h-.01m0 1h.01m0 1h-.01m0 2h.01m0 2h-.01m0 2h.01m0 3h-.01m0 1h.01m0 1h-.01m0 1h.01m0 1h-.01m0 1h.01m0 1h-.01m0 3h.01m0 1h-.01m0 3h.01m0 1h-.01m0 1h.01m0 2h-.01m0 3h.01m0 1h-.01m0 4h.01m0 3h-.01m0 3h.01m0 1h-.01m0 4h.01m0 15h-.01m0 3h.01m0 16h-.01m0 2h.01M518 118h.01m0 85h-.01m0 2h.01m0 26h-.01m0 6h.01m0 4h-.01m0 6h.01m0 1h-.01m0 1h.01m0 2h-.01m0 1h.01m0 1h-.01m0 1h.01m0 2h-.01m0 1h.01m0 2h-.01m0 2h.01m0 1h-.01m0 1h.01m0 2h-.01m0 1h.01m0 1h-.01m0 1h.01m0 1h-.01m0 1h.01m0 1h-.01m0 3h.01m0 1h-.01m0 1h.01m0 1h-.01m0 1h.01m0 2h-.01m0 3h.01m0 2h-.01m0 1h.01m0 1h-.01m0 1h.01m0 2h-.01m0 1h.01m0 1h-.01m0 1h.01m0 3h-.01m0 1h.01m0 5h-.01m0 2h.01m0 3h-.01m0 3h.01m0 13h-.01m0 11h.01m0 2h-.01m0 9h.01m0 4h-.01M519 180h.01m0 20h-.01m0 20h.01m0 14h-.01m0 13h.01m0 7h-.01m0 1h.01m0 1h-.01m0 2h.01m0 1h-.01m0 4h.01m0 1h-.01m0 1h.01m0 3h-.01m0 1h.01m0 1h-.01m0 1h.01m0 1h-.01m0 1h.01m0 1h-.01m0 1h.01m0 1h-.01m0 1h.01m0 1h-.01m0 1h.01m0 1h-.01m0 1h.01m0 2h-.01m0 1h.01m0 1h-.01m0 1h.01m0 1h-.01m0 1h.01m0 1h-.01m0 3h.01m0 6h-.01m0 1h.01m0 1h-.01m0 13h.01m0 3h-.01m0 1h.01m0 7h-.01m0 30h.01M520 215h.01m0 10h-.01m0 14h.01m0 5h-.01m0 1h.01m0 1h-.01m0 1h.01m0 1h-.01m0 5h.01m0 1h-.01m0 1h.01m0 1h-.01m0 1h.01m0 3h-.01m0 1h.01m0 3h-.01m0 3h.01m0 1h-.01m0 2h.01m0 2h-.01m0 2h.01m0 1h-.01m0 1h.01m0 2h-.01m0 1h.01m0 1h-.01m0 2h.01m0 1h-.01m0 1h.01m0 1h-.01m0 1h.01m0 5h-.01m0 1h.01m0 1h-.01m0 2h.01m0 2h-.01m0 1h.01m0 1h-.01m0 1h.01m0 10h-.01m0 4h.01m0 1h-.01m0 3h.01m0 2h-.01m0 16h.01m0 4h-.01m0 36h.01M521 216h.01m0 3h-.01m0 5h.01m0 8h-.01m0 1h.01m0 3h-.01m0 1h.01m0 3h-.01m0 3h.01m0 2h-.01m0 1h.01m0 7h-.01m0 1h.01m0 4h-.01m0 1h.01m0 1h-.01m0 1h.01m0 1h-.01m0 3h.01m0 1h-.01m0 1h.01m0 1h-.01m0 1h.01m0 1h-.01m0 1h.01m0 1h-.01m0 1h.01m0 1h-.01m0 1h.01m0 1h-.01m0 1h.01m0 1h-.01m0 1h.01m0 1h-.01m0 1h.01m0 2h-.01m0 1h.01m0 1h-.01m0 1h.01m0 2h-.01m0 1h.01m0 1h-.01m0 1h.01m0 1h-.01m0 2h.01m0 1h-.01m0 1h.01m0 2h-.01m0 5h.01m0 2h-.01m0 1h.01m0 5h-.01m0 15h.01M522 183h.01m0 30h-.01m0 5h.01m0 4h-.01m0 10h.01m0 5h-.01m0 4h.01m0 3h-.01m0 1h.01m0 8h-.01m0 4h.01m0 1h-.01m0 1h.01m0 2h-.01m0 1h.01m0 1h-.01m0 1h.01m0 1h-.01m0 1h.01m0 1h-.01m0 2h.01m0 1h-.01m0 1h.01m0 2h-.01m0 1h.01m0 1h-.01m0 1h.01m0 2h-.01m0 1h.01m0 1h-.01m0 1h.01m0 1h-.01m0 2h.01m0 1h-.01m0 1h.01m0 1h-.01m0 1h.01m0 1h-.01m0 2h.01m0 3h-.01m0 1h.01m0 2h-.01m0 1h.01m0 1h-.01m0 2h.01m0 6h-.01m0 1h.01m0 1h-.01m0 3h.01m0 4h-.01m0 11h.01M523 184h.01m0 15h-.01m0 26h.01m0 7h-.01m0 1h.01m0 2h-.01m0 5h.01m0 2h-.01m0 5h.01m0 2h-.01m0 4h.01m0 1h-.01m0 1h.01m0 1h-.01m0 1h.01m0 1h-.01m0 1h.01m0 2h-.01m0 1h.01m0 1h-.01m0 1h.01m0 1h-.01m0 2h.01m0 3h-.01m0 1h.01m0 1h-.01m0 2h.01m0 2h-.01m0 1h.01m0 1h-.01m0 2h.01m0 3h-.01m0 2h.01m0 1h-.01m0 1h.01m0 4h-.01m0 1h.01m0 3h-.01m0 1h.01m0 3h-.01m0 2h.01m0 1h-.01m0 1h.01m0 7h-.01m0 7h.01m0 51h-.01M524 207h.01m0 23h-.01m0 3h.01m0 7h-.01m0 2h.01m0 4h-.01m0 1h.01m0 1h-.01m0 2h.01m0 2h-.01m0 1h.01m0 1h-.01m0 1h.01m0 1h-.01m0 3h.01m0 2h-.01m0 1h.01m0 4h-.01m0 1h.01m0 2h-.01m0 2h.01m0 1h-.01m0 1h.01m0 1h-.01m0 1h.01m0 1h-.01m0 1h.01m0 1h-.01m0 1h.01m0 1h-.01m0 1h.01m0 2h-.01m0 1h.01m0 1h-.01m0 3h.01m0 1h-.01m0 1h.01m0 3h-.01m0 1h.01m0 1h-.01m0 1h.01m0 1h-.01m0 4h.01m0 3h-.01m0 24h.01m0 22h-.01m0 17h.01M525 81h.01m0 112h-.01m0 10h.01m0 31h-.01m0 2h.01m0 6h-.01m0 4h.01m0 2h-.01m0 3h.01m0 1h-.01m0 1h.01m0 1h-.01m0 1h.01m0 1h-.01m0 1h.01m0 1h-.01m0 1h.01m0 2h-.01m0 1h.01m0 1h-.01m0 1h.01m0 1h-.01m0 1h.01m0 1h-.01m0 1h.01m0 1h-.01m0 2h.01m0 1h-.01m0 1h.01m0 2h-.01m0 2h.01m0 1h-.01m0 2h.01m0 1h-.01m0 1h.01m0 1h-.01m0 1h.01m0 1h-.01m0 1h.01m0 1h-.01m0 1h.01m0 1h-.01m0 3h.01m0 1h-.01m0 3h.01m0 1h-.01m0 6h.01m0 2h-.01m0 1h.01m0 6h-.01m0 9h.01m0 15h-.01m0 19h.01m0 35h-.01M526 201h.01m0 13h-.01m0 6h.01m0 6h-.01m0 12h.01m0 5h-.01m0 3h.01m0 2h-.01m0 1h.01m0 2h-.01m0 1h.01m0 1h-.01m0 1h.01m0 1h-.01m0 2h.01m0 1h-.01m0 1h.01m0 1h-.01m0 2h.01m0 1h-.01m0 1h.01m0 2h-.01m0 1h.01m0 1h-.01m0 1h.01m0 1h-.01m0 1h.01m0 1h-.01m0 1h.01m0 2h-.01m0 1h.01m0 1h-.01m0 2h.01m0 1h-.01m0 1h.01m0 1h-.01m0 1h.01m0 2h-.01m0 1h.01m0 1h-.01m0 7h.01m0 3h-.01m0 1h.01m0 2h-.01m0 48h.01m0 26h-.01M527 139h.01m0 51h-.01m0 5h.01m0 31h-.01m0 1h.01m0 7h-.01m0 4h.01m0 1h-.01m0 4h.01m0 1h-.01m0 2h.01m0 1h-.01m0 2h.01m0 2h-.01m0 1h.01m0 1h-.01m0 1h.01m0 1h-.01m0 1h.01m0 1h-.01m0 1h.01m0 1h-.01m0 1h.01m0 2h-.01m0 1h.01m0 1h-.01m0 1h.01m0 1h-.01m0 1h.01m0 1h-.01m0 2h.01m0 1h-.01m0 1h.01m0 1h-.01m0 1h.01m0 1h-.01m0 1h.01m0 2h-.01m0 2h.01m0 4h-.01m0 1h.01m0 2h-.01m0 6h.01m0 1h-.01m0 1h.01m0 1h-.01m0 1h.01m0 2h-.01m0 9h.01m0 27h-.01m0 26h.01M528 206h.01m0 16h-.01m0 2h.01m0 6h-.01m0 3h.01m0 2h-.01m0 4h.01m0 12h-.01m0 1h.01m0 1h-.01m0 1h.01m0 1h-.01m0 6h.01m0 1h-.01m0 1h.01m0 1h-.01m0 1h.01m0 1h-.01m0 2h.01m0 1h-.01m0 1h.01m0 1h-.01m0 1h.01m0 2h-.01m0 1h.01m0 1h-.01m0 1h.01m0 2h-.01m0 1h.01m0 1h-.01m0 2h.01m0 1h-.01m0 1h.01m0 1h-.01m0 1h.01m0 2h-.01m0 6h.01m0 2h-.01m0 3h.01m0 9h-.01m0 10h.01M529 198h.01m0 11h-.01m0 6h.01m0 10h-.01m0 3h.01m0 2h-.01m0 1h.01m0 3h-.01m0 6h.01m0 1h-.01m0 3h.01m0 1h-.01m0 1h.01m0 3h-.01m0 3h.01m0 3h-.01m0 2h.01m0 1h-.01m0 1h.01m0 1h-.01m0 2h.01m0 1h-.01m0 2h.01m0 1h-.01m0 1h.01m0 1h-.01m0 1h.01m0 1h-.01m0 2h.01m0 1h-.01m0 1h.01m0 1h-.01m0 1h.01m0 1h-.01m0 1h.01m0 1h-.01m0 4h.01m0 1h-.01m0 1h.01m0 1h-.01m0 2h.01m0 1h-.01m0 2h.01m0 7h-.01m0 2h.01m0 14h-.01m0 5h.01m0 87h-.01M530 163h.01m0 30h-.01m0 6h.01m0 8h-.01m0 8h.01m0 9h-.01m0 7h.01m0 5h-.01m0 1h.01m0 1h-.01m0 8h.01m0 1h-.01m0 1h.01m0 3h-.01m0 3h.01m0 1h-.01m0 1h.01m0 1h-.01m0 1h.01m0 2h-.01m0 1h.01m0 1h-.01m0 1h.01m0 1h-.01m0 1h.01m0 2h-.01m0 1h.01m0 1h-.01m0 1h.01m0 2h-.01m0 1h.01m0 1h-.01m0 1h.01m0 1h-.01m0 1h.01m0 1h-.01m0 1h.01m0 1h-.01m0 1h.01m0 1h-.01m0 6h.01m0 1h-.01m0 1h.01m0 1h-.01m0 1h.01m0 2h-.01m0 2h.01m0 2h-.01m0 3h.01m0 6h-.01m0 18h.01m0 6h-.01m0 4h.01m0 2h-.01m0 5h.01M531 134h.01m0 54h-.01m0 12h.01m0 2h-.01m0 20h.01m0 2h-.01m0 7h.01m0 12h-.01m0 2h.01m0 1h-.01m0 1h.01m0 3h-.01m0 3h.01m0 1h-.01m0 1h.01m0 1h-.01m0 1h.01m0 1h-.01m0 1h.01m0 1h-.01m0 4h.01m0 1h-.01m0 1h.01m0 1h-.01m0 2h.01m0 1h-.01m0 1h.01m0 1h-.01m0 2h.01m0 2h-.01m0 1h.01m0 2h-.01m0 1h.01m0 2h-.01m0 1h.01m0 1h-.01m0 1h.01m0 1h-.01m0 1h.01m0 2h-.01m0 1h.01m0 4h-.01m0 1h.01m0 2h-.01m0 2h.01m0 5h-.01m0 4h.01m0 28h-.01M532 182h.01m0 10h-.01m0 11h.01m0 5h-.01m0 1h.01m0 5h-.01m0 11h.01m0 1h-.01m0 4h.01m0 6h-.01m0 5h.01m0 1h-.01m0 5h.01m0 2h-.01m0 4h.01m0 1h-.01m0 1h.01m0 1h-.01m0 1h.01m0 2h-.01m0 1h.01m0 1h-.01m0 1h.01m0 1h-.01m0 1h.01m0 1h-.01m0 1h.01m0 1h-.01m0 1h.01m0 1h-.01m0 1h.01m0 1h-.01m0 1h.01m0 1h-.01m0 1h.01m0 1h-.01m0 1h.01m0 2h-.01m0 1h.01m0 1h-.01m0 1h.01m0 1h-.01m0 1h.01m0 3h-.01m0 3h.01m0 1h-.01m0 3h.01m0 1h-.01m0 5h.01m0 1h-.01m0 5h.01m0 7h-.01m0 3h.01m0 6h-.01m0 16h.01m0 13h-.01M533 175h.01m0 17h-.01m0 15h.01m0 13h-.01m0 1h.01m0 2h-.01m0 1h.01m0 1h-.01m0 1h.01m0 13h-.01m0 2h.01m0 1h-.01m0 1h.01m0 3h-.01m0 3h.01m0 2h-.01m0 1h.01m0 1h-.01m0 2h.01m0 2h-.01m0 1h.01m0 1h-.01m0 1h.01m0 1h-.01m0 1h.01m0 1h-.01m0 1h.01m0 1h-.01m0 1h.01m0 1h-.01m0 1h.01m0 1h-.01m0 2h.01m0 1h-.01m0 1h.01m0 1h-.01m0 1h.01m0 1h-.01m0 1h.01m0 2h-.01m0 1h.01m0 2h-.01m0 1h.01m0 2h-.01m0 1h.01m0 1h-.01m0 1h.01m0 1h-.01m0 1h.01m0 4h-.01m0 7h.01m0 4h-.01m0 5h.01m0 8h-.01m0 23h.01M534 202h.01m0 4h-.01m0 2h.01m0 4h-.01m0 8h.01m0 5h-.01m0 2h.01m0 1h-.01m0 1h.01m0 1h-.01m0 1h.01m0 1h-.01m0 1h.01m0 4h-.01m0 3h.01m0 6h-.01m0 2h.01m0 1h-.01m0 1h.01m0 2h-.01m0 1h.01m0 1h-.01m0 1h.01m0 1h-.01m0 3h.01m0 1h-.01m0 2h.01m0 1h-.01m0 1h.01m0 1h-.01m0 1h.01m0 1h-.01m0 1h.01m0 1h-.01m0 2h.01m0 1h-.01m0 1h.01m0 1h-.01m0 1h.01m0 1h-.01m0 1h.01m0 1h-.01m0 2h.01m0 1h-.01m0 1h.01m0 1h-.01m0 1h.01m0 1h-.01m0 1h.01m0 1h-.01m0 1h.01m0 1h-.01m0 1h.01m0 2h-.01m0 1h.01m0 7h-.01m0 16h.01m0 5h-.01M535 166h.01m0 42h-.01m0 5h.01m0 8h-.01m0 4h.01m0 6h-.01m0 1h.01m0 1h-.01m0 1h.01m0 2h-.01m0 1h.01m0 2h-.01m0 1h.01m0 1h-.01m0 2h.01m0 1h-.01m0 1h.01m0 1h-.01m0 2h.01m0 2h-.01m0 1h.01m0 1h-.01m0 1h.01m0 1h-.01m0 2h.01m0 1h-.01m0 1h.01m0 2h-.01m0 1h.01m0 1h-.01m0 2h.01m0 1h-.01m0 1h.01m0 1h-.01m0 1h.01m0 1h-.01m0 1h.01m0 2h-.01m0 3h.01m0 2h-.01m0 6h.01m0 1h-.01m0 1h.01m0 2h-.01m0 1h.01m0 2h-.01m0 2h.01m0 4h-.01m0 3h.01m0 17h-.01m0 2h.01M536 191h.01m0 7h-.01m0 10h.01m0 8h-.01m0 1h.01m0 3h-.01m0 12h.01m0 1h-.01m0 3h.01m0 2h-.01m0 2h.01m0 7h-.01m0 1h.01m0 2h-.01m0 1h.01m0 2h-.01m0 1h.01m0 1h-.01m0 1h.01m0 2h-.01m0 1h.01m0 1h-.01m0 1h.01m0 1h-.01m0 1h.01m0 2h-.01m0 1h.01m0 2h-.01m0 1h.01m0 1h-.01m0 1h.01m0 2h-.01m0 1h.01m0 1h-.01m0 1h.01m0 1h-.01m0 1h.01m0 2h-.01m0 1h.01m0 1h-.01m0 1h.01m0 1h-.01m0 3h.01m0 1h-.01m0 2h.01m0 4h-.01m0 2h.01m0 1h-.01m0 1h.01m0 11h-.01m0 4h.01m0 3h-.01M537 160h.01m0 42h-.01m0 8h.01m0 5h-.01m0 6h.01m0 4h-.01m0 3h.01m0 3h-.01m0 2h.01m0 6h-.01m0 1h.01m0 1h-.01m0 1h.01m0 2h-.01m0 3h.01m0 1h-.01m0 1h.01m0 1h-.01m0 1h.01m0 2h-.01m0 1h.01m0 1h-.01m0 2h.01m0 1h-.01m0 1h.01m0 1h-.01m0 1h.01m0 1h-.01m0 2h.01m0 3h-.01m0 1h.01m0 1h-.01m0 1h.01m0 1h-.01m0 1h.01m0 4h-.01m0 2h.01m0 1h-.01m0 2h.01m0 1h-.01m0 2h.01m0 4h-.01m0 4h.01m0 1h-.01m0 17h.01m0 14h-.01m0 1h.01m0 17h-.01M538 165h.01m0 31h-.01m0 9h.01m0 15h-.01m0 7h.01m0 1h-.01m0 3h.01m0 4h-.01m0 1h.01m0 4h-.01m0 1h.01m0 2h-.01m0 1h.01m0 1h-.01m0 1h.01m0 1h-.01m0 1h.01m0 2h-.01m0 1h.01m0 1h-.01m0 1h.01m0 1h-.01m0 2h.01m0 1h-.01m0 1h.01m0 1h-.01m0 1h.01m0 1h-.01m0 3h.01m0 2h-.01m0 1h.01m0 1h-.01m0 2h.01m0 1h-.01m0 1h.01m0 3h-.01m0 1h.01m0 1h-.01m0 1h.01m0 7h-.01m0 1h.01m0 4h-.01m0 1h.01m0 6h-.01m0 1h.01m0 13h-.01m0 29h.01M539 205h.01m0 11h-.01m0 1h.01m0 8h-.01m0 3h.01m0 1h-.01m0 4h.01m0 6h-.01m0 1h.01m0 1h-.01m0 2h.01m0 2h-.01m0 1h.01m0 2h-.01m0 1h.01m0 1h-.01m0 1h.01m0 2h-.01m0 1h.01m0 1h-.01m0 1h.01m0 1h-.01m0 1h.01m0 1h-.01m0 1h.01m0 2h-.01m0 1h.01m0 1h-.01m0 1h.01m0 1h-.01m0 2h.01m0 1h-.01m0 1h.01m0 1h-.01m0 1h.01m0 1h-.01m0 1h.01m0 2h-.01m0 2h.01m0 1h-.01m0 3h.01m0 1h-.01m0 2h.01m0 4h-.01m0 7h.01m0 1h-.01m0 8h.01m0 39h-.01M540 176h.01m0 17h-.01m0 9h.01m0 8h-.01m0 6h.01m0 2h-.01m0 17h.01m0 4h-.01m0 2h.01m0 1h-.01m0 1h.01m0 2h-.01m0 1h.01m0 1h-.01m0 1h.01m0 3h-.01m0 1h.01m0 1h-.01m0 1h.01m0 1h-.01m0 2h.01m0 1h-.01m0 1h.01m0 1h-.01m0 1h.01m0 1h-.01m0 1h.01m0 1h-.01m0 1h.01m0 1h-.01m0 1h.01m0 2h-.01m0 1h.01m0 1h-.01m0 1h.01m0 2h-.01m0 2h.01m0 2h-.01m0 1h.01m0 2h-.01m0 1h.01m0 1h-.01m0 1h.01m0 2h-.01m0 1h.01m0 10h-.01m0 2h.01m0 3h-.01m0 3h.01m0 2h-.01m0 2h.01m0 1h-.01m0 2h.01m0 7h-.01M541 158h.01m0 2h-.01m0 28h.01m0 4h-.01m0 5h.01m0 23h-.01m0 1h.01m0 6h-.01m0 2h.01m0 4h-.01m0 1h.01m0 1h-.01m0 2h.01m0 2h-.01m0 3h.01m0 2h-.01m0 1h.01m0 1h-.01m0 2h.01m0 1h-.01m0 1h.01m0 1h-.01m0 2h.01m0 1h-.01m0 1h.01m0 1h-.01m0 1h.01m0 1h-.01m0 1h.01m0 1h-.01m0 1h.01m0 1h-.01m0 1h.01m0 1h-.01m0 1h.01m0 1h-.01m0 1h.01m0 1h-.01m0 2h.01m0 2h-.01m0 2h.01m0 1h-.01m0 1h.01m0 1h-.01m0 1h.01m0 4h-.01m0 2h.01m0 1h-.01m0 2h.01m0 3h-.01m0 1h.01m0 1h-.01m0 10h.01m0 3h-.01m0 13h.01m0 3h-.01m0 67h.01M542 181h.01m0 21h-.01m0 13h.01m0 1h-.01m0 6h.01m0 1h-.01m0 4h.01m0 2h-.01m0 3h.01m0 3h-.01m0 1h.01m0 1h-.01m0 1h.01m0 1h-.01m0 1h.01m0 1h-.01m0 1h.01m0 1h-.01m0 1h.01m0 2h-.01m0 2h.01m0 1h-.01m0 1h.01m0 2h-.01m0 1h.01m0 1h-.01m0 1h.01m0 1h-.01m0 1h.01m0 1h-.01m0 2h.01m0 1h-.01m0 2h.01m0 3h-.01m0 1h.01m0 1h-.01m0 1h.01m0 1h-.01m0 2h.01m0 1h-.01m0 1h.01m0 1h-.01m0 1h.01m0 2h-.01m0 3h.01m0 2h-.01m0 3h.01m0 1h-.01m0 1h.01m0 1h-.01m0 14h.01m0 14h-.01M543 214h.01m0 6h-.01m0 1h.01m0 1h-.01m0 3h.01m0 1h-.01m0 1h.01m0 1h-.01m0 1h.01m0 2h-.01m0 1h.01m0 4h-.01m0 1h.01m0 1h-.01m0 6h.01m0 2h-.01m0 1h.01m0 1h-.01m0 1h.01m0 2h-.01m0 1h.01m0 2h-.01m0 1h.01m0 3h-.01m0 1h.01m0 1h-.01m0 1h.01m0 2h-.01m0 1h.01m0 2h-.01m0 2h.01m0 2h-.01m0 1h.01m0 1h-.01m0 1h.01m0 1h-.01m0 1h.01m0 1h-.01m0 1h.01m0 3h-.01m0 2h.01m0 1h-.01m0 1h.01m0 1h-.01m0 2h.01m0 1h-.01m0 3h.01m0 1h-.01m0 3h.01m0 2h-.01m0 5h.01m0 7h-.01m0 29h.01M544 190h.01m0 2h-.01m0 22h.01m0 2h-.01m0 2h.01m0 4h-.01m0 1h.01m0 3h-.01m0 2h.01m0 2h-.01m0 2h.01m0 1h-.01m0 1h.01m0 2h-.01m0 4h.01m0 2h-.01m0 1h.01m0 1h-.01m0 1h.01m0 2h-.01m0 1h.01m0 1h-.01m0 3h.01m0 1h-.01m0 2h.01m0 1h-.01m0 1h.01m0 1h-.01m0 1h.01m0 1h-.01m0 1h.01m0 5h-.01m0 1h.01m0 1h-.01m0 2h.01m0 1h-.01m0 1h.01m0 5h-.01m0 3h.01m0 4h-.01m0 2h.01m0 3h-.01m0 3h.01m0 3h-.01m0 68h.01M545 129h.01m0 68h-.01m0 9h.01m0 6h-.01m0 6h.01m0 9h-.01m0 3h.01m0 5h-.01m0 1h.01m0 4h-.01m0 1h.01m0 1h-.01m0 2h.01m0 2h-.01m0 1h.01m0 1h-.01m0 2h.01m0 3h-.01m0 3h.01m0 1h-.01m0 1h.01m0 1h-.01m0 1h.01m0 1h-.01m0 1h.01m0 1h-.01m0 2h.01m0 1h-.01m0 3h.01m0 5h-.01m0 2h.01m0 1h-.01m0 1h.01m0 2h-.01m0 1h.01m0 2h-.01m0 2h.01m0 3h-.01m0 2h.01m0 8h-.01m0 1h.01m0 1h-.01M546 76h.01m0 124h-.01m0 11h.01m0 2h-.01m0 9h.01m0 2h-.01m0 2h.01m0 1h-.01m0 3h.01m0 1h-.01m0 1h.01m0 1h-.01m0 4h.01m0 1h-.01m0 1h.01m0 1h-.01m0 1h.01m0 1h-.01m0 2h.01m0 2h-.01m0 2h.01m0 1h-.01m0 1h.01m0 1h-.01m0 1h.01m0 1h-.01m0 1h.01m0 2h-.01m0 1h.01m0 1h-.01m0 1h.01m0 1h-.01m0 2h.01m0 2h-.01m0 1h.01m0 1h-.01m0 2h.01m0 2h-.01m0 1h.01m0 1h-.01m0 1h.01m0 1h-.01m0 1h.01m0 2h-.01m0 8h.01m0 1h-.01m0 4h.01m0 2h-.01m0 11h.01m0 17h-.01m0 81h.01M547 153h.01m0 14h-.01m0 30h.01m0 4h-.01m0 10h.01m0 6h-.01m0 1h.01m0 7h-.01m0 1h.01m0 2h-.01m0 6h.01m0 1h-.01m0 1h.01m0 2h-.01m0 4h.01m0 2h-.01m0 2h.01m0 1h-.01m0 1h.01m0 1h-.01m0 1h.01m0 1h-.01m0 1h.01m0 1h-.01m0 1h.01m0 1h-.01m0 1h.01m0 1h-.01m0 1h.01m0 2h-.01m0 2h.01m0 4h-.01m0 1h.01m0 2h-.01m0 1h.01m0 1h-.01m0 1h.01m0 1h-.01m0 1h.01m0 2h-.01m0 1h.01m0 1h-.01m0 1h.01m0 1h-.01m0 3h.01m0 4h-.01m0 3h.01m0 5h-.01m0 5h.01m0 3h-.01m0 17h.01M548 215h.01m0 2h-.01m0 6h.01m0 1h-.01m0 1h.01m0 1h-.01m0 2h.01m0 2h-.01m0 3h.01m0 2h-.01m0 1h.01m0 1h-.01m0 3h.01m0 1h-.01m0 1h.01m0 3h-.01m0 1h.01m0 1h-.01m0 1h.01m0 1h-.01m0 1h.01m0 1h-.01m0 3h.01m0 2h-.01m0 1h.01m0 1h-.01m0 2h.01m0 1h-.01m0 1h.01m0 1h-.01m0 1h.01m0 1h-.01m0 1h.01m0 1h-.01m0 1h.01m0 1h-.01m0 1h.01m0 1h-.01m0 1h.01m0 1h-.01m0 2h.01m0 3h-.01m0 1h.01m0 1h-.01m0 1h.01m0 5h-.01m0 7h.01m0 3h-.01m0 41h.01M549 156h.01m0 34h-.01m0 8h.01m0 6h-.01m0 1h.01m0 8h-.01m0 2h.01m0 4h-.01m0 2h.01m0 2h-.01m0 2h.01m0 7h-.01m0 2h.01m0 1h-.01m0 1h.01m0 1h-.01m0 3h.01m0 3h-.01m0 1h.01m0 2h-.01m0 1h.01m0 2h-.01m0 2h.01m0 4h-.01m0 1h.01m0 1h-.01m0 1h.01m0 2h-.01m0 2h.01m0 3h-.01m0 1h.01m0 1h-.01m0 1h.01m0 2h-.01m0 1h.01m0 1h-.01m0 2h.01m0 1h-.01m0 1h.01m0 2h-.01m0 2h.01m0 1h-.01m0 2h.01m0 4h-.01m0 7h.01m0 3h-.01m0 45h.01M550 187h.01m0 4h-.01m0 1h.01m0 2h-.01m0 16h.01m0 8h-.01m0 4h.01m0 2h-.01m0 2h.01m0 1h-.01m0 2h.01m0 2h-.01m0 1h.01m0 1h-.01m0 1h.01m0 1h-.01m0 1h.01m0 1h-.01m0 2h.01m0 1h-.01m0 1h.01m0 1h-.01m0 1h.01m0 1h-.01m0 1h.01m0 1h-.01m0 2h.01m0 1h-.01m0 1h.01m0 1h-.01m0 1h.01m0 1h-.01m0 3h.01m0 2h-.01m0 1h.01m0 1h-.01m0 1h.01m0 1h-.01m0 2h.01m0 1h-.01m0 1h.01m0 2h-.01m0 10h.01m0 1h-.01m0 12h.01m0 28h-.01M551 178h.01m0 31h-.01m0 9h.01m0 1h-.01m0 1h.01m0 3h-.01m0 1h.01m0 5h-.01m0 2h.01m0 3h-.01m0 2h.01m0 1h-.01m0 3h.01m0 1h-.01m0 3h.01m0 1h-.01m0 1h.01m0 2h-.01m0 2h.01m0 1h-.01m0 1h.01m0 2h-.01m0 1h.01m0 1h-.01m0 1h.01m0 1h-.01m0 1h.01m0 1h-.01m0 1h.01m0 1h-.01m0 1h.01m0 1h-.01m0 1h.01m0 1h-.01m0 2h.01m0 1h-.01m0 4h.01m0 1h-.01m0 1h.01m0 1h-.01m0 1h.01m0 1h-.01m0 9h.01m0 1h-.01m0 1h.01m0 7h-.01m0 1h.01m0 8h-.01m0 82h.01M552 174h.01m0 16h-.01m0 14h.01m0 11h-.01m0 1h.01m0 3h-.01m0 1h.01m0 1h-.01m0 1h.01m0 4h-.01m0 2h.01m0 1h-.01m0 2h.01m0 1h-.01m0 2h.01m0 2h-.01m0 1h.01m0 1h-.01m0 1h.01m0 1h-.01m0 1h.01m0 2h-.01m0 1h.01m0 2h-.01m0 2h.01m0 1h-.01m0 1h.01m0 3h-.01m0 1h.01m0 4h-.01m0 1h.01m0 2h-.01m0 1h.01m0 1h-.01m0 3h.01m0 2h-.01m0 1h.01m0 1h-.01m0 2h.01m0 6h-.01m0 3h.01m0 1h-.01m0 10h.01m0 3h-.01m0 9h.01m0 10h-.01m0 54h.01M553 170h.01m0 24h-.01m0 11h.01m0 6h-.01m0 5h.01m0 6h-.01m0 10h.01m0 1h-.01m0 3h.01m0 2h-.01m0 2h.01m0 1h-.01m0 1h.01m0 2h-.01m0 1h.01m0 1h-.01m0 6h.01m0 3h-.01m0 4h.01m0 5h-.01m0 2h.01m0 3h-.01m0 1h.01m0 3h-.01m0 5h.01m0 8h-.01"/>
<path id="L2" d="M328 219h.01m0 3h-.01m0 3h.01m0 3h-.01m0 4h.01m0 6h-.01m0 2h.01m0 9h-.01m0 1h.01m0 2h-.01m0 4h.01m0 5h-.01m0 11h.01m0 24h-.01M329 217h.01m0 4h-.01m0 16h.01m0 1h-.01m0 3h.01m0 3h-.01m0 3h.01m0 1h-.01m0 2h.01m0 1h-.01m0 1h.01m0 6h-.01m0 1h.01m0 3h-.01m0 16h.01M330 229h.01m0 2h-.01m0 10h.01m0 1h-.01m0 4h.01m0 7h-.01m0 1h.01m0 2h-.01m0 2h.01m0 3h-.01m0 1h.01m0 4h-.01m0 1h.01m0 3h-.01M331 196h.01m0 24h-.01m0 6h.01m0 1h-.01m0 5h.01m0 1h-.01m0 3h.01m0 1h-.01m0 7h.01m0 1h-.01m0 1h.01m0 8h-.01m0 2h.01m0 3h-.01m0 1h.01m0 2h-.01m0 5h.01m0 12h-.01M332 221h.01m0 6h-.01m0 3h.01m0 2h-.01m0 1h.01m0 1h-.01m0 1h.01m0 3h-.01m0 1h.01m0 2h-.01m0 4h.01m0 5h-.01m0 1h.01m0 4h-.01m0 1h.01m0 29h-.01m0 9h.01M333 218h.01m0 3h-.01m0 4h.01m0 3h-.01m0 3h.01m0 1h-.01m0 5h.01m0 10h-.01m0 2h.01m0 2h-.01m0 2h.01m0 6h-.01m0 8h.01m0 2h-.01m0 3h.01m0 10h-.01m0 4h.01M334 206h.01m0 15h-.01m0 2h.01m0 2h-.01m0 3h.01m0 5h-.01m0 1h.01m0 2h-.01m0 6h.01m0 2h-.01m0 1h.01m0 1h-.01m0 1h.01m0 3h-.01m0 1h.01m0 5h-.01m0 15h.01m0 68h-.01M335 205h.01m0 6h-.01m0 10h.01m0 1h-.01m0 1h.01m0 5h-.01m0 1h.01m0 3h-.01m0 1h.01m0 2h-.01m0 1h.01m0 4h-.01m0 1h.01m0 2h-.01m0 5h.01m0 4h-.01m0 1h.01m0 2h-.01m0 1h.01m0 5h-.01m0 6h.01m0 2h-.01M336 210h.01m0 5h-.01m0 9h.01m0 1h-.01m0 4h.01m0 7h-.01m0 2h.01m0 7h-.01m0 1h.01m0 1h-.01m0 1h.01m0 10h-.01m0 9h.01m0 15h-.01M337 218h.01m0 3h-.01m0 4h.01m0 1h-.01m0 1h.01m0 4h-.01m0 2h.01m0 3h-.01m0 2h.01m0 4h-.01m0 3h.01m0 7h-.01m0 2h.01m0 10h-.01M338 197h.01m0 8h-.01m0 14h.01m0 5h-.01m0 4h.01m0 1h-.01m0 1h.01m0 7h-.01m0 2h.01m0 1h-.01m0 2h.01m0 2h-.01m0 2h.01m0 1h-.01m0 2h.01m0 2h-.01m0 11h.01m0 3h-.01M339 206h.01m0 7h-.01m0 1h.01m0 3h-.01m0 2h.01m0 3h-.01m0 2h.01m0 3h-.01m0 9h.01m0 1h-.01m0 4h.01m0 1h-.01m0 1h.01m0 3h-.01m0 4h.01m0 5h-.01m0 1h.01m0 26h-.01M340 208h.01m0 5h-.01m0 4h.01m0 3h-.01m0 1h.01m0 6h-.01m0 3h.01m0 1h-.01m0 2h.01m0 2h-.01m0 2h.01m0 1h-.01m0 4h.01m0 4h-.01m0 5h.01m0 4h-.01m0 4h.01m0 7h-.01M341 206h.01m0 5h-.01m0 3h.01m0 1h-.01m0 1h.01m0 8h-.01m0 9h.01m0 2h-.01m0 2h.01m0 3h-.01m0 5h.01m0 3h-.01m0 1h.01m0 10h-.01m0 12h.01M342 199h.01m0 1h-.01m0 9h.01m0 8h-.01m0 4h.01m0 6h-.01m0 1h.01m0 1h-.01m0 1h.01m0 2h-.01m0 2h.01m0 1h-.01m0 8h.01m0 3h-.01m0 2h.01m0 5h-.01m0 3h.01m0 12h-.01M343 208h.01m0 6h-.01m0 2h.01m0 1h-.01m0 2h.01m0 3h-.01m0 1h.01m0 1h-.01m0 2h.01m0 2h-.01m0 1h.01m0 3h-.01m0 1h.01m0 1h-.01m0 1h.01m0 1h-.01m0 4h.01m0 2h-.01m0 1h.01m0 13h-.01m0 1h.01M344 196h.01m0 16h-.01m0 12h.01m0 1h-.01m0 2h.01m0 1h-.01m0 3h.01m0 1h-.01m0 1h.01m0 3h-.01m0 1h.01m0 12h-.01m0 1h.01m0 1h-.01m0 4h.01m0 21h-.01M345 190h.01m0 2h-.01m0 27h.01m0 4h-.01m0 2h.01m0 9h-.01m0 1h.01m0 1h-.01m0 1h.01m0 2h-.01m0 5h.01m0 1h-.01m0 2h.01m0 3h-.01m0 1h.01m0 4h-.01M346 158h.01m0 33h-.01m0 5h.01m0 9h-.01m0 3h.01m0 4h-.01m0 7h.01m0 1h-.01m0 3h.01m0 3h-.01m0 4h.01m0 3h-.01m0 1h.01m0 4h-.01m0 6h.01m0 1h-.01m0 21h.01m0 22h-.01M347 208h.01m0 5h-.01m0 1h.01m0 3h-.01m0 1h.01m0 2h-.01m0 2h.01m0 2h-.01m0 1h.01m0 1h-.01m0 1h.01m0 6h-.01m0 1h.01m0 3h-.01m0 3h.01m0 2h-.01m0 5h.01m0 5h-.01M348 204h.01m0 2h-.01m0 5h.01m0 5h-.01m0 2h.01m0 1h-.01m0 5h.01m0 1h-.01m0 1h.01m0 2h-.01m0 8h.01m0 2h-.01m0 1h.01m0 3h-.01m0 7h.01m0 5h-.01m0 1h.01M349 219h.01m0 1h-.01m0 4h.01m0 2h-.01m0 1h.01m0 2h-.01m0 3h.01m0 2h-.01m0 2h.01m0 1h-.01m0 1h.01m0 1h-.01m0 2h.01m0 1h-.01m0 3h.01m0 12h-.01M350 200h.01m0 5h-.01m0 5h.01m0 4h-.01m0 4h.01m0 2h-.01m0 2h.01m0 4h-.01m0 1h.01m0 4h-.01m0 2h.01m0 2h-.01m0 2h.01m0 1h-.01m0 1h.01m0 7h-.01m0 2h.01m0 14h-.01M351 195h.01m0 7h-.01m0 3h.01m0 10h-.01m0 4h.01m0 3h-.01m0 8h.01m0 6h-.01m0 3h.01m0 1h-.01m0 1h.01m0 6h-.01m0 1h.01m0 7h-.01m0 15h.01M352 171h.01m0 23h-.01m0 2h.01m0 5h-.01m0 8h.01m0 3h-.01m0 1h.01m0 1h-.01m0 4h.01m0 2h-.01m0 1h.01m0 6h-.01m0 8h.01m0 1h-.01m0 3h.01m0 9h-.01m0 1h.01m0 2h-.01m0 5h.01m0 1h-.01M353 195h.01m0 5h-.01m0 5h.01m0 6h-.01m0 9h.01m0 1h-.01m0 2h.01m0 2h-.01m0 1h.01m0 2h-.01m0 4h.01m0 3h-.01m0 4h.01m0 1h-.01m0 1h.01M354 191h.01m0 2h-.01m0 5h.01m0 7h-.01m0 2h.01m0 1h-.01m0 8h.01m0 1h-.01m0 3h.01m0 2h-.01m0 5h.01m0 3h-.01m0 1h.01m0 1h-.01m0 1h.01m0 7h-.01m0 2h.01m0 5h-.01M355 207h.01m0 3h-.01m0 2h.01m0 6h-.01m0 1h.01m0 2h-.01m0 3h.01m0 4h-.01m0 2h.01m0 3h-.01m0 1h.01m0 5h-.01m0 7h.01m0 8h-.01M356 195h.01m0 5h-.01m0 1h.01m0 2h-.01m0 3h.01m0 2h-.01m0 5h.01m0 2h-.01m0 1h.01m0 2h-.01m0 7h.01m0 6h-.01m0 3h.01m0 7h-.01m0 3h.01m0 3h-.01m0 2h.01m0 3h-.01m0 13h.01M357 185h.01m0 12h-.01m0 8h.01m0 5h-.01m0 3h.01m0 2h-.01m0 1h.01m0 2h-.01m0 1h.01m0 2h-.01m0 1h.01m0 1h-.01m0 1h.01m0 3h-.01m0 3h.01m0 1h-.01m0 6h.01m0 1h-.01m0 21h.01M358 203h.01m0 3h-.01m0 4h.01m0 4h-.01m0 1h.01m0 1h-.01m0 1h.01m0 5h-.01m0 8h.01m0 3h-.01m0 4h.01m0 2h-.01m0 5h.01m0 1h-.01m0 13h.01M359 188h.01m0 1h-.01m0 3h.01m0 11h-.01m0 1h.01m0 2h-.01m0 3h.01m0 5h-.01m0 1h.01m0 2h-.01m0 1h.01m0 1h-.01m0 3h.01m0 1h-.01m0 8h.01m0 5h-.01m0 11h.01m0 3h-.01m0 11h.01m0 2h-.01M360 203h.01m0 7h-.01m0 4h.01m0 1h-.01m0 1h.01m0 2h-.01m0 2h.01m0 1h-.01m0 1h.01m0 12h-.01m0 8h.01m0 8h-.01M361 184h.01m0 8h-.01m0 6h.01m0 6h-.01m0 6h.01m0 2h-.01m0 2h.01m0 5h-.01m0 1h.01m0 3h-.01m0 2h.01m0 3h-.01m0 5h.01m0 3h-.01m0 5h.01M362 206h.01m0 4h-.01m0 4h.01m0 3h-.01m0 3h.01m0 2h-.01m0 7h.01m0 1h-.01m0 7h.01m0 3h-.01m0 8h.01m0 4h-.01m0 4h.01m0 1h-.01M363 166h.01m0 23h-.01m0 8h.01m0 8h-.01m0 6h.01m0 3h-.01m0 2h.01m0 1h-.01m0 1h.01m0 4h-.01m0 3h.01m0 2h-.01m0 4h.01m0 3h-.01m0 4h.01m0 2h-.01m0 3h.01m0 3h-.01m0 8h.01m0 12h-.01M364 191h.01m0 1h-.01m0 9h.01m0 2h-.01m0 3h.01m0 4h-.01m0 2h.01m0 6h-.01m0 1h.01m0 2h-.01m0 1h.01m0 1h-.01m0 5h.01m0 4h-.01m0 8h.01m0 3h-.01m0 2h.01m0 15h-.01M365 200h.01m0 1h-.01m0 2h.01m0 2h-.01m0 1h.01m0 6h-.01m0 4h.01m0 3h-.01m0 3h.01m0 5h-.01m0 1h.01m0 3h-.01m0 1h.01m0 1h-.01m0 8h.01m0 4h-.01M366 198h.01m0 1h-.01m0 7h.01m0 1h-.01m0 3h.01m0 2h-.01m0 4h.01m0 1h-.01m0 5h.01m0 4h-.01m0 1h.01m0 6h-.01m0 1h.01m0 3h-.01m0 6h.01m0 4h-.01m0 1h.01m0 1h-.01M367 190h.01m0 13h-.01m0 1h.01m0 3h-.01m0 1h.01m0 1h-.01m0 1h.01m0 6h-.01m0 5h.01m0 2h-.01m0 4h.01m0 1h-.01m0 7h.01m0 5h-.01m0 6h.01m0 1h-.01M368 197h.01m0 2h-.01m0 7h.01m0 3h-.01m0 3h.01m0 1h-.01m0 1h.01m0 1h-.01m0 7h.01m0 1h-.01m0 6h.01m0 2h-.01m0 4h.01m0 2h-.01m0 6h.01m0 18h-.01M369 196h.01m0 2h-.01m0 2h.01m0 4h-.01m0 3h.01m0 2h-.01m0 1h.01m0 6h-.01m0 2h.01m0 3h-.01m0 2h.01m0 1h-.01m0 2h.01m0 2h-.01m0 3h.01m0 5h-.01m0 8h.01m0 2h-.01m0 1h.01m0 6h-.01m0 14h.01M370 191h.01m0 3h-.01m0 13h.01m0 2h-.01m0 4h.01m0 1h-.01m0 3h.01m0 5h-.01m0 3h.01m0 2h-.01m0 2h.01m0 10h-.01M371 187h.01m0 13h-.01m0 2h.01m0 1h-.01m0 3h.01m0 4h-.01m0 5h.01m0 1h-.01m0 5h.01m0 1h-.01m0 1h.01m0 1h-.01m0 3h.01m0 1h-.01m0 4h.01m0 2h-.01M372 182h.01m0 19h-.01m0 1h.01m0 1h-.01m0 5h.01m0 2h-.01m0 1h.01m0 2h-.01m0 3h.01m0 1h-.01m0 1h.01m0 2h-.01m0 8h.01m0 3h-.01m0 1h.01m0 6h-.01m0 1h.01m0 2h-.01M373 190h.01m0 3h-.01m0 1h.01m0 3h-.01m0 1h.01m0 3h-.01m0 1h.01m0 2h-.01m0 9h.01m0 2h-.01m0 1h.01m0 3h-.01m0 2h.01m0 2h-.01m0 1h.01m0 2h-.01m0 1h.01m0 1h-.01m0 1h.01m0 2h-.01m0 1h.01m0 2h-.01m0 1h.01m0 3h-.01m0 1h.01m0 9h-.01m0 7h.01M374 192h.01m0 5h-.01m0 5h.01m0 1h-.01m0 2h.01m0 1h-.01m0 2h.01m0 3h-.01m0 4h.01m0 1h-.01m0 1h.01m0 2h-.01m0 1h.01m0 1h-.01m0 4h.01m0 1h-.01m0 2h.01m0 1h-.01m0 3h.01m0 7h-.01m0 1h.01m0 10h-.01m0 1h.01m0 3h-.01M375 168h.01m0 22h-.01m0 2h.01m0 3h-.01m0 1h.01m0 7h-.01m0 2h.01m0 7h-.01m0 6h.01m0 6h-.01m0 3h.01m0 4h-.01m0 23h.01M376 189h.01m0 8h-.01m0 2h.01m0 10h-.01m0 1h.01m0 4h-.01m0 1h.01m0 1h-.01m0 1h.01m0 1h-.01m0 1h.01m0 1h-.01m0 2h.01m0 1h-.01m0 5h.01m0 1h-.01m0 1h.01m0 7h-.01m0 7h.01M377 182h.01m0 9h-.01m0 15h.01m0 6h-.01m0 2h.01m0 1h-.01m0 1h.01m0 1h-.01m0 8h.01m0 1h-.01m0 1h.01m0 5h-.01m0 4h.01m0 4h-.01m0 16h.01M378 175h.01m0 14h-.01m0 4h.01m0 2h-.01m0 1h.01m0 2h-.01m0 8h.01m0 3h-.01m0 1h.01m0 3h-.01m0 1h.01m0 2h-.01m0 3h.01m0 1h-.01m0 4h.01m0 8h-.01M379 190h.01m0 8h-.01m0 2h.01m0 6h-.01m0 8h.01m0 5h-.01m0 5h.01m0 1h-.01m0 4h.01m0 1h-.01m0 1h.01m0 5h-.01m0 4h.01M380 185h.01m0 4h-.01m0 3h.01m0 19h-.01m0 3h.01m0 1h-.01m0 4h.01m0 1h-.01m0 1h.01m0 1h-.01m0 3h.01m0 2h-.01m0 2h.01m0 5h-.01m0 2h.01m0 2h-.01m0 4h.01M381 189h.01m0 6h-.01m0 6h.01m0 6h-.01m0 5h.01m0 1h-.01m0 1h.01m0 1h-.01m0 1h.01m0 1h-.01m0 2h.01m0 3h-.01m0 1h.01m0 4h-.01m0 2h.01m0 12h-.01m0 3h.01m0 6h-.01M382 173h.01m0 17h-.01m0 11h.01m0 6h-.01m0 2h.01m0 1h-.01m0 2h.01m0 1h-.01m0 11h.01m0 5h-.01m0 7h.01m0 1h-.01m0 1h.01m0 9h-.01m0 2h.01M383 172h.01m0 1h-.01m0 18h.01m0 4h-.01m0 3h.01m0 2h-.01m0 3h.01m0 3h-.01m0 3h.01m0 1h-.01m0 4h.01m0 1h-.01m0 2h.01m0 1h-.01m0 3h.01m0 1h-.01m0 1h.01m0 1h-.01m0 1h.01m0 2h-.01m0 2h.01m0 6h-.01m0 1h.01m0 6h-.01m0 5h.01m0 12h-.01M384 161h.01m0 37h-.01m0 2h.01m0 1h-.01m0 1h.01m0 5h-.01m0 3h.01m0 1h-.01m0 1h.01m0 1h-.01m0 9h.01m0 5h-.01m0 3h.01m0 3h-.01m0 1h.01m0 4h-.01m0 3h.01M385 194h.01m0 2h-.01m0 1h.01m0 3h-.01m0 3h.01m0 3h-.01m0 4h.01m0 3h-.01m0 2h.01m0 2h-.01m0 2h.01m0 1h-.01m0 4h.01m0 6h-.01m0 2h.01m0 2h-.01m0 8h.01m0 1h-.01m0 10h.01M386 189h.01m0 6h-.01m0 1h.01m0 2h-.01m0 4h.01m0 4h-.01m0 8h.01m0 1h-.01m0 1h.01m0 4h-.01m0 2h.01m0 3h-.01m0 1h.01m0 1h-.01m0 2h.01m0 2h-.01M387 201h.01m0 1h-.01m0 2h.01m0 5h-.01m0 4h.01m0 1h-.01m0 1h.01m0 1h-.01m0 1h.01m0 1h-.01m0 1h.01m0 1h-.01m0 1h.01m0 1h-.01m0 4h.01m0 2h-.01m0 1h.01m0 1h-.01m0 10h.01m0 3h-.01M388 170h.01m0 22h-.01m0 10h.01m0 2h-.01m0 1h.01m0 1h-.01m0 1h.01m0 3h-.01m0 3h.01m0 1h-.01m0 3h.01m0 1h-.01m0 1h.01m0 1h-.01m0 4h.01m0 2h-.01m0 4h.01m0 2h-.01m0 1h.01m0 4h-.01m0 1h.01M389 176h.01m0 19h-.01m0 1h.01m0 3h-.01m0 1h.01m0 7h-.01m0 4h.01m0 4h-.01m0 15h.01m0 6h-.01m0 5h.01m0 12h-.01M390 186h.01m0 4h-.01m0 5h.01m0 7h-.01m0 4h.01m0 1h-.01m0 1h.01m0 1h-.01m0 3h.01m0 2h-.01m0 5h.01m0 6h-.01m0 2h.01m0 1h-.01m0 4h.01M391 188h.01m0 12h-.01m0 3h.01m0 4h-.01m0 1h.01m0 1h-.01m0 4h.01m0 9h-.01m0 8h.01m0 11h-.01m0 12h.01m0 1h-.01m0 1h.01M392 190h.01m0 3h-.01m0 6h.01m0 9h-.01m0 5h.01m0 1h-.01m0 2h.01m0 2h-.01m0 1h.01m0 6h-.01m0 3h.01m0 1h-.01m0 13h.01m0 16h-.01M393 170h.01m0 4h-.01m0 18h.01m0 4h-.01m0 1h.01m0 1h-.01m0 5h.01m0 1h-.01m0 6h.01m0 1h-.01m0 1h.01m0 4h-.01m0 1h.01m0 2h-.01m0 3h.01m0 3h-.01m0 1h.01m0 2h-.01m0 8h.01m0 5h-.01m0 1h.01m0 1h-.01m0 1h.01M394 186h.01m0 1h-.01m0 2h.01m0 1h-.01m0 6h.01m0 2h-.01m0 1h.01m0 6h-.01m0 1h.01m0 2h-.01m0 1h.01m0 6h-.01m0 1h.01m0 2h-.01m0 1h.01m0 1h-.01m0 4h.01m0 2h-.01m0 11h.01m0 4h-.01M395 199h.01m0 3h-.01m0 4h.01m0 5h-.01m0 1h.01m0 5h-.01m0 1h.01m0 3h-.01m0 3h.01m0 4h-.01m0 2h.01m0 2h-.01m0 1h.01m0 6h-.01m0 1h.01m0 3h-.01m0 7h.01M396 174h.01m0 13h-.01m0 2h.01m0 3h-.01m0 3h.01m0 4h-.01m0 3h.01m0 1h-.01m0 2h.01m0 3h-.01m0 1h.01m0 5h-.01m0 8h.01m0 6h-.01m0 31h.01M397 195h.01m0 5h-.01m0 2h.01m0 2h-.01m0 1h.01m0 7h-.01m0 1h.01m0 5h-.01m0 1h.01m0 3h-.01m0 1h.01m0 1h-.01m0 1h.01m0 4h-.01m0 8h.01m0 1h-.01m0 2h.01M398 187h.01m0 8h-.01m0 6h.01m0 1h-.01m0 7h.01m0 1h-.01m0 1h.01m0 1h-.01m0 4h.01m0 1h-.01m0 2h.01m0 2h-.01m0 1h.01m0 9h-.01m0 1h.01m0 4h-.01m0 4h.01m0 3h-.01m0 9h.01m0 1h-.01M399 189h.01m0 3h-.01m0 2h.01m0 6h-.01m0 2h.01m0 1h-.01m0 3h.01m0 2h-.01m0 2h.01m0 1h-.01m0 1h.01m0 6h-.01m0 4h.01m0 9h-.01m0 18h.01m0 8h-.01M400 187h.01m0 3h-.01m0 6h.01m0 3h-.01m0 8h.01m0 1h-.01m0 2h.01m0 5h-.01m0 1h.01m0 3h-.01m0 3h.01m0 8h-.01m0 1h.01m0 2h-.01m0 9h.01M401 202h.01m0 4h-.01m0 1h.01m0 3h-.01m0 2h.01m0 2h-.01m0 1h.01m0 1h-.01m0 1h.01m0 3h-.01m0 3h.01m0 6h-.01m0 7h.01m0 8h-.01M402 180h.01m0 13h-.01m0 1h.01m0 1h-.01m0 5h.01m0 4h-.01m0 1h.01m0 3h-.01m0 2h.01m0 3h-.01m0 3h.01m0 1h-.01m0 4h.01m0 2h-.01m0 2h.01m0 2h-.01m0 2h.01m0 5h-.01m0 11h.01M403 178h.01m0 14h-.01m0 3h.01m0 5h-.01m0 5h.01m0 3h-.01m0 1h.01m0 1h-.01m0 1h.01m0 1h-.01m0 1h.01m0 1h-.01m0 4h.01m0 2h-.01m0 1h.01m0 2h-.01m0 2h.01m0 7h-.01m0 3h.01m0 2h-.01m0 1h.01m0 4h-.01m0 4h.01M404 171h.01m0 15h-.01m0 2h.01m0 4h-.01m0 6h.01m0 2h-.01m0 2h.01m0 3h-.01m0 4h.01m0 2h-.01m0 3h.01m0 3h-.01m0 4h.01m0 2h-.01m0 1h.01m0 3h-.01m0 2h.01m0 4h-.01m0 1h.01M405 196h.01m0 2h-.01m0 3h.01m0 6h-.01m0 3h.01m0 2h-.01m0 1h.01m0 1h-.01m0 1h.01m0 2h-.01m0 7h.01m0 1h-.01m0 3h.01m0 4h-.01m0 5h.01m0 32h-.01M406 192h.01m0 1h-.01m0 5h.01m0 1h-.01m0 4h.01m0 5h-.01m0 1h.01m0 1h-.01m0 1h.01m0 1h-.01m0 1h.01m0 2h-.01m0 3h.01m0 2h-.01m0 1h.01m0 3h-.01m0 1h.01m0 1h-.01m0 13h.01m0 9h-.01M407 178h.01m0 17h-.01m0 4h.01m0 5h-.01m0 1h.01m0 3h-.01m0 2h.01m0 5h-.01m0 1h.01m0 2h-.01m0 1h.01m0 6h-.01m0 4h.01m0 2h-.01m0 1h.01m0 4h-.01m0 1h.01m0 16h-.01M408 182h.01m0 8h-.01m0 3h.01m0 4h-.01m0 7h.01m0 1h-.01m0 6h.01m0 4h-.01m0 2h.01m0 1h-.01m0 6h.01m0 3h-.01m0 7h.01m0 9h-.01M409 179h.01m0 9h-.01m0 1h.01m0 5h-.01m0 3h.01m0 2h-.01m0 4h.01m0 4h-.01m0 1h.01m0 3h-.01m0 1h.01m0 2h-.01m0 5h.01m0 3h-.01m0 1h.01m0 2h-.01m0 1h.01m0 4h-.01m0 1h.01m0 1h-.01m0 17h.01M410 199h.01m0 4h-.01m0 3h.01m0 2h-.01m0 1h.01m0 1h-.01m0 1h.01m0 7h-.01m0 3h.01m0 1h-.01m0 2h.01m0 15h-.01m0 3h.01m0 4h-.01m0 17h.01M411 173h.01m0 14h-.01m0 3h.01m0 4h-.01m0 4h.01m0 1h-.01m0 1h.01m0 1h-.01m0 1h.01m0 1h-.01m0 6h.01m0 5h-.01m0 1h.01m0 6h-.01m0 3h.01m0 1h-.01m0 5h.01m0 1h-.01m0 2h.01m0 1h-.01m0 20h.01m0 1h-.01M412 181h.01m0 15h-.01m0 8h.01m0 1h-.01m0 5h.01m0 3h-.01m0 5h.01m0 2h-.01m0 1h.01m0 7h-.01m0 6h.01m0 4h-.01m0 10h.01M413 188h.01m0 5h-.01m0 1h.01m0 4h-.01m0 1h.01m0 10h-.01m0 2h.01m0 3h-.01m0 2h.01m0 1h-.01m0 3h.01m0 1h-.01m0 1h.01m0 8h-.01m0 5h.01m0 8h-.01m0 13h.01m0 6h-.01M414 177h.01m0 9h-.01m0 9h.01m0 3h-.01m0 6h.01m0 1h-.01m0 1h.01m0 1h-.01m0 1h.01m0 5h-.01m0 1h.01m0 1h-.01m0 4h.01m0 1h-.01m0 1h.01m0 1h-.01m0 1h.01m0 4h-.01m0 4h.01m0 2h-.01m0 3h.01m0 3h-.01m0 3h.01m0 2h-.01M415 191h.01m0 3h-.01m0 4h.01m0 6h-.01m0 3h.01m0 1h-.01m0 1h.01m0 2h-.01m0 3h.01m0 2h-.01m0 3h.01m0 3h-.01m0 1h.01m0 4h-.01m0 3h.01m0 3h-.01m0 10h.01M416 179h.01m0 2h-.01m0 5h.01m0 13h-.01m0 2h.01m0 1h-.01m0 10h.01m0 4h-.01m0 2h.01m0 1h-.01m0 5h.01m0 1h-.01m0 1h.01m0 1h-.01m0 1h.01m0 5h-.01M417 184h.01m0 2h-.01m0 9h.01m0 1h-.01m0 3h.01m0 3h-.01m0 3h.01m0 2h-.01m0 8h.01m0 2h-.01m0 2h.01m0 1h-.01m0 3h.01m0 10h-.01m0 1h.01m0 39h-.01M418 168h.01m0 33h-.01m0 2h.01m0 3h-.01m0 3h.01m0 1h-.01m0 2h.01m0 2h-.01m0 4h.01m0 1h-.01m0 2h.01m0 3h-.01m0 3h.01m0 3h-.01m0 1h.01m0 1h-.01m0 1h.01m0 3h-.01m0 17h.01m0 4h-.01M419 193h.01m0 1h-.01m0 1h.01m0 2h-.01m0 2h.01m0 1h-.01m0 1h.01m0 3h-.01m0 2h.01m0 4h-.01m0 2h.01m0 1h-.01m0 5h.01m0 2h-.01m0 4h.01m0 1h-.01m0 2h.01m0 4h-.01m0 7h.01m0 12h-.01m0 4h.01M420 177h.01m0 11h-.01m0 11h.01m0 2h-.01m0 5h.01m0 1h-.01m0 2h.01m0 2h-.01m0 2h.01m0 3h-.01m0 2h.01m0 1h-.01m0 1h.01m0 3h-.01m0 2h.01m0 7h-.01m0 2h.01m0 2h-.01m0 2h.01m0 3h-.01m0 1h.01m0 3h-.01m0 7h.01M421 202h.01m0 1h-.01m0 1h.01m0 1h-.01m0 3h.01m0 7h-.01m0 2h.01m0 1h-.01m0 1h.01m0 2h-.01m0 2h.01m0 4h-.01m0 3h.01m0 13h-.01m0 4h.01m0 6h-.01M422 184h.01m0 6h-.01m0 14h.01m0 1h-.01m0 3h.01m0 1h-.01m0 3h.01m0 1h-.01m0 2h.01m0 2h-.01m0 12h.01m0 6h-.01m0 8h.01m0 6h-.01M423 208h.01m0 2h-.01m0 2h.01m0 11h-.01m0 4h.01m0 2h-.01m0 9h.01m0 13h-.01M424 188h.01m0 12h-.01m0 1h.01m0 2h-.01m0 6h.01m0 1h-.01m0 2h.01m0 3h-.01m0 3h.01m0 1h-.01m0 8h.01m0 1h-.01m0 4h.01m0 4h-.01m0 1h.01m0 1h-.01m0 3h.01m0 10h-.01m0 1h.01m0 4h-.01m0 6h.01M425 183h.01m0 21h-.01m0 3h.01m0 4h-.01m0 3h.01m0 7h-.01m0 3h.01m0 2h-.01m0 4h.01m0 7h-.01m0 1h.01m0 2h-.01m0 8h.01M426 188h.01m0 1h-.01m0 11h.01m0 2h-.01m0 7h.01m0 2h-.01m0 2h.01m0 1h-.01m0 6h.01m0 1h-.01m0 2h.01m0 1h-.01m0 5h.01m0 2h-.01m0 2h.01m0 11h-.01m0 2h.01M427 185h.01m0 6h-.01m0 5h.01m0 10h-.01m0 1h.01m0 7h-.01m0 2h.01m0 1h-.01m0 2h.01m0 2h-.01m0 8h.01m0 8h-.01m0 20h.01M428 195h.01m0 7h-.01m0 2h.01m0 4h-.01m0 2h.01m0 1h-.01m0 1h.01m0 1h-.01m0 1h.01m0 3h-.01m0 3h.01m0 1h-.01m0 1h.01m0 1h-.01m0 2h.01m0 9h-.01m0 1h.01m0 3h-.01m0 3h.01m0 7h-.01m0 2h.01M429 199h.01m0 8h-.01m0 3h.01m0 6h-.01m0 3h.01m0 1h-.01m0 10h.01m0 1h-.01m0 2h.01m0 2h-.01m0 6h.01m0 2h-.01M430 194h.01m0 2h-.01m0 15h.01m0 1h-.01m0 3h.01m0 6h-.01m0 1h.01m0 4h-.01m0 4h.01m0 1h-.01m0 1h.01m0 2h-.01m0 1h.01m0 7h-.01m0 9h.01M431 180h.01m0 22h-.01m0 7h.01m0 5h-.01m0 2h.01m0 1h-.01m0 2h.01m0 2h-.01m0 1h.01m0 6h-.01m0 1h.01m0 1h-.01m0 2h.01m0 2h-.01m0 4h.01m0 8h-.01M432 173h.01m0 24h-.01m0 2h.01m0 1h-.01m0 1h.01m0 2h-.01m0 13h.01m0 1h-.01m0 4h.01m0 1h-.01m0 2h.01m0 1h-.01m0 3h.01m0 1h-.01m0 4h.01m0 1h-.01m0 1h.01m0 9h-.01m0 8h.01m0 27h-.01M433 195h.01m0 4h-.01m0 3h.01m0 2h-.01m0 5h.01m0 2h-.01m0 4h.01m0 1h-.01m0 2h.01m0 1h-.01m0 2h.01m0 1h-.01m0 1h.01m0 1h-.01m0 1h.01m0 6h-.01m0 1h.01m0 2h-.01m0 9h.01m0 3h-.01m0 3h.01M434 197h.01m0 9h-.01m0 3h.01m0 5h-.01m0 5h.01m0 3h-.01m0 10h.01m0 1h-.01m0 9h.01m0 1h-.01m0 5h.01M435 169h.01m0 38h-.01m0 10h.01m0 4h-.01m0 1h.01m0 1h-.01m0 5h.01m0 4h-.01m0 5h.01m0 1h-.01m0 4h.01m0 1h-.01m0 5h.01M436 203h.01m0 2h-.01m0 4h.01m0 7h-.01m0 10h.01m0 1h-.01m0 1h.01m0 3h-.01m0 3h.01m0 2h-.01m0 4h.01m0 5h-.01m0 3h.01M437 198h.01m0 3h-.01m0 6h.01m0 3h-.01m0 6h.01m0 3h-.01m0 2h.01m0 1h-.01m0 4h.01m0 1h-.01m0 2h.01m0 1h-.01m0 5h.01m0 3h-.01m0 12h.01m0 3h-.01M438 198h.01m0 7h-.01m0 1h.01m0 5h-.01m0 2h.01m0 2h-.01m0 1h.01m0 1h-.01m0 5h.01m0 2h-.01m0 2h.01m0 1h-.01m0 7h.01m0 1h-.01m0 2h.01m0 9h-.01m0 1h.01m0 2h-.01M439 207h.01m0 5h-.01m0 10h.01m0 1h-.01m0 1h.01m0 3h-.01m0 1h.01m0 9h-.01m0 1h.01m0 1h-.01m0 3h.01m0 2h-.01m0 2h.01m0 8h-.01m0 11h.01m0 4h-.01M440 186h.01m0 13h-.01m0 1h.01m0 2h-.01m0 5h.01m0 7h-.01m0 5h.01m0 5h-.01m0 2h.01m0 1h-.01m0 1h.01m0 3h-.01m0 9h.01m0 2h-.01m0 2h.01m0 5h-.01M441 197h.01m0 18h-.01m0 1h.01m0 1h-.01m0 1h.01m0 2h-.01m0 1h.01m0 2h-.01m0 1h.01m0 4h-.01m0 3h.01m0 3h-.01m0 4h.01m0 2h-.01m0 3h.01m0 1h-.01m0 7h.01M442 202h.01m0 6h-.01m0 1h.01m0 1h-.01m0 2h.01m0 6h-.01m0 1h.01m0 4h-.01m0 1h.01m0 3h-.01m0 4h.01m0 1h-.01m0 1h.01m0 1h-.01m0 1h.01m0 1h-.01m0 6h.01m0 2h-.01m0 2h.01m0 2h-.01M443 194h.01m0 13h-.01m0 1h.01m0 10h-.01m0 3h.01m0 2h-.01m0 1h.01m0 8h-.01m0 1h.01m0 1h-.01m0 1h.01m0 4h-.01m0 1h.01m0 2h-.01m0 1h.01m0 2h-.01m0 2h.01m0 11h-.01M444 207h.01m0 8h-.01m0 3h.01m0 5h-.01m0 3h.01m0 4h-.01m0 1h.01m0 2h-.01m0 3h.01m0 8h-.01m0 1h.01m0 3h-.01m0 7h.01m0 4h-.01m0 4h.01m0 1h-.01m0 5h.01M445 208h.01m0 2h-.01m0 2h.01m0 2h-.01m0 3h.01m0 1h-.01m0 1h.01m0 1h-.01m0 1h.01m0 6h-.01m0 1h.01m0 10h-.01m0 2h.01m0 9h-.01m0 2h.01m0 5h-.01m0 3h.01M446 213h.01m0 5h-.01m0 2h.01m0 1h-.01m0 1h.01m0 2h-.01m0 1h.01m0 1h-.01m0 2h.01m0 4h-.01m0 1h.01m0 3h-.01m0 9h.01m0 9h-.01m0 4h.01M447 208h.01m0 2h-.01m0 1h.01m0 11h-.01m0 5h.01m0 2h-.01m0 1h.01m0 2h-.01m0 3h.01m0 1h-.01m0 2h.01m0 1h-.01m0 5h.01m0 1h-.01m0 3h.01m0 1h-.01m0 2h.01m0 7h-.01M448 209h.01m0 4h-.01m0 6h.01m0 2h-.01m0 2h.01m0 1h-.01m0 2h.01m0 2h-.01m0 1h.01m0 1h-.01m0 2h.01m0 1h-.01m0 2h.01m0 3h-.01m0 5h.01m0 5h-.01m0 4h.01m0 1h-.01m0 4h.01m0 13h-.01M449 181h.01m0 20h-.01m0 11h.01m0 9h-.01m0 2h.01m0 1h-.01m0 2h.01m0 2h-.01m0 1h.01m0 5h-.01m0 1h.01m0 2h-.01m0 1h.01m0 1h-.01m0 1h.01m0 2h-.01m0 3h.01m0 1h-.01m0 13h.01m0 6h-.01m0 6h.01M450 206h.01m0 16h-.01m0 4h.01m0 6h-.01m0 2h.01m0 3h-.01m0 9h.01m0 7h-.01m0 4h.01M451 218h.01m0 11h-.01m0 1h.01m0 1h-.01m0 1h.01m0 4h-.01m0 5h.01m0 1h-.01m0 3h.01m0 2h-.01m0 3h.01M452 207h.01m0 2h-.01m0 2h.01m0 3h-.01m0 2h.01m0 11h-.01m0 4h.01m0 4h-.01m0 3h.01m0 2h-.01m0 8h.01m0 4h-.01m0 2h.01m0 7h-.01M453 173h.01m0 36h-.01m0 16h.01m0 2h-.01m0 1h.01m0 1h-.01m0 4h.01m0 6h-.01m0 1h.01m0 3h-.01m0 3h.01m0 1h-.01m0 9h.01m0 4h-.01m0 5h.01M454 209h.01m0 7h-.01m0 1h.01m0 7h-.01m0 11h.01m0 1h-.01m0 7h.01m0 1h-.01m0 2h.01m0 2h-.01m0 1h.01m0 4h-.01m0 1h.01m0 16h-.01m0 16h.01M455 205h.01m0 6h-.01m0 7h.01m0 2h-.01m0 2h.01m0 6h-.01m0 3h.01m0 2h-.01m0 3h.01m0 1h-.01m0 6h.01m0 2h-.01m0 5h.01m0 2h-.01m0 2h.01m0 1h-.01m0 4h.01m0 2h-.01m0 3h.01m0 1h-.01M456 209h.01m0 7h-.01m0 9h.01m0 2h-.01m0 2h.01m0 4h-.01m0 2h.01m0 1h-.01m0 2h.01m0 1h-.01m0 1h.01m0 2h-.01m0 8h.01m0 1h-.01m0 6h.01m0 3h-.01m0 4h.01M457 212h.01m0 19h-.01m0 2h.01m0 2h-.01m0 3h.01m0 1h-.01m0 2h.01m0 1h-.01m0 5h.01m0 2h-.01m0 1h.01m0 1h-.01m0 1h.01m0 8h-.01m0 1h.01m0 6h-.01M458 219h.01m0 2h-.01m0 4h.01m0 4h-.01m0 1h.01m0 5h-.01m0 3h.01m0 12h-.01m0 4h.01m0 1h-.01m0 3h.01m0 10h-.01M459 214h.01m0 1h-.01m0 6h.01m0 2h-.01m0 6h.01m0 2h-.01m0 1h.01m0 5h-.01m0 3h.01m0 9h-.01m0 7h.01m0 3h-.01m0 4h.01M460 216h.01m0 2h-.01m0 4h.01m0 7h-.01m0 7h.01m0 2h-.01m0 1h.01m0 2h-.01m0 2h.01m0 1h-.01m0 1h.01m0 2h-.01m0 5h.01m0 2h-.01m0 2h.01m0 6h-.01M461 207h.01m0 4h-.01m0 13h.01m0 1h-.01m0 5h.01m0 3h-.01m0 7h.01m0 4h-.01m0 3h.01m0 2h-.01m0 1h.01m0 1h-.01m0 4h.01m0 2h-.01m0 1h.01m0 9h-.01m0 2h.01M462 236h.01m0 2h-.01m0 2h.01m0 1h-.01m0 5h.01m0 5h-.01m0 5h.01m0 4h-.01m0 5h.01m0 4h-.01m0 1h.01M463 207h.01m0 16h-.01m0 4h.01m0 1h-.01m0 3h.01m0 7h-.01m0 4h.01m0 1h-.01m0 3h.01m0 6h-.01m0 5h.01m0 4h-.01m0 6h.01m0 1h-.01m0 2h.01m0 3h-.01m0 7h.01M464 223h.01m0 4h-.01m0 2h.01m0 9h-.01m0 2h.01m0 2h-.01m0 2h.01m0 2h-.01m0 1h.01m0 3h-.01m0 1h.01m0 3h-.01m0 1h.01m0 1h-.01m0 1h.01m0 1h-.01m0 1h.01m0 6h-.01m0 3h.01m0 16h-.01M465 214h.01m0 14h-.01m0 5h.01m0 5h-.01m0 1h.01m0 2h-.01m0 1h.01m0 6h-.01m0 2h.01m0 4h-.01m0 1h.01m0 1h-.01m0 3h.01m0 4h-.01m0 2h.01m0 1h-.01m0 4h.01M466 232h.01m0 6h-.01m0 2h.01m0 4h-.01m0 3h.01m0 2h-.01m0 2h.01m0 6h-.01m0 1h.01m0 4h-.01m0 8h.01m0 1h-.01m0 3h.01m0 6h-.01m0 10h.01M467 227h.01m0 19h-.01m0 1h.01m0 1h-.01m0 1h.01m0 1h-.01m0 4h.01m0 1h-.01m0 5h.01m0 4h-.01m0 7h.01M468 227h.01m0 1h-.01m0 1h.01m0 5h-.01m0 3h.01m0 1h-.01m0 2h.01m0 2h-.01m0 3h.01m0 5h-.01m0 1h.01m0 1h-.01m0 1h.01m0 3h-.01m0 3h.01m0 4h-.01m0 2h.01m0 2h-.01m0 7h.01m0 8h-.01M469 227h.01m0 11h-.01m0 1h.01m0 3h-.01m0 2h.01m0 1h-.01m0 1h.01m0 1h-.01m0 1h.01m0 1h-.01m0 2h.01m0 1h-.01m0 2h.01m0 2h-.01m0 2h.01m0 5h-.01m0 1h.01m0 1h-.01m0 5h.01m0 5h-.01m0 4h.01m0 3h-.01m0 5h.01M470 230h.01m0 4h-.01m0 2h.01m0 8h-.01m0 9h.01m0 1h-.01m0 2h.01m0 1h-.01m0 6h.01m0 1h-.01m0 1h.01m0 1h-.01m0 5h.01m0 4h-.01m0 4h.01m0 1h-.01M471 239h.01m0 4h-.01m0 2h.01m0 5h-.01m0 1h.01m0 6h-.01m0 4h.01m0 1h-.01m0 1h.01m0 3h-.01m0 3h.01m0 5h-.01m0 4h.01m0 4h-.01m0 4h.01M472 227h.01m0 1h-.01m0 5h.01m0 6h-.01m0 1h.01m0 3h-.01m0 4h.01m0 2h-.01m0 1h.01m0 1h-.01m0 2h.01m0 2h-.01m0 1h.01m0 1h-.01m0 1h.01m0 2h-.01m0 1h.01m0 1h-.01m0 2h.01m0 3h-.01m0 5h.01m0 1h-.01m0 4h.01M473 226h.01m0 4h-.01m0 1h.01m0 12h-.01m0 4h.01m0 4h-.01m0 1h.01m0 4h-.01m0 1h.01m0 1h-.01m0 1h.01m0 5h-.01m0 1h.01m0 2h-.01m0 1h.01m0 1h-.01m0 4h.01m0 2h-.01m0 3h.01m0 1h-.01m0 20h.01M474 224h.01m0 5h-.01m0 2h.01m0 5h-.01m0 6h.01m0 1h-.01m0 1h.01m0 4h-.01m0 7h.01m0 1h-.01m0 1h.01m0 1h-.01m0 1h.01m0 4h-.01m0 1h.01m0 2h-.01m0 12h.01m0 3h-.01m0 4h.01M475 230h.01m0 2h-.01m0 5h.01m0 2h-.01m0 8h.01m0 1h-.01m0 4h.01m0 1h-.01m0 2h.01m0 2h-.01m0 1h.01m0 3h-.01m0 1h.01m0 1h-.01m0 7h.01m0 7h-.01m0 9h.01m0 2h-.01m0 5h.01M476 192h.01m0 22h-.01m0 21h.01m0 6h-.01m0 1h.01m0 1h-.01m0 2h.01m0 4h-.01m0 5h.01m0 3h-.01m0 1h.01m0 1h-.01m0 6h.01m0 1h-.01m0 1h.01m0 1h-.01m0 1h.01m0 1h-.01m0 5h.01m0 2h-.01m0 1h.01m0 7h-.01m0 38h.01M477 229h.01m0 9h-.01m0 1h.01m0 6h-.01m0 1h.01m0 2h-.01m0 1h.01m0 6h-.01m0 4h.01m0 1h-.01m0 1h.01m0 1h-.01m0 5h.01m0 2h-.01m0 6h.01m0 1h-.01m0 3h.01m0 9h-.01m0 8h.01M478 232h.01m0 15h-.01m0 1h.01m0 1h-.01m0 2h.01m0 1h-.01m0 3h.01m0 4h-.01m0 1h.01m0 2h-.01m0 1h.01m0 1h-.01m0 2h.01m0 3h-.01m0 2h.01m0 3h-.01m0 2h.01m0 1h-.01m0 2h.01m0 2h-.01m0 7h.01m0 11h-.01M479 234h.01m0 1h-.01m0 1h.01m0 3h-.01m0 2h.01m0 1h-.01m0 4h.01m0 4h-.01m0 3h.01m0 1h-.01m0 4h.01m0 1h-.01m0 2h.01m0 1h-.01m0 5h.01m0 1h-.01m0 3h.01m0 1h-.01m0 3h.01m0 1h-.01m0 5h.01m0 2h-.01m0 1h.01M480 229h.01m0 11h-.01m0 5h.01m0 8h-.01m0 1h.01m0 1h-.01m0 3h.01m0 3h-.01m0 2h.01m0 1h-.01m0 1h.01m0 1h-.01m0 2h.01m0 1h-.01m0 2h.01m0 2h-.01m0 6h.01m0 2h-.01m0 5h.01m0 1h-.01M481 198h.01m0 32h-.01m0 7h.01m0 1h-.01m0 6h.01m0 9h-.01m0 1h.01m0 1h-.01m0 1h.01m0 3h-.01m0 4h.01m0 2h-.01m0 1h.01m0 1h-.01m0 2h.01m0 3h-.01m0 1h.01m0 1h-.01m0 1h.01m0 3h-.01m0 1h.01m0 1h-.01m0 2h.01m0 2h-.01m0 6h.01M482 230h.01m0 5h-.01m0 11h.01m0 4h-.01m0 1h.01m0 2h-.01m0 3h.01m0 1h-.01m0 2h.01m0 1h-.01m0 1h.01m0 2h-.01m0 4h.01m0 1h-.01m0 4h.01m0 5h-.01m0 1h.01m0 4h-.01m0 11h.01M483 247h.01m0 6h-.01m0 2h.01m0 2h-.01m0 8h.01m0 1h-.01m0 1h.01m0 2h-.01m0 1h.01m0 2h-.01m0 10h.01m0 3h-.01m0 2h.01m0 11h-.01M484 231h.01m0 6h-.01m0 5h.01m0 2h-.01m0 1h.01m0 1h-.01m0 6h.01m0 1h-.01m0 3h.01m0 1h-.01m0 3h.01m0 1h-.01m0 2h.01m0 1h-.01m0 1h.01m0 1h-.01m0 3h.01m0 5h-.01m0 5h.01m0 1h-.01m0 1h.01m0 3h-.01m0 2h.01m0 2h-.01M485 241h.01m0 9h-.01m0 2h.01m0 3h-.01m0 2h.01m0 6h-.01m0 2h.01m0 1h-.01m0 3h.01m0 4h-.01m0 1h.01m0 4h-.01m0 16h.01M486 246h.01m0 1h-.01m0 5h.01m0 2h-.01m0 2h.01m0 4h-.01m0 2h.01m0 2h-.01m0 2h.01m0 2h-.01m0 1h.01m0 2h-.01m0 1h.01m0 2h-.01m0 4h.01m0 1h-.01m0 1h.01m0 7h-.01m0 2h.01m0 1h-.01M487 242h.01m0 5h-.01m0 2h.01m0 1h-.01m0 3h.01m0 2h-.01m0 4h.01m0 1h-.01m0 2h.01m0 3h-.01m0 1h.01m0 5h-.01m0 1h.01m0 4h-.01m0 2h.01m0 2h-.01m0 1h.01m0 2h-.01m0 5h.01m0 1h-.01M488 246h.01m0 1h-.01m0 3h.01m0 1h-.01m0 4h.01m0 1h-.01m0 2h.01m0 3h-.01m0 1h.01m0 1h-.01m0 3h.01m0 1h-.01m0 3h.01m0 2h-.01m0 2h.01m0 1h-.01m0 2h.01m0 1h-.01m0 1h.01m0 1h-.01m0 1h.01m0 3h-.01m0 1h.01M489 229h.01m0 1h-.01m0 11h.01m0 11h-.01m0 1h.01m0 3h-.01m0 2h.01m0 2h-.01m0 1h.01m0 3h-.01m0 1h.01m0 1h-.01m0 3h.01m0 3h-.01m0 1h.01m0 1h-.01m0 1h.01m0 1h-.01m0 3h.01m0 11h-.01m0 2h.01M490 238h.01m0 5h-.01m0 7h.01m0 7h-.01m0 1h.01m0 4h-.01m0 2h.01m0 3h-.01m0 1h.01m0 2h-.01m0 1h.01m0 7h-.01m0 6h.01m0 2h-.01m0 9h.01M491 259h.01m0 2h-.01m0 4h.01m0 1h-.01m0 2h.01m0 1h-.01m0 3h.01m0 8h-.01m0 1h.01m0 2h-.01m0 16h.01M492 245h.01m0 2h-.01m0 7h.01m0 5h-.01m0 1h.01m0 4h-.01m0 1h.01m0 1h-.01m0 1h.01m0 4h-.01m0 1h.01m0 1h-.01m0 3h.01m0 1h-.01m0 1h.01m0 1h-.01m0 3h.01m0 3h-.01m0 3h.01m0 7h-.01M493 244h.01m0 6h-.01m0 3h.01m0 5h-.01m0 2h.01m0 3h-.01m0 3h.01m0 3h-.01m0 2h.01m0 1h-.01m0 1h.01m0 2h-.01m0 2h.01m0 2h-.01m0 3h.01m0 5h-.01m0 4h.01m0 14h-.01M494 249h.01m0 9h-.01m0 1h.01m0 7h-.01m0 2h.01m0 1h-.01m0 1h.01m0 3h-.01m0 4h.01m0 1h-.01m0 2h.01m0 1h-.01m0 3h.01m0 1h-.01m0 2h.01m0 6h-.01m0 5h.01M495 247h.01m0 10h-.01m0 3h.01m0 1h-.01m0 4h.01m0 3h-.01m0 4h.01m0 1h-.01m0 2h.01m0 2h-.01m0 3h.01m0 1h-.01m0 6h.01m0 4h-.01m0 2h.01m0 14h-.01M496 247h.01m0 6h-.01m0 2h.01m0 2h-.01m0 2h.01m0 1h-.01m0 2h.01m0 3h-.01m0 4h.01m0 2h-.01m0 1h.01m0 1h-.01m0 3h.01m0 3h-.01m0 1h.01m0 3h-.01m0 2h.01m0 2h-.01m0 2h.01m0 5h-.01m0 3h.01m0 1h-.01m0 5h.01m0 1h-.01M497 244h.01m0 1h-.01m0 9h.01m0 1h-.01m0 6h.01m0 2h-.01m0 3h.01m0 1h-.01m0 1h.01m0 4h-.01m0 1h.01m0 1h-.01m0 2h.01m0 4h-.01m0 3h.01m0 1h-.01m0 8h.01M498 250h.01m0 4h-.01m0 1h.01m0 2h-.01m0 2h.01m0 1h-.01m0 3h.01m0 1h-.01m0 1h.01m0 1h-.01m0 3h.01m0 2h-.01m0 3h.01m0 6h-.01m0 1h.01m0 1h-.01m0 1h.01m0 1h-.01m0 2h.01m0 1h-.01m0 6h.01m0 1h-.01M499 259h.01m0 1h-.01m0 3h.01m0 2h-.01m0 1h.01m0 3h-.01m0 5h.01m0 1h-.01m0 1h.01m0 2h-.01m0 5h.01m0 5h-.01m0 7h.01M500 237h.01m0 10h-.01m0 7h.01m0 6h-.01m0 5h.01m0 4h-.01m0 1h.01m0 1h-.01m0 1h.01m0 2h-.01m0 2h.01m0 4h-.01m0 20h.01m0 4h-.01m0 4h.01m0 1h-.01M501 248h.01m0 2h-.01m0 2h.01m0 4h-.01m0 5h.01m0 2h-.01m0 2h.01m0 1h-.01m0 2h.01m0 5h-.01m0 1h.01m0 2h-.01m0 2h.01m0 1h-.01m0 1h.01m0 2h-.01m0 1h.01m0 3h-.01m0 2h.01m0 1h-.01m0 14h.01M502 247h.01m0 2h-.01m0 6h.01m0 7h-.01m0 6h.01m0 3h-.01m0 1h.01m0 1h-.01m0 2h.01m0 1h-.01m0 3h.01m0 3h-.01m0 4h.01m0 2h-.01m0 1h.01m0 6h-.01m0 7h.01m0 14h-.01M503 251h.01m0 13h-.01m0 2h.01m0 1h-.01m0 7h.01m0 4h-.01m0 7h.01m0 8h-.01m0 2h.01m0 4h-.01m0 6h.01m0 40h-.01M504 246h.01m0 9h-.01m0 8h.01m0 1h-.01m0 2h.01m0 3h-.01m0 1h.01m0 3h-.01m0 1h.01m0 2h-.01m0 2h.01m0 1h-.01m0 2h.01m0 2h-.01m0 3h.01m0 1h-.01m0 15h.01m0 4h-.01m0 5h.01M505 238h.01m0 4h-.01m0 12h.01m0 5h-.01m0 3h.01m0 2h-.01m0 2h.01m0 5h-.01m0 5h.01m0 2h-.01m0 2h.01m0 1h-.01m0 3h.01m0 1h-.01m0 1h.01m0 2h-.01m0 3h.01m0 1h-.01m0 2h.01m0 3h-.01m0 6h.01m0 1h-.01m0 15h.01M506 253h.01m0 7h-.01m0 1h.01m0 2h-.01m0 1h.01m0 2h-.01m0 1h.01m0 2h-.01m0 1h.01m0 5h-.01m0 2h.01m0 4h-.01m0 1h.01m0 4h-.01m0 2h.01m0 5h-.01M507 253h.01m0 10h-.01m0 1h.01m0 6h-.01m0 1h.01m0 1h-.01m0 1h.01m0 8h-.01m0 1h.01m0 1h-.01m0 3h.01m0 2h-.01m0 4h.01m0 7h-.01M508 258h.01m0 3h-.01m0 1h.01m0 5h-.01m0 4h.01m0 2h-.01m0 1h.01m0 2h-.01m0 5h.01m0 1h-.01m0 6h.01m0 4h-.01m0 6h.01m0 7h-.01m0 8h.01M509 242h.01m0 8h-.01m0 5h.01m0 2h-.01m0 3h.01m0 2h-.01m0 4h.01m0 2h-.01m0 2h.01m0 1h-.01m0 2h.01m0 1h-.01m0 1h.01m0 7h-.01m0 1h.01m0 2h-.01m0 1h.01m0 1h-.01m0 11h.01m0 1h-.01M510 242h.01m0 14h-.01m0 5h.01m0 5h-.01m0 8h.01m0 1h-.01m0 2h.01m0 2h-.01m0 5h.01m0 11h-.01m0 3h.01m0 1h-.01m0 3h.01M511 250h.01m0 4h-.01m0 5h.01m0 1h-.01m0 3h.01m0 1h-.01m0 3h.01m0 2h-.01m0 9h.01m0 1h-.01m0 1h.01m0 6h-.01m0 3h.01m0 3h-.01m0 6h.01m0 4h-.01m0 30h.01M512 249h.01m0 6h-.01m0 1h.01m0 1h-.01m0 1h.01m0 1h-.01m0 2h.01m0 1h-.01m0 2h.01m0 2h-.01m0 1h.01m0 2h-.01m0 2h.01m0 2h-.01m0 2h.01m0 3h-.01m0 3h.01m0 1h-.01m0 2h.01m0 2h-.01m0 5h.01m0 1h-.01m0 1h.01m0 3h-.01m0 3h.01m0 2h-.01M513 233h.01m0 15h-.01m0 2h.01m0 7h-.01m0 2h.01m0 3h-.01m0 3h.01m0 2h-.01m0 3h.01m0 1h-.01m0 2h.01m0 1h-.01m0 1h.01m0 1h-.01m0 5h.01m0 2h-.01m0 1h.01m0 2h-.01m0 1h.01m0 1h-.01m0 3h.01m0 1h-.01m0 7h.01m0 14h-.01M514 245h.01m0 2h-.01m0 9h.01m0 8h-.01m0 3h.01m0 4h-.01m0 2h.01m0 2h-.01m0 1h.01m0 4h-.01m0 4h.01m0 5h-.01m0 4h.01m0 17h-.01M515 256h.01m0 2h-.01m0 2h.01m0 2h-.01m0 3h.01m0 7h-.01m0 3h.01m0 1h-.01m0 1h.01m0 1h-.01m0 2h.01m0 2h-.01m0 1h.01m0 4h-.01m0 1h.01m0 4h-.01m0 6h.01M516 257h.01m0 3h-.01m0 4h.01m0 1h-.01m0 3h.01m0 2h-.01m0 1h.01m0 3h-.01m0 1h.01m0 5h-.01m0 3h.01m0 2h-.01m0 2h.01m0 4h-.01m0 1h.01m0 6h-.01M517 253h.01m0 2h-.01m0 4h.01m0 2h-.01m0 3h.01m0 1h-.01m0 2h.01m0 3h-.01m0 6h.01m0 5h-.01m0 2h.01m0 1h-.01m0 1h.01m0 14h-.01M518 241h.01m0 6h-.01m0 1h.01m0 5h-.01m0 3h.01m0 5h-.01m0 1h.01m0 1h-.01m0 4h.01m0 4h-.01m0 4h.01m0 1h-.01m0 2h.01m0 2h-.01m0 3h.01m0 2h-.01m0 3h.01m0 4h-.01M519 234h.01m0 22h-.01m0 3h.01m0 4h-.01m0 1h.01m0 1h-.01m0 3h.01m0 1h-.01m0 1h.01m0 1h-.01m0 1h.01m0 3h-.01m0 3h.01m0 1h-.01m0 1h.01m0 3h-.01m0 1h.01m0 1h-.01m0 2h.01m0 2h-.01m0 10h.01M520 215h.01m0 29h-.01m0 1h.01m0 11h-.01m0 5h.01m0 3h-.01m0 3h.01m0 1h-.01m0 6h.01m0 1h-.01m0 3h.01m0 2h-.01m0 2h.01m0 1h-.01m0 1h.01m0 2h-.01m0 6h.01m0 1h-.01M521 236h.01m0 4h-.01m0 13h.01m0 1h-.01m0 4h.01m0 2h-.01m0 1h.01m0 1h-.01m0 3h.01m0 1h-.01m0 1h.01m0 1h-.01m0 2h.01m0 3h-.01m0 1h.01m0 5h-.01m0 1h.01m0 1h-.01m0 5h.01m0 4h-.01m0 1h.01m0 12h-.01M522 245h.01m0 8h-.01m0 5h.01m0 1h-.01m0 4h.01m0 1h-.01m0 3h.01m0 6h-.01m0 1h.01m0 1h-.01m0 3h.01m0 1h-.01m0 2h.01m0 1h-.01m0 2h.01m0 2h-.01m0 5h.01m0 3h-.01m0 1h.01m0 4h-.01M523 240h.01m0 2h-.01m0 5h.01m0 6h-.01m0 2h.01m0 1h-.01m0 5h.01m0 4h-.01m0 5h.01m0 1h-.01m0 3h.01m0 2h-.01m0 4h.01m0 3h-.01M524 242h.01m0 10h-.01m0 2h.01m0 1h-.01m0 6h.01m0 5h-.01m0 5h.01m0 1h-.01m0 1h.01m0 4h-.01m0 1h.01m0 1h-.01m0 4h.01m0 2h-.01m0 19h.01M525 246h.01m0 12h-.01m0 3h.01m0 2h-.01m0 2h.01m0 3h-.01m0 1h.01m0 2h-.01m0 1h.01m0 5h-.01m0 1h.01m0 4h-.01m0 3h.01m0 20h-.01M526 243h.01m0 6h-.01m0 4h.01m0 2h-.01m0 4h.01m0 1h-.01m0 4h.01m0 3h-.01m0 1h.01m0 2h-.01m0 2h.01m0 3h-.01m0 6h.01m0 1h-.01m0 5h.01m0 7h-.01M527 243h.01m0 3h-.01m0 6h.01m0 4h-.01m0 1h.01m0 2h-.01m0 5h.01m0 2h-.01m0 1h.01m0 1h-.01m0 3h.01m0 1h-.01m0 2h.01m0 1h-.01m0 3h.01m0 2h-.01m0 5h.01m0 10h-.01m0 2h.01M528 239h.01m0 14h-.01m0 1h.01m0 8h-.01m0 1h.01m0 1h-.01m0 1h.01m0 3h-.01m0 1h.01m0 3h-.01m0 2h.01m0 2h-.01m0 3h.01m0 1h-.01m0 3h.01m0 1h-.01m0 11h.01m0 2h-.01M529 225h.01m0 35h-.01m0 5h.01m0 1h-.01m0 1h.01m0 3h-.01m0 2h.01m0 1h-.01m0 2h.01m0 4h-.01m0 6h.01m0 3h-.01m0 1h.01M530 237h.01m0 9h-.01m0 5h.01m0 4h-.01m0 2h.01m0 3h-.01m0 5h.01m0 3h-.01m0 1h.01m0 1h-.01m0 2h.01m0 1h-.01m0 1h.01m0 1h-.01m0 1h.01m0 1h-.01m0 2h.01m0 1h-.01m0 1h.01m0 7h-.01m0 3h.01M531 243h.01m0 2h-.01m0 1h.01m0 4h-.01m0 4h.01m0 1h-.01m0 1h.01m0 2h-.01m0 1h.01m0 5h-.01m0 1h.01m0 1h-.01m0 1h.01m0 3h-.01m0 1h.01m0 6h-.01m0 6h.01m0 1h-.01m0 1h.01m0 12h-.01M532 226h.01m0 23h-.01m0 7h.01m0 4h-.01m0 1h.01m0 2h-.01m0 1h.01m0 2h-.01m0 1h.01m0 3h-.01m0 1h.01m0 1h-.01m0 3h.01m0 4h-.01m0 1h.01m0 3h-.01m0 3h.01m0 3h-.01m0 1h.01m0 3h-.01m0 6h.01m0 1h-.01m0 12h.01M533 221h.01m0 21h-.01m0 7h.01m0 3h-.01m0 1h.01m0 2h-.01m0 2h.01m0 3h-.01m0 1h.01m0 1h-.01m0 1h.01m0 3h-.01m0 1h.01m0 2h-.01m0 2h.01m0 1h-.01m0 4h.01m0 3h-.01m0 1h.01m0 3h-.01m0 2h.01m0 1h-.01m0 1h.01M534 246h.01m0 6h-.01m0 4h.01m0 3h-.01m0 1h.01m0 2h-.01m0 4h.01m0 7h-.01m0 2h.01m0 2h-.01m0 4h.01m0 1h-.01m0 2h.01m0 1h-.01m0 1h.01m0 6h-.01m0 1h.01M535 231h.01m0 1h-.01m0 8h.01m0 1h-.01m0 2h.01m0 1h-.01m0 1h.01m0 3h-.01m0 3h.01m0 1h-.01m0 1h.01m0 1h-.01m0 2h.01m0 8h-.01m0 1h.01m0 1h-.01m0 3h.01m0 6h-.01m0 8h.01m0 13h-.01M536 217h.01m0 31h-.01m0 5h.01m0 1h-.01m0 2h.01m0 2h-.01m0 1h.01m0 2h-.01m0 8h.01m0 2h-.01m0 3h.01m0 1h-.01m0 1h.01m0 12h-.01m0 2h.01M537 240h.01m0 1h-.01m0 7h.01m0 7h-.01m0 2h.01m0 2h-.01m0 2h.01m0 1h-.01m0 2h.01m0 3h-.01m0 1h.01m0 2h-.01m0 1h.01m0 7h-.01m0 1h.01m0 2h-.01m0 1h.01m0 2h-.01m0 8h.01M538 228h.01m0 8h-.01m0 11h.01m0 1h-.01m0 2h.01m0 1h-.01m0 1h.01m0 2h-.01m0 5h.01m0 2h-.01m0 3h.01m0 2h-.01m0 1h.01m0 1h-.01m0 17h.01m0 12h-.01M539 241h.01m0 2h-.01m0 2h.01m0 1h-.01m0 4h.01m0 1h-.01m0 5h.01m0 4h-.01m0 3h.01m0 1h-.01m0 1h.01m0 1h-.01m0 2h.01m0 1h-.01m0 2h.01m0 1h-.01m0 7h.01m0 4h-.01M540 239h.01m0 4h-.01m0 5h.01m0 4h-.01m0 1h.01m0 1h-.01m0 1h.01m0 2h-.01m0 4h.01m0 2h-.01m0 2h.01m0 2h-.01m0 2h.01m0 9h-.01m0 1h.01m0 3h-.01m0 2h.01m0 2h-.01m0 33h.01M541 227h.01m0 6h-.01m0 1h.01m0 3h-.01m0 2h.01m0 7h-.01m0 2h.01m0 3h-.01m0 2h.01m0 3h-.01m0 1h.01m0 2h-.01m0 2h.01m0 2h-.01m0 9h.01m0 2h-.01m0 2h.01m0 1h-.01m0 1h.01m0 6h-.01m0 1h.01M542 216h.01m0 21h-.01m0 2h.01m0 3h-.01m0 1h.01m0 3h-.01m0 3h.01m0 1h-.01m0 2h.01m0 1h-.01m0 2h.01m0 1h-.01m0 1h.01m0 4h-.01m0 2h.01m0 3h-.01m0 7h.01m0 1h-.01m0 4h.01M543 227h.01m0 2h-.01m0 2h.01m0 1h-.01m0 4h.01m0 1h-.01m0 1h.01m0 10h-.01m0 6h.01m0 1h-.01m0 3h.01m0 2h-.01m0 1h.01m0 2h-.01m0 5h.01m0 8h-.01M544 228h.01m0 17h-.01m0 4h.01m0 4h-.01m0 2h.01m0 3h-.01m0 9h.01m0 3h-.01m0 7h.01M545 235h.01m0 1h-.01m0 4h.01m0 4h-.01m0 3h.01m0 1h-.01m0 2h.01m0 8h-.01m0 1h.01m0 7h-.01m0 8h.01m0 4h-.01m0 3h.01m0 2h-.01m0 2h.01m0 5h-.01m0 9h.01M546 226h.01m0 1h-.01m0 6h.01m0 4h-.01m0 2h.01m0 1h-.01m0 2h.01m0 2h-.01m0 4h.01m0 2h-.01m0 4h.01m0 2h-.01m0 3h.01m0 1h-.01m0 2h.01m0 6h-.01m0 2h.01m0 2h-.01m0 13h.01M547 234h.01m0 8h-.01m0 4h.01m0 2h-.01m0 1h.01m0 1h-.01m0 1h.01m0 3h-.01m0 1h.01m0 2h-.01m0 1h.01m0 2h-.01m0 2h.01m0 7h-.01m0 2h.01m0 1h-.01m0 5h.01m0 6h-.01m0 7h.01m0 5h-.01M548 225h.01m0 3h-.01m0 2h.01m0 3h-.01m0 2h.01m0 5h-.01m0 1h.01m0 1h-.01m0 6h.01m0 2h-.01m0 4h.01m0 3h-.01m0 1h.01m0 2h-.01m0 2h.01m0 2h-.01m0 2h.01m0 2h-.01m0 1h.01m0 1h-.01m0 3h.01m0 2h-.01m0 4h.01m0 2h-.01m0 12h.01M549 223h.01m0 2h-.01m0 9h.01m0 1h-.01m0 1h.01m0 4h-.01m0 4h.01m0 5h-.01m0 2h.01m0 6h-.01m0 5h.01m0 18h-.01m0 7h.01M550 218h.01m0 4h-.01m0 4h.01m0 9h-.01m0 1h.01m0 1h-.01m0 4h.01m0 1h-.01m0 1h.01m0 2h-.01m0 1h.01m0 2h-.01m0 2h.01m0 2h-.01m0 1h.01m0 3h-.01m0 2h.01m0 2h-.01m0 2h.01m0 2h-.01m0 2h.01m0 13h-.01M551 224h.01m0 13h-.01m0 13h.01m0 2h-.01m0 6h.01m0 3h-.01m0 2h.01m0 1h-.01m0 2h.01m0 3h-.01m0 4h.01m0 3h-.01m0 2h.01m0 27h-.01M552 228h.01m0 1h-.01m0 7h.01m0 3h-.01m0 1h.01m0 6h-.01m0 4h.01m0 3h-.01m0 5h.01m0 10h-.01M553 232h.01m0 10h-.01m0 3h.01m0 14h-.01"/>
<path id="L3" d="M328 222h.01m0 16h-.01M329 217h.01m0 21h-.01m0 9h.01m0 1h-.01m0 2h.01m0 2h-.01m0 6h.01m0 1h-.01M330 241h.01m0 1h-.01m0 4h.01m0 10h-.01m0 2h.01m0 3h-.01m0 1h.01M331 226h.01m0 6h-.01m0 1h.01m0 27h-.01M332 227h.01m0 5h-.01m0 1h.01m0 1h-.01m0 1h.01m0 3h-.01m0 1h.01m0 12h-.01m0 34h.01M333 225h.01m0 22h-.01m0 12h.01m0 8h-.01m0 2h.01m0 3h-.01m0 14h.01M334 221h.01m0 13h-.01m0 11h.01m0 2h-.01m0 4h.01M335 229h.01m0 7h-.01m0 17h.01m0 14h-.01M336 210h.01m0 26h-.01m0 11h.01m0 35h-.01M337 221h.01m0 4h-.01m0 13h.01M338 224h.01m0 4h-.01m0 1h.01m0 8h-.01m0 2h.01m0 3h-.01m0 7h.01m0 16h-.01M339 213h.01m0 11h-.01m0 13h.01m0 9h-.01M340 208h.01m0 13h-.01m0 12h.01m0 18h-.01m0 4h.01M341 215h.01m0 18h-.01m0 16h.01M342 221h.01m0 7h-.01m0 4h.01m0 3h-.01m0 8h.01m0 5h-.01m0 5h.01M343 232h.01m0 1h-.01m0 1h.01m0 2h-.01m0 7h.01M344 227h.01m0 1h-.01m0 4h.01m0 4h-.01m0 1h.01m0 13h-.01m0 1h.01M345 225h.01m0 10h-.01m0 4h.01m0 5h-.01m0 6h.01m0 1h-.01m0 4h.01M346 191h.01m0 14h-.01m0 14h.01m0 4h-.01m0 3h.01m0 4h-.01m0 3h.01m0 1h-.01m0 10h.01m0 1h-.01m0 43h.01M347 227h.01m0 10h-.01m0 15h.01M348 211h.01m0 7h-.01m0 21h.01m0 15h-.01M349 232h.01m0 2h-.01m0 3h.01m0 2h-.01m0 6h.01M350 210h.01m0 12h-.01m0 11h.01m0 2h-.01m0 3h.01m0 1h-.01m0 9h.01m0 14h-.01M351 195h.01m0 41h-.01m0 5h.01m0 7h-.01m0 7h.01M352 201h.01m0 8h-.01m0 27h.01m0 15h-.01m0 6h.01M353 195h.01m0 16h-.01m0 12h.01m0 3h-.01m0 2h.01m0 7h-.01M354 217h.01m0 10h-.01M355 210h.01m0 9h-.01m0 5h.01m0 4h-.01m0 2h.01m0 3h-.01M356 206h.01m0 2h-.01m0 10h.01m0 16h-.01m0 10h.01m0 5h-.01M357 216h.01m0 3h-.01m0 2h.01m0 2h-.01m0 7h.01m0 7h-.01M358 206h.01m0 9h-.01m0 1h.01m0 6h-.01M359 188h.01m0 4h-.01m0 23h.01m0 2h-.01m0 2h.01m0 3h-.01m0 1h.01m0 8h-.01m0 16h.01m0 16h-.01M360 214h.01m0 1h-.01m0 1h.01m0 2h-.01m0 4h.01m0 12h-.01M361 198h.01m0 16h-.01m0 5h.01m0 1h-.01m0 3h.01m0 5h-.01M362 214h.01m0 15h-.01M363 216h.01m0 22h-.01m0 16h.01M364 192h.01m0 14h-.01m0 4h.01m0 8h-.01m0 1h.01m0 3h-.01m0 1h.01m0 9h-.01m0 11h.01M365 201h.01m0 2h-.01m0 13h.01m0 3h-.01m0 3h.01m0 5h-.01m0 1h.01M366 199h.01m0 13h-.01m0 4h.01m0 6h-.01m0 4h.01m0 21h-.01M367 203h.01m0 6h-.01m0 7h.01m0 31h-.01M368 213h.01m0 9h-.01m0 13h.01m0 8h-.01M369 198h.01m0 9h-.01m0 14h.01m0 2h-.01m0 1h.01m0 12h-.01m0 10h.01m0 1h-.01M370 209h.01m0 8h-.01m0 8h.01m0 2h-.01m0 12h.01M371 202h.01m0 8h-.01m0 11h.01m0 1h-.01m0 2h.01m0 8h-.01M372 201h.01m0 7h-.01m0 2h.01m0 3h-.01m0 3h.01m0 4h-.01m0 11h.01M373 197h.01m0 1h-.01m0 17h.01m0 9h-.01m0 2h.01m0 6h-.01m0 3h.01m0 3h-.01m0 1h.01m0 9h-.01m0 7h.01M374 197h.01m0 6h-.01m0 3h.01m0 5h-.01m0 5h.01m0 1h-.01m0 2h.01m0 1h-.01m0 8h.01m0 4h-.01m0 18h.01M375 192h.01m0 4h-.01m0 9h.01M376 189h.01m0 27h-.01m0 1h.01m0 5h-.01m0 15h.01M377 214h.01m0 3h-.01m0 8h.01m0 7h-.01M378 195h.01m0 3h-.01m0 16h.01M379 206h.01m0 8h-.01m0 26h.01M380 211h.01m0 3h-.01m0 1h.01m0 4h-.01m0 1h.01m0 7h-.01m0 2h.01m0 13h-.01M381 201h.01m0 13h-.01m0 1h.01m0 7h-.01m0 5h.01M382 201h.01m0 11h-.01m0 17h.01m0 7h-.01M383 191h.01m0 4h-.01m0 3h.01m0 8h-.01m0 8h.01m0 1h-.01m0 6h.01m0 1h-.01m0 2h.01M384 198h.01m0 3h-.01m0 9h.01m0 1h-.01m0 30h.01M385 194h.01m0 3h-.01m0 6h.01m0 7h-.01m0 22h.01m0 2h-.01m0 8h.01M386 189h.01m0 13h-.01m0 18h.01m0 9h-.01M387 215h.01m0 3h-.01m0 1h.01m0 2h-.01M388 204h.01m0 3h-.01m0 3h.01m0 8h-.01m0 12h.01m0 8h-.01M389 200h.01m0 7h-.01m0 8h.01M390 202h.01m0 7h-.01m0 5h.01m0 13h-.01M391 200h.01m0 3h-.01m0 4h.01m0 2h-.01m0 21h.01M392 199h.01m0 9h-.01m0 6h.01m0 2h-.01m0 12h.01M393 174h.01m0 24h-.01m0 21h.01m0 6h-.01m0 1h.01M394 186h.01m0 1h-.01m0 3h.01m0 9h-.01m0 6h.01m0 4h-.01m0 10h.01m0 1h-.01m0 4h.01M395 218h.01m0 14h-.01m0 11h.01M396 214h.01m0 8h-.01m0 37h.01M397 212h.01m0 1h-.01m0 9h.01m0 2h-.01m0 5h.01M398 201h.01m0 10h-.01m0 1h.01m0 10h-.01m0 9h.01m0 12h-.01M399 189h.01m0 3h-.01m0 2h.01m0 6h-.01m0 8h.01m0 10h-.01m0 4h.01M400 187h.01m0 12h-.01m0 8h.01m0 8h-.01m0 1h.01m0 3h-.01m0 12h.01m0 2h-.01M401 202h.01m0 8h-.01m0 10h.01m0 3h-.01m0 13h.01M402 180h.01m0 20h-.01m0 8h.01m0 2h-.01m0 3h.01m0 4h-.01m0 4h.01m0 2h-.01m0 2h.01m0 2h-.01m0 2h.01m0 16h-.01M403 208h.01m0 2h-.01m0 1h.01m0 24h-.01M404 192h.01m0 17h-.01m0 8h.01m0 17h-.01M405 196h.01m0 2h-.01m0 16h.01m0 1h-.01m0 9h.01m0 8h-.01M406 198h.01m0 10h-.01m0 3h.01m0 10h-.01m0 3h.01M407 204h.01m0 4h-.01m0 24h.01m0 5h-.01M408 211h.01m0 4h-.01m0 3h.01M409 203h.01m0 19h-.01m0 1h.01m0 2h-.01M410 203h.01m0 6h-.01M411 200h.01m0 9h-.01m0 6h.01m0 6h-.01m0 4h.01m0 5h-.01m0 3h.01M412 204h.01m0 1h-.01m0 8h.01m0 8h-.01m0 13h.01M413 198h.01m0 18h-.01m0 4h.01m0 2h-.01m0 13h.01M414 195h.01m0 3h-.01m0 7h.01m0 3h-.01m0 6h.01m0 7h-.01m0 2h.01m0 4h-.01M415 191h.01m0 13h-.01m0 7h.01m0 11h-.01M416 201h.01m0 11h-.01m0 4h.01m0 12h-.01m0 5h.01M417 207h.01m0 8h-.01m0 2h.01m0 2h-.01m0 1h.01m0 14h-.01M418 201h.01m0 8h-.01m0 9h.01m0 6h-.01m0 6h.01M419 200h.01m0 6h-.01m0 4h.01m0 14h-.01M420 201h.01m0 5h-.01m0 3h.01m0 9h-.01m0 7h.01m0 13h-.01m0 14h.01M421 202h.01m0 2h-.01m0 13h.01m0 1h-.01m0 3h.01m0 6h-.01M422 190h.01m0 14h-.01m0 4h.01m0 1h-.01m0 3h.01m0 1h-.01m0 22h.01M423 210h.01m0 2h-.01m0 11h.01m0 4h-.01M424 201h.01m0 18h-.01M425 204h.01m0 7h-.01m0 3h.01m0 24h-.01m0 2h.01M426 200h.01m0 11h-.01m0 2h.01m0 1h-.01m0 6h.01m0 1h-.01m0 8h.01m0 17h-.01M427 206h.01m0 10h-.01m0 1h.01m0 2h-.01M428 195h.01m0 13h-.01m0 4h.01m0 11h-.01m0 2h.01m0 13h-.01m0 3h.01M429 220h.01m0 23h-.01M430 196h.01m0 30h-.01m0 4h.01m0 5h-.01m0 16h.01M431 221h.01m0 1h-.01m0 7h.01m0 3h-.01m0 2h.01m0 4h-.01M432 228h.01m0 7h-.01M433 199h.01m0 3h-.01m0 2h.01m0 14h-.01m0 4h.01m0 3h-.01m0 7h.01M434 214h.01m0 5h-.01m0 3h.01m0 10h-.01m0 1h.01M435 228h.01m0 9h-.01m0 5h.01M436 203h.01m0 2h-.01m0 11h.01m0 18h-.01m0 6h.01M437 198h.01m0 23h-.01m0 9h.01M438 213h.01m0 3h-.01m0 1h.01m0 5h-.01m0 2h.01m0 3h-.01m0 10h.01M439 207h.01m0 16h-.01m0 1h.01m0 3h-.01M440 186h.01m0 28h-.01m0 14h.01m0 12h-.01m0 2h.01M441 215h.01m0 9h-.01m0 4h.01m0 23h-.01M442 223h.01m0 10h-.01m0 13h.01M443 218h.01m0 5h-.01m0 11h.01m0 6h-.01M444 215h.01m0 11h-.01m0 4h.01m0 3h-.01m0 3h.01M445 220h.01m0 7h-.01m0 22h.01m0 2h-.01m0 8h.01M446 221h.01m0 1h-.01m0 2h.01m0 1h-.01m0 3h.01m0 17h-.01M447 210h.01m0 35h-.01m0 6h.01M448 219h.01m0 4h-.01m0 3h.01m0 9h-.01m0 18h.01m0 4h-.01M449 221h.01m0 8h-.01m0 10h.01m0 1h-.01m0 2h.01m0 3h-.01m0 1h.01M450 222h.01m0 15h-.01M451 230h.01m0 2h-.01m0 18h.01M452 209h.01m0 18h-.01m0 4h.01m0 17h-.01m0 4h.01m0 9h-.01M453 227h.01m0 1h-.01m0 1h.01m0 10h-.01m0 1h.01M454 224h.01m0 19h-.01m0 10h.01m0 17h-.01M455 211h.01m0 7h-.01m0 4h.01m0 11h-.01m0 4h.01m0 6h-.01m0 18h.01M456 227h.01m0 2h-.01m0 7h.01m0 2h-.01m0 1h.01m0 1h-.01m0 2h.01m0 9h-.01m0 9h.01M457 233h.01m0 2h-.01m0 3h.01m0 11h-.01m0 11h.01M458 221h.01m0 14h-.01M459 215h.01m0 22h-.01m0 3h.01m0 19h-.01m0 4h.01M460 243h.01m0 4h-.01m0 5h.01m0 2h-.01M461 211h.01m0 14h-.01m0 42h.01M462 238h.01m0 3h-.01m0 5h.01m0 5h-.01m0 5h.01m0 4h-.01M463 273h.01M464 223h.01m0 6h-.01m0 9h.01m0 2h-.01m0 2h.01m0 4h-.01M465 248h.01m0 2h-.01m0 5h.01M466 232h.01m0 8h-.01m0 7h.01m0 4h-.01M467 250h.01m0 14h-.01M468 238h.01m0 13h-.01m0 8h.01m0 4h-.01M469 238h.01m0 4h-.01m0 2h.01m0 2h-.01m0 1h.01m0 1h-.01m0 1h.01m0 2h-.01m0 12h.01M470 264h.01M471 239h.01m0 4h-.01m0 7h.01m0 12h-.01m0 1h.01m0 3h-.01m0 8h.01M472 233h.01m0 16h-.01m0 1h.01m0 1h-.01m0 9h.01m0 1h-.01m0 1h.01m0 10h-.01m0 1h.01M473 226h.01m0 32h-.01m0 1h.01m0 10h-.01m0 6h.01m0 3h-.01M474 243h.01m0 1h-.01m0 15h.01m0 19h-.01M475 232h.01m0 20h-.01m0 3h.01m0 2h-.01m0 4h.01m0 1h-.01M476 241h.01m0 24h-.01m0 4h.01m0 1h-.01m0 7h.01M477 229h.01m0 20h-.01m0 20h.01m0 7h-.01M478 247h.01m0 1h-.01m0 7h.01m0 4h-.01m0 5h.01m0 5h-.01m0 8h.01M479 262h.01m0 9h-.01m0 4h.01M480 254h.01m0 1h-.01m0 3h.01m0 3h-.01m0 2h.01m0 1h-.01m0 1h.01m0 1h-.01m0 3h.01m0 4h-.01m0 8h.01M481 230h.01m0 25h-.01m0 1h.01m0 19h-.01m0 4h.01m0 3h-.01m0 2h.01m0 6h-.01M482 250h.01m0 6h-.01m0 4h.01M483 255h.01m0 2h-.01m0 9h.01m0 6h-.01m0 10h.01m0 3h-.01M484 231h.01m0 6h-.01m0 19h.01m0 1h-.01m0 7h.01m0 17h-.01M485 250h.01m0 5h-.01m0 2h.01m0 6h-.01m0 2h.01m0 1h-.01m0 3h.01M486 256h.01m0 12h-.01m0 1h.01m0 9h-.01M487 250h.01m0 10h-.01m0 2h.01m0 16h-.01M488 251h.01m0 10h-.01m0 1h.01m0 5h-.01m0 3h.01m0 4h-.01m0 3h.01m0 4h-.01M489 253h.01m0 3h-.01m0 2h.01m0 7h-.01m0 4h.01m0 3h-.01m0 2h.01m0 1h-.01m0 17h.01M490 243h.01m0 14h-.01m0 10h.01m0 1h-.01m0 2h.01m0 1h-.01m0 7h.01M491 259h.01m0 6h-.01m0 1h.01m0 17h-.01M492 247h.01m0 19h-.01m0 5h.01m0 2h-.01m0 3h.01m0 3h-.01m0 16h.01M493 253h.01m0 5h-.01m0 2h.01m0 3h-.01m0 3h.01m0 3h-.01m0 2h.01m0 11h-.01m0 23h.01M494 273h.01m0 4h-.01m0 3h.01m0 1h-.01m0 12h.01M495 272h.01m0 5h-.01m0 3h.01m0 7h-.01m0 20h.01M496 253h.01m0 6h-.01m0 3h.01m0 3h-.01m0 6h.01m0 2h-.01m0 7h.01m0 7h-.01m0 2h.01m0 15h-.01M497 244h.01m0 10h-.01m0 12h.01m0 1h-.01m0 1h.01m0 4h-.01m0 1h.01m0 1h-.01m0 2h.01m0 16h-.01M498 250h.01m0 4h-.01m0 3h.01m0 6h-.01m0 2h.01m0 4h-.01m0 2h.01m0 3h-.01m0 12h.01M499 263h.01m0 2h-.01m0 10h.01M500 254h.01m0 17h-.01m0 1h.01m0 36h-.01M501 248h.01m0 4h-.01m0 16h.01m0 6h-.01m0 9h.01m0 3h-.01m0 2h.01m0 1h-.01M502 255h.01m0 16h-.01m0 1h.01m0 3h-.01m0 4h.01m0 7h-.01m0 9h.01M503 264h.01m0 2h-.01m0 12h.01m0 27h-.01M504 255h.01m0 15h-.01m0 8h.01m0 1h-.01m0 2h.01m0 5h-.01m0 1h.01M505 254h.01m0 10h-.01m0 16h.01m0 6h-.01m0 6h.01M506 261h.01m0 5h-.01m0 9h.01m0 11h-.01m0 2h.01m0 5h-.01M507 270h.01m0 22h-.01M508 261h.01m0 10h-.01m0 3h.01m0 14h-.01M509 257h.01m0 11h-.01m0 2h.01m0 3h-.01m0 2h.01m0 7h-.01m0 1h.01m0 4h-.01M510 275h.01m0 2h-.01m0 18h.01m0 3h-.01M511 254h.01m0 6h-.01m0 3h.01m0 1h-.01m0 5h.01m0 10h-.01m0 10h.01M512 255h.01m0 1h-.01m0 1h.01m0 1h-.01m0 9h.01m0 2h-.01M513 262h.01m0 3h-.01m0 5h.01m0 3h-.01m0 1h.01m0 7h-.01m0 2h.01m0 1h-.01m0 4h.01m0 3h-.01M514 280h.01m0 9h-.01M515 256h.01m0 16h-.01m0 3h.01m0 1h-.01m0 1h.01m0 1h-.01m0 2h.01M516 260h.01m0 8h-.01m0 2h.01m0 15h-.01m0 6h.01M517 255h.01m0 10h-.01m0 2h.01m0 3h-.01m0 11h.01m0 2h-.01M518 261h.01m0 6h-.01m0 8h.01m0 1h-.01m0 2h.01m0 2h-.01m0 12h.01M519 264h.01m0 1h-.01m0 4h.01m0 3h-.01m0 6h.01m0 5h-.01m0 2h.01M520 274h.01m0 1h-.01m0 5h.01m0 2h-.01m0 1h.01m0 1h-.01m0 9h.01M521 253h.01m0 1h-.01m0 14h.01m0 11h-.01m0 11h.01M522 253h.01m0 21h-.01m0 1h.01m0 4h-.01m0 2h.01m0 1h-.01m0 2h.01m0 10h-.01M523 242h.01m0 14h-.01m0 9h.01m0 5h-.01m0 10h.01M524 272h.01m0 7h-.01m0 25h.01M525 258h.01m0 5h-.01m0 2h.01m0 3h-.01m0 1h.01m0 8h-.01m0 5h.01M526 264h.01m0 4h-.01m0 7h.01m0 7h-.01m0 12h.01M527 259h.01m0 9h-.01m0 3h.01m0 3h-.01m0 4h.01M528 264h.01m0 4h-.01m0 8h.01M529 260h.01m0 6h-.01m0 4h.01m0 5h-.01m0 13h.01M530 251h.01m0 6h-.01m0 12h.01m0 6h-.01m0 6h.01M531 243h.01m0 3h-.01m0 12h.01m0 12h-.01m0 14h.01M532 256h.01m0 7h-.01m0 7h.01m0 9h-.01m0 1h.01m0 6h-.01M533 242h.01m0 10h-.01m0 1h.01m0 2h-.01m0 2h.01m0 3h-.01m0 6h.01m0 1h-.01m0 16h.01m0 2h-.01m0 2h.01M534 259h.01m0 14h-.01m0 4h.01m0 4h-.01m0 1h.01M535 243h.01m0 5h-.01m0 17h.01m0 10h-.01M536 253h.01m0 3h-.01m0 15h.01m0 3h-.01m0 1h.01m0 1h-.01m0 12h.01M537 255h.01m0 12h-.01m0 1h.01m0 2h-.01m0 11h.01M538 252h.01m0 9h-.01M539 245h.01m0 5h-.01m0 1h.01m0 5h-.01m0 4h.01m0 5h-.01m0 3h.01m0 1h-.01m0 10h.01m0 4h-.01M540 243h.01m0 9h-.01m0 2h.01m0 3h-.01m0 8h.01m0 13h-.01m0 1h.01m0 5h-.01M541 227h.01m0 7h-.01m0 5h.01m0 7h-.01m0 10h.01m0 1h-.01m0 2h.01m0 2h-.01m0 2h.01m0 9h-.01m0 2h.01m0 4h-.01m0 6h.01M542 246h.01m0 3h-.01m0 1h.01m0 2h-.01m0 1h.01m0 2h-.01m0 2h.01m0 4h-.01m0 12h.01M543 229h.01m0 29h-.01m0 3h.01m0 2h-.01m0 13h.01M544 249h.01m0 4h-.01m0 5h.01M545 240h.01m0 7h-.01m0 36h.01M546 240h.01m0 10h-.01m0 10h.01m0 12h-.01M547 234h.01m0 14h-.01m0 1h.01m0 1h-.01m0 1h.01m0 3h-.01m0 1h.01m0 2h-.01m0 1h.01m0 2h-.01m0 9h.01m0 8h-.01M548 233h.01m0 15h-.01m0 2h.01m0 4h-.01m0 14h.01m0 7h-.01m0 6h.01M549 225h.01m0 9h-.01m0 2h.01m0 8h-.01M550 248h.01m0 2h-.01m0 6h.01M551 250h.01m0 2h-.01m0 9h.01m0 5h-.01M552 228h.01m0 1h-.01m0 7h.01m0 4h-.01m0 13h.01m0 15h-.01M553 242h.01"/>
<path id="L4" d="M329 250h.01m0 2h-.01m0 6h.01M330 242h.01m0 19h-.01M332 227h.01m0 5h-.01m0 3h.01m0 4h-.01m0 12h.01M333 225h.01m0 22h-.01M335 267h.01M336 236h.01M337 238h.01M339 246h.01M340 255h.01M341 215h.01m0 18h-.01M342 221h.01M343 233h.01M344 227h.01m0 10h-.01m0 13h.01M345 225h.01m0 19h-.01M346 205h.01m0 25h-.01m0 4h.01M347 252h.01M348 211h.01M349 239h.01M352 236h.01m0 15h-.01M354 227h.01M355 210h.01M356 208h.01m0 26h-.01M357 223h.01M358 216h.01m0 6h-.01M359 217h.01m0 5h-.01m0 1h.01M360 214h.01m0 1h-.01m0 7h.01M361 228h.01M363 238h.01M364 210h.01m0 13h-.01m0 20h.01M365 222h.01M367 209h.01M368 222h.01M370 209h.01m0 8h-.01M371 202h.01M372 220h.01M373 224h.01M374 216h.01m0 3h-.01m0 13h.01m0 18h-.01M376 222h.01M377 225h.01M378 214h.01M380 227h.01M381 222h.01M382 201h.01m0 28h-.01M383 224h.01M384 198h.01m0 13h-.01M385 197h.01m0 13h-.01m0 22h.01m0 2h-.01M387 215h.01m0 4h-.01M388 207h.01m0 11h-.01M390 214h.01M391 209h.01M393 226h.01M394 186h.01m0 23h-.01m0 11h.01M396 222h.01M398 201h.01m0 21h-.01M399 189h.01M400 215h.01m0 1h-.01m0 3h.01m0 14h-.01M402 208h.01m0 2h-.01m0 13h.01M403 208h.01m0 27h-.01M406 208h.01m0 3h-.01m0 13h.01M407 237h.01M408 215h.01M409 222h.01M411 225h.01M412 205h.01m0 16h-.01M413 220h.01M414 214h.01M415 191h.01m0 13h-.01m0 7h.01m0 11h-.01M416 216h.01M417 217h.01m0 2h-.01m0 1h.01M419 200h.01m0 6h-.01M421 202h.01m0 16h-.01m0 3h.01M422 208h.01m0 1h-.01m0 4h.01m0 22h-.01M423 212h.01m0 15h-.01M425 238h.01M426 220h.01M427 206h.01m0 13h-.01M428 208h.01m0 4h-.01m0 26h.01M429 220h.01M430 230h.01M434 219h.01M435 242h.01M436 234h.01m0 6h-.01M438 222h.01m0 2h-.01m0 3h.01m0 10h-.01M439 224h.01M440 214h.01M441 251h.01M443 218h.01m0 16h-.01m0 6h.01M444 215h.01m0 18h-.01M446 221h.01m0 1h-.01m0 2h.01M448 219h.01m0 4h-.01m0 3h.01M449 221h.01m0 24h-.01M453 229h.01m0 10h-.01m0 1h.01M454 270h.01M456 227h.01m0 2h-.01m0 31h.01M457 249h.01M459 263h.01M460 243h.01M462 241h.01m0 5h-.01m0 14h.01M464 229h.01m0 9h-.01m0 4h.01m0 4h-.01M468 259h.01M469 242h.01m0 6h-.01m0 3h.01M471 266h.01M472 249h.01m0 24h-.01M473 258h.01M475 252h.01m0 3h-.01m0 6h.01M476 270h.01M478 255h.01m0 9h-.01M479 262h.01m0 9h-.01M480 255h.01m0 3h-.01m0 3h.01M481 230h.01m0 25h-.01m0 20h.01m0 15h-.01M483 255h.01m0 11h-.01M485 257h.01m0 6h-.01M487 262h.01m0 16h-.01M488 262h.01m0 19h-.01M489 256h.01m0 18h-.01M492 266h.01M493 258h.01m0 8h-.01m0 3h.01m0 2h-.01M494 281h.01M495 272h.01M496 262h.01m0 11h-.01m0 31h.01M497 254h.01m0 12h-.01M498 263h.01m0 6h-.01m0 2h.01M500 271h.01M501 268h.01m0 6h-.01M502 255h.01m0 16h-.01m0 1h.01m0 23h-.01M503 278h.01M504 255h.01M505 254h.01m0 26h-.01m0 6h.01m0 6h-.01M506 266h.01M507 292h.01M508 271h.01M509 270h.01m0 3h-.01m0 9h.01M510 275h.01M512 267h.01m0 2h-.01M513 270h.01m0 3h-.01m0 10h.01m0 5h-.01M514 280h.01M515 275h.01m0 3h-.01M516 268h.01m0 23h-.01M517 255h.01m0 12h-.01m0 14h.01M518 278h.01M519 264h.01m0 1h-.01m0 4h.01m0 14h-.01M520 280h.01m0 2h-.01M522 282h.01m0 2h-.01M523 256h.01m0 14h-.01m0 10h.01M524 279h.01M525 263h.01M526 275h.01M527 268h.01m0 6h-.01m0 4h.01M528 276h.01M529 275h.01M530 269h.01m0 6h-.01M532 256h.01m0 7h-.01m0 7h.01m0 10h-.01m0 6h.01M533 257h.01m0 3h-.01m0 6h.01m0 1h-.01M534 282h.01M535 248h.01m0 27h-.01M536 271h.01m0 3h-.01m0 2h.01M539 250h.01m0 6h-.01m0 4h.01m0 19h-.01M540 257h.01M541 246h.01m0 11h-.01m0 2h.01m0 4h-.01m0 9h.01M542 249h.01m0 3h-.01m0 1h.01M543 276h.01M544 249h.01m0 4h-.01m0 5h.01M545 240h.01m0 7h-.01M546 240h.01m0 10h-.01m0 10h.01m0 12h-.01M547 248h.01m0 1h-.01m0 11h.01m0 9h-.01M548 233h.01M549 234h.01m0 10h-.01M551 252h.01M552 240h.01m0 13h-.01m0 15h.01"/>
<path id="L5" d="M332 251h.01M333 247h.01M336 236h.01M346 205h.01m0 25h-.01M347 252h.01M349 239h.01M352 236h.01m0 15h-.01M355 210h.01M357 223h.01M359 223h.01M364 210h.01M365 222h.01M374 216h.01m0 3h-.01M381 222h.01M382 229h.01M385 234h.01M387 219h.01M394 186h.01m0 23h-.01M396 222h.01M398 201h.01M402 208h.01M403 208h.01M409 222h.01M411 225h.01M414 214h.01M416 216h.01M419 200h.01M421 218h.01M427 206h.01m0 13h-.01M430 230h.01M435 242h.01M443 234h.01m0 6h-.01M446 222h.01M453 229h.01M456 227h.01m0 2h-.01M460 243h.01M462 241h.01M464 238h.01M475 255h.01M479 271h.01M480 258h.01m0 3h-.01M481 255h.01M489 274h.01M495 272h.01M497 266h.01M498 263h.01M500 271h.01M502 272h.01M503 278h.01M506 266h.01M507 292h.01M509 270h.01m0 3h-.01M513 283h.01M519 265h.01m0 18h-.01M520 280h.01M522 282h.01M524 279h.01M527 268h.01m0 6h-.01M529 275h.01M530 269h.01M533 266h.01M535 248h.01M536 276h.01M539 256h.01M540 257h.01M541 246h.01m0 17h-.01M542 249h.01m0 3h-.01M544 249h.01m0 4h-.01M545 247h.01M548 233h.01M552 253h.01"/>
<path id="L6" d="M333 247h.01M349 239h.01M352 236h.01M374 216h.01M387 219h.01M394 209h.01M396 222h.01M402 208h.01M409 222h.01M414 214h.01M419 200h.01M446 222h.01M456 229h.01M475 255h.01M497 266h.01M509 270h.01M527 268h.01M529 275h.01M530 269h.01M540 257h.01M542 249h.01"/>
<path id="L7" d="M333 247h.01M349 239h.01M446 222h.01M475 255h.01M542 249h.01"/>
</defs>
<g fill="none" stroke="#1f77b4" stroke-width="1.389" stroke-opacity="0.594" stroke-linecap="round" transform="translate(.5 .5)">
<g stroke-opacity="0.594"><use href="#L1"/><use href="#L1" x="-225"/></g>
<g stroke-opacity="0.35"><use href="#L2"/><use href="#L2" x="-225"/></g>
<g stroke-opacity="0.2"><use href="#L3"/><use href="#L3" x="-225"/></g>
<g stroke-opacity="0.2"><use href="#L4"/><use href="#L4" x="-225"/></g>
<g stroke-opacity="0.2"><use href="#L5"/><use href="#L5" x="-225"/></g>
<g stroke-opacity="0.2"><use href="#L6"/><use href="#L6" x="-225"/></g>
<g stroke-opacity="0.2"><use href="#L7"/><use href="#L7" x="-225"/></g>
</g>
<rect x="80.5" y="58.5" width="496" height="369" fill="none" stroke="#000" stroke-width="1.111"/>
<path d="M103.5 427.5v5M159.5 427.5v5M215.5 427.5v5M272.5 427.5v5M328.5 427.5v5M384.5 427.5v5M441.5 427.5v5M497.5 427.5v5M553.5 427.5v5M80.5 118.5h-5M80.5 180.5h-5M80.5 243.5h-5M80.5 305.5h-5M80.5 368.5h-5" fill="none" stroke="#000" stroke-width="1.111"/>
<g><text x="102.4" y="447.6" text-anchor="middle" textLength="41.3">−1.00</text><text x="158.4" y="447.6" text-anchor="middle" textLength="41.3">−0.75</text><text x="215.2" y="447.6" text-anchor="middle" textLength="41.3">−0.50</text><text x="271.4" y="447.6" text-anchor="middle" textLength="41.3">−0.25</text><text x="328.8" y="447.6" text-anchor="middle" textLength="29.6">0.00</text><text x="384.8" y="447.6" text-anchor="middle" textLength="29.6">0.25</text><text x="441" y="447.6" text-anchor="middle" textLength="29.6">0.50</text><text x="497.8" y="447.6" text-anchor="middle" textLength="29.6">0.75</text><text x="553.8" y="447.6" text-anchor="middle" textLength="29.6">1.00</text></g>
<g><text x="69.9" y="123.3" text-anchor="end" textLength="22">4.0</text><text x="69.9" y="186.3" text-anchor="end" textLength="22">3.5</text><text x="69.9" y="248.3" text-anchor="end" textLength="22">3.0</text><text x="69.9" y="311.3" text-anchor="end" textLength="22">2.5</text><text x="69.9" y="373.3" text-anchor="end" textLength="22">2.0</text></g>
<text x="327" y="466.5" text-anchor="middle" textLength="39.9">phase</text>
<text transform="translate(38.5 244.1) rotate(-90)" text-anchor="middle" textLength="25.8">flux</text>
<text class="t" transform="translate(328 48.9) scale(1 1.05)" text-anchor="middle" textLength="437.75">1SWASPJ153908.84+462503.9 Period 12605.76562s</text>
</svg>
</body></html>
